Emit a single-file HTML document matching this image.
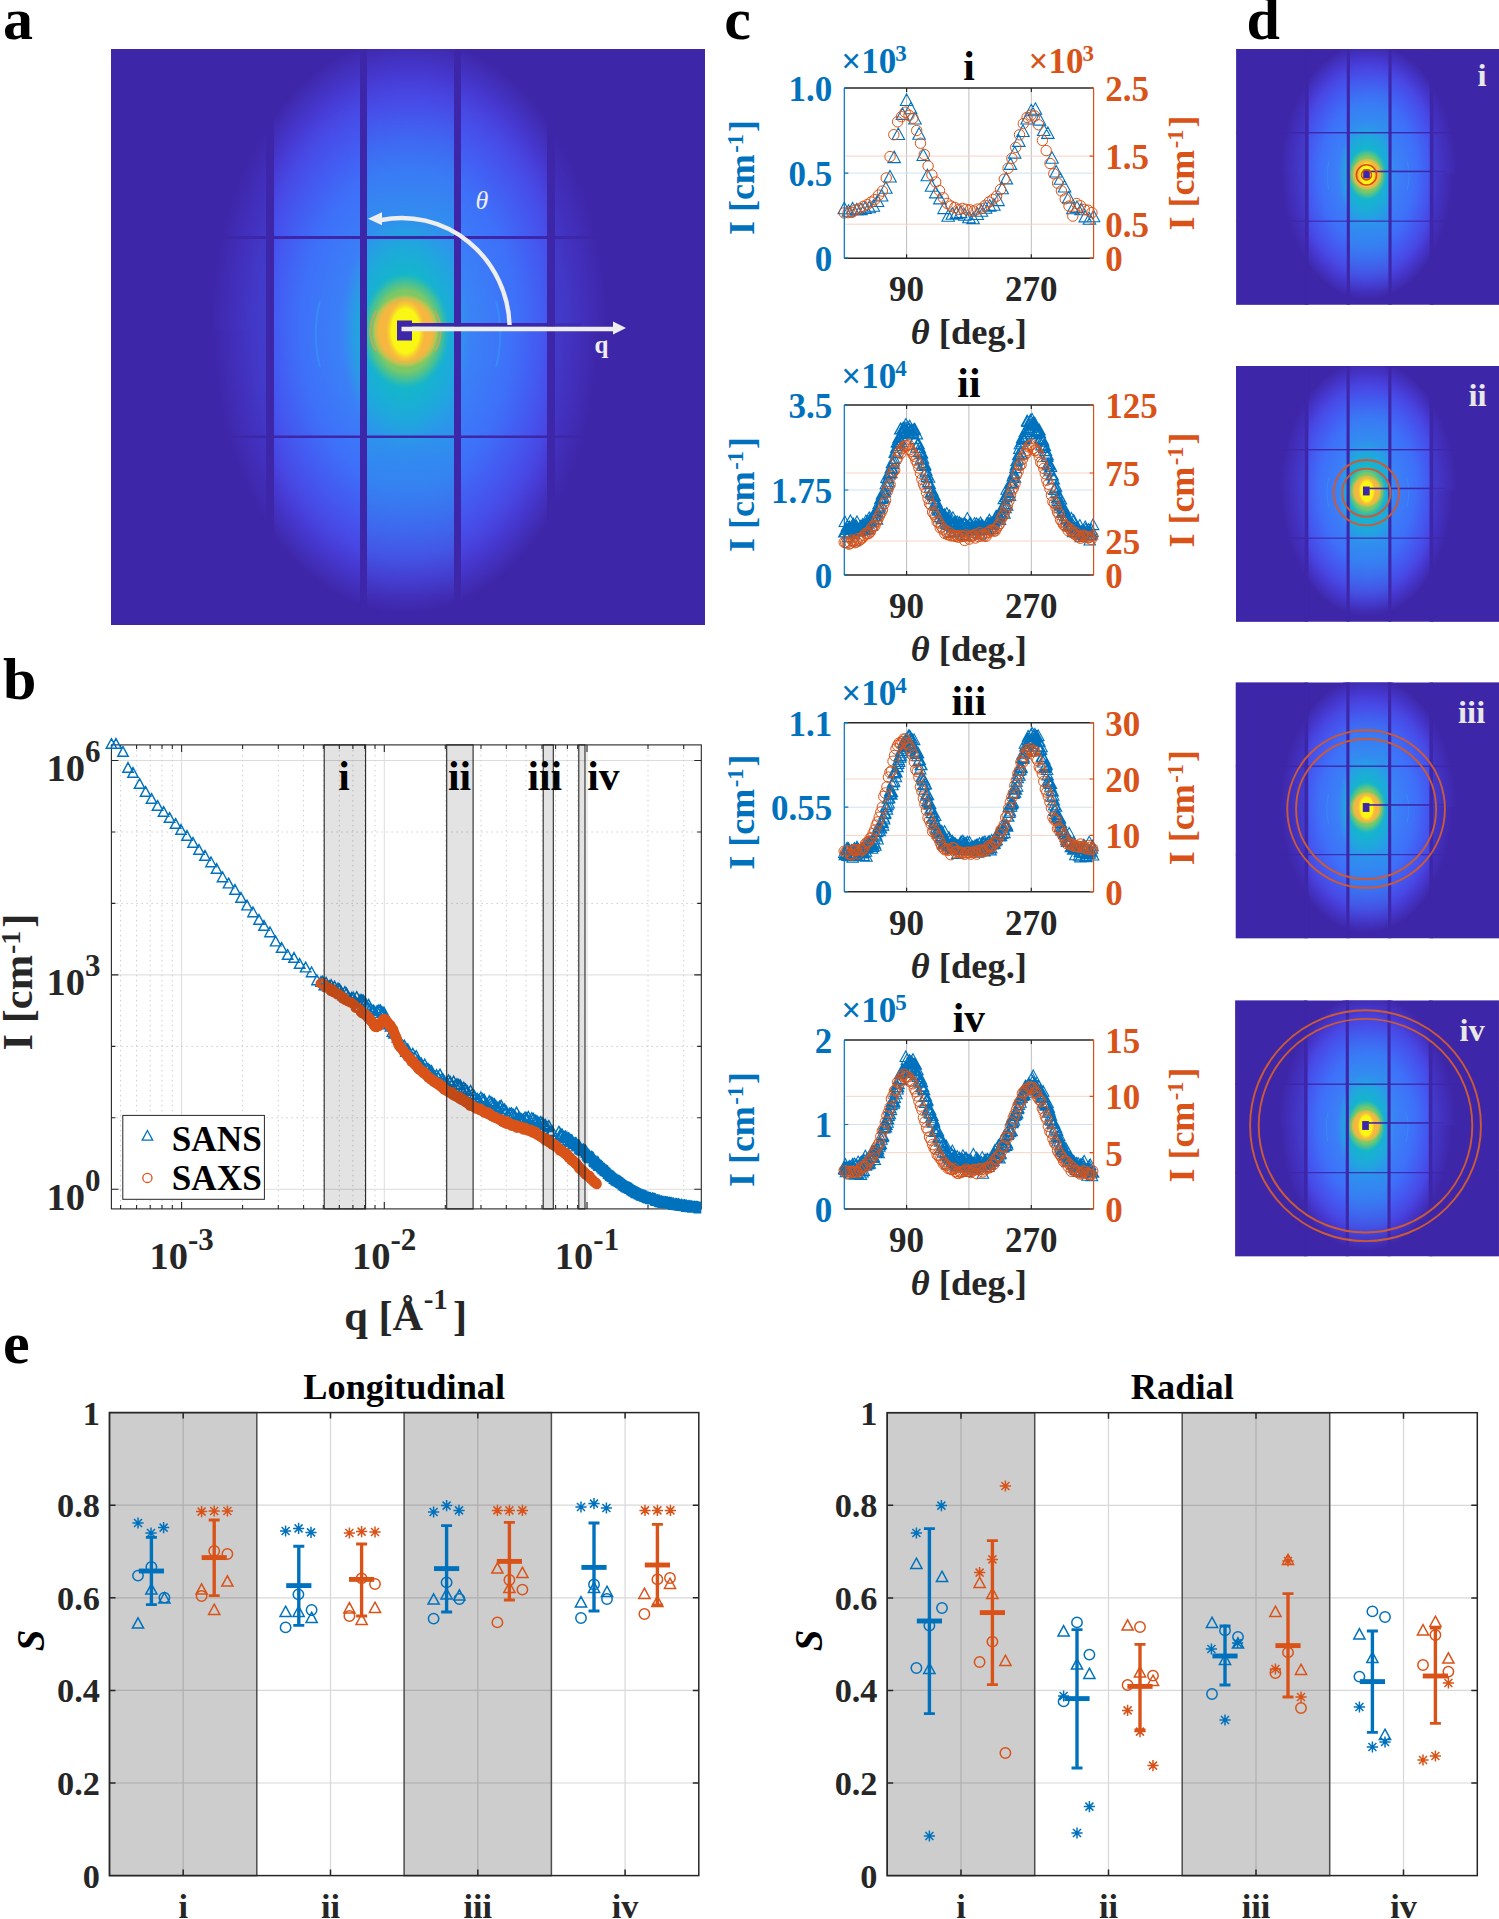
<!DOCTYPE html><html><head><meta charset="utf-8"><style>html,body{margin:0;padding:0;background:#fff;}svg{display:block;}</style></head><body>
<svg width="1499" height="1919" viewBox="0 0 1499 1919" font-family="'Liberation Serif', serif" font-weight="bold">
<rect width="1499" height="1919" fill="#fff"/>
<defs><clipPath id="clipA"><rect x="0" y="0" width="594" height="576"/></clipPath></defs>
<g transform="translate(111 49)"><defs>
<radialGradient id="gBigT" gradientUnits="userSpaceOnUse" cx="0" cy="0" r="1" gradientTransform="translate(298 281) scale(199 293)"><stop offset="0" stop-color="#3390F0"/><stop offset="0.3" stop-color="#3A84F6"/><stop offset="0.55" stop-color="#3E70F9"/><stop offset="0.7" stop-color="#4458F0"/><stop offset="0.8" stop-color="#4848E4"/><stop offset="0.88" stop-color="#4638D0"/><stop offset="0.94" stop-color="#4230BC"/><stop offset="1" stop-color="#3E26A8"/></radialGradient>
<radialGradient id="gBigB" gradientUnits="userSpaceOnUse" cx="0" cy="0" r="1" gradientTransform="translate(295 281) scale(193 283)"><stop offset="0" stop-color="#3390F0"/><stop offset="0.3" stop-color="#3A84F6"/><stop offset="0.55" stop-color="#3E70F9"/><stop offset="0.7" stop-color="#4458F0"/><stop offset="0.8" stop-color="#4848E4"/><stop offset="0.88" stop-color="#4638D0"/><stop offset="0.94" stop-color="#4230BC"/><stop offset="1" stop-color="#3E26A8"/></radialGradient>
<clipPath id="cTop"><rect x="0" y="0" width="594" height="282"/></clipPath><clipPath id="cBot"><rect x="0" y="280.5" width="594" height="296"/></clipPath>
<radialGradient id="gTeal" gradientUnits="userSpaceOnUse" cx="0" cy="0" r="1" gradientTransform="translate(294 283) scale(64 118)"><stop offset="0" stop-color="#13B7C9"/><stop offset="0.5" stop-color="#15B5CC"/><stop offset="0.75" stop-color="#1AAED6" stop-opacity="0.7"/><stop offset="1" stop-color="#22A6E0" stop-opacity="0"/></radialGradient>
<radialGradient id="gGreen" gradientUnits="userSpaceOnUse" cx="0" cy="0" r="1" gradientTransform="translate(294.5 282) scale(44 58)"><stop offset="0" stop-color="#8CCA5A"/><stop offset="0.7" stop-color="#7CC866"/><stop offset="0.86" stop-color="#50C48A" stop-opacity="0.7"/><stop offset="1" stop-color="#30BEA8" stop-opacity="0"/></radialGradient>
<radialGradient id="gOr" gradientUnits="userSpaceOnUse" cx="0" cy="0" r="1" gradientTransform="translate(294.5 282) scale(34 37)"><stop offset="0" stop-color="#F8BC3C"/><stop offset="0.78" stop-color="#F6B640"/><stop offset="0.9" stop-color="#E4BE46" stop-opacity="0.7"/><stop offset="1" stop-color="#C0C850" stop-opacity="0"/></radialGradient>
<radialGradient id="gYel" gradientUnits="userSpaceOnUse" cx="0" cy="0" r="1" gradientTransform="translate(294.5 282) scale(19.5 31)"><stop offset="0" stop-color="#FAFA10"/><stop offset="0.72" stop-color="#F9F614"/><stop offset="1" stop-color="#F8D22E" stop-opacity="0"/></radialGradient>
<linearGradient id="gCol" x1="0" y1="0" x2="0" y2="576" gradientUnits="userSpaceOnUse"><stop offset="0" stop-color="#2C98EA" stop-opacity="0"/><stop offset="0.1" stop-color="#2C98EA" stop-opacity="0"/><stop offset="0.23" stop-color="#2C98EA" stop-opacity="0.3"/><stop offset="0.33" stop-color="#26A0E6" stop-opacity="0.6"/><stop offset="0.45" stop-color="#1AAEDC" stop-opacity="0.85"/><stop offset="0.6" stop-color="#1EA8E0" stop-opacity="0.8"/><stop offset="0.72" stop-color="#2A98EA" stop-opacity="0.55"/><stop offset="0.84" stop-color="#2C98EA" stop-opacity="0.25"/><stop offset="0.95" stop-color="#2C98EA" stop-opacity="0"/></linearGradient>
</defs>
<g id="det">
<rect x="0" y="0" width="594" height="576" fill="#3E26A8"/>
<ellipse cx="298" cy="281" rx="199" ry="293" fill="url(#gBigT)" clip-path="url(#cTop)"/>
<ellipse cx="295" cy="281" rx="193" ry="283" fill="url(#gBigB)" clip-path="url(#cBot)"/>
<rect x="0" y="0" width="159" height="576" fill="#3E26A8" fill-opacity="0.5"/>
<rect x="440" y="0" width="154" height="576" fill="#3E26A8" fill-opacity="0.5"/>
<rect x="252" y="0" width="94" height="576" fill="url(#gCol)"/>
<ellipse cx="294" cy="283" rx="64" ry="118" fill="url(#gTeal)"/>
<ellipse cx="294.5" cy="282" rx="44" ry="58" fill="url(#gGreen)"/>
<ellipse cx="294.5" cy="282" rx="34" ry="37" fill="url(#gOr)"/>
<path d="M265 262 A34 36 0 0 0 265 302 M324 262 A34 36 0 0 1 324 302" fill="none" stroke="#F0A040" stroke-opacity="0.6" stroke-width="2"/>
<ellipse cx="294.5" cy="282" rx="19.5" ry="31" fill="url(#gYel)"/>
<path d="M209 252 A90 110 0 0 0 209 318 M385 252 A90 110 0 0 1 385 318" fill="none" stroke="#30B0F0" stroke-opacity="0.35" stroke-width="2"/>
<rect x="155" y="0" width="8" height="576" fill="#3E26A8"/>
<rect x="249" y="0" width="7" height="576" fill="#3E26A8"/>
<rect x="343" y="0" width="7" height="576" fill="#3E26A8"/>
<rect x="436" y="0" width="8" height="576" fill="#3E26A8"/>
<rect x="0" y="187" width="594" height="3" fill="#3E26A8"/>
<rect x="0" y="386.5" width="594" height="2.5" fill="#3E26A8"/>
<rect x="286" y="271.5" width="15" height="20" fill="#3E26A8"/>
<rect x="300" y="274" width="140" height="3.6" fill="#3E26A8"/>
<rect x="440" y="274.3" width="30" height="3" fill="#3E26A8" fill-opacity="0.6"/>
</g></g>
<g fill="none" stroke="#EEEEEE" stroke-width="4.4">
<line x1="401.5" y1="329" x2="615" y2="329"/>
<path d="M509.6 325 A108 111 0 0 0 381.4 220"/>
</g>
<path d="M626 328 L613 321.5 L613 334.5 Z" fill="#EEEEEE"/>
<path d="M368 218.8 L382 212.3 L382 225.3 Z" fill="#EEEEEE"/>
<text x="475.4" y="208.7" font-size="26" font-style="italic" font-weight="normal" fill="#EEEEEE">θ</text>
<text x="594.5" y="352.6" font-size="25" fill="#EEEEEE">q</text>
<use href="#det" transform="translate(1236.2 49) scale(0.444)"/>
<circle cx="1366.5" cy="174.9" r="5.0" fill="none" stroke="#D2500E" stroke-width="1.6"/>
<circle cx="1366.5" cy="174.9" r="10.1" fill="none" stroke="#D2500E" stroke-width="1.6"/>
<text x="1486.5" y="85.6" font-size="32.5" fill="#E8E8E8" text-anchor="end">i</text>
<use href="#det" transform="translate(1236 366) scale(0.444)"/>
<circle cx="1366.3" cy="492.7" r="24.1" fill="none" stroke="#CC5A36" stroke-width="1.9"/>
<circle cx="1366.3" cy="492.7" r="32.7" fill="none" stroke="#CC5A36" stroke-width="1.9"/>
<text x="1486.6" y="406.1" font-size="32.5" fill="#E8E8E8" text-anchor="end">ii</text>
<use href="#det" transform="translate(1235.8 682.5) scale(0.444)"/>
<circle cx="1366.1" cy="809" r="70" fill="none" stroke="#CC5A36" stroke-width="1.9"/>
<circle cx="1366.1" cy="809" r="78.8" fill="none" stroke="#CC5A36" stroke-width="1.9"/>
<text x="1485.2" y="723.3" font-size="32.5" fill="#E8E8E8" text-anchor="end">iii</text>
<use href="#det" transform="translate(1235.2 1000.5) scale(0.444)"/>
<circle cx="1365.5" cy="1125.7" r="106.8" fill="none" stroke="#CC5A36" stroke-width="1.9"/>
<circle cx="1365.5" cy="1125.7" r="115.4" fill="none" stroke="#CC5A36" stroke-width="1.9"/>
<text x="1484.8" y="1040.5" font-size="32.5" fill="#E8E8E8" text-anchor="end">iv</text>
<g font-size="60" fill="#000">
<text x="2.9" y="39">a</text>
<text x="2.9" y="699">b</text>
<text x="724.2" y="39.2">c</text>
<text x="1246.6" y="39.4">d</text>
<text x="2.9" y="1363">e</text>
</g>
<defs><clipPath id="clipB"><rect x="100" y="700" width="601.3" height="530"/></clipPath></defs>
<path d="M181.6 744.9V1208.9M384.3 744.9V1208.9M587 744.9V1208.9M111.4 1189.3H701.3M111.4 974.9H701.3M111.4 760.5H701.3" stroke="#DCDCDC" stroke-width="1" fill="none"/>
<path d="M120.6 744.9V1208.9M136.6 744.9V1208.9M150.2 744.9V1208.9M162 744.9V1208.9M172.3 744.9V1208.9M242.6 744.9V1208.9M278.3 744.9V1208.9M303.6 744.9V1208.9M323.3 744.9V1208.9M339.3 744.9V1208.9M352.9 744.9V1208.9M364.7 744.9V1208.9M375 744.9V1208.9M445.3 744.9V1208.9M481 744.9V1208.9M506.3 744.9V1208.9M526 744.9V1208.9M542 744.9V1208.9M555.6 744.9V1208.9M567.4 744.9V1208.9M577.7 744.9V1208.9M648 744.9V1208.9M683.7 744.9V1208.9M111.4 1117.8H701.3M111.4 1046.4H701.3M111.4 903.4H701.3M111.4 832H701.3" stroke="#CDCDCD" stroke-width="1" stroke-dasharray="1.5 3.5" fill="none"/>
<rect x="111.4" y="744.9" width="589.9" height="464" fill="none" stroke="#262626" stroke-width="1.1"/>
<path d="M120.6 1208.9V1204.9M120.6 744.9V748.9M136.6 1208.9V1204.9M136.6 744.9V748.9M150.2 1208.9V1204.9M150.2 744.9V748.9M162 1208.9V1204.9M162 744.9V748.9M172.3 1208.9V1204.9M172.3 744.9V748.9M181.6 1208.9V1201.9M181.6 744.9V751.9M242.6 1208.9V1204.9M242.6 744.9V748.9M278.3 1208.9V1204.9M278.3 744.9V748.9M303.6 1208.9V1204.9M303.6 744.9V748.9M323.3 1208.9V1204.9M323.3 744.9V748.9M339.3 1208.9V1204.9M339.3 744.9V748.9M352.9 1208.9V1204.9M352.9 744.9V748.9M364.7 1208.9V1204.9M364.7 744.9V748.9M375 1208.9V1204.9M375 744.9V748.9M384.3 1208.9V1201.9M384.3 744.9V751.9M445.3 1208.9V1204.9M445.3 744.9V748.9M481 1208.9V1204.9M481 744.9V748.9M506.3 1208.9V1204.9M506.3 744.9V748.9M526 1208.9V1204.9M526 744.9V748.9M542 1208.9V1204.9M542 744.9V748.9M555.6 1208.9V1204.9M555.6 744.9V748.9M567.4 1208.9V1204.9M567.4 744.9V748.9M577.7 1208.9V1204.9M577.7 744.9V748.9M587 1208.9V1201.9M587 744.9V751.9M648 1208.9V1204.9M648 744.9V748.9M683.7 1208.9V1204.9M683.7 744.9V748.9M111.4 1189.3H118.4M701.3 1189.3H694.3M111.4 1117.8H115.4M701.3 1117.8H697.3M111.4 1046.4H115.4M701.3 1046.4H697.3M111.4 974.9H118.4M701.3 974.9H694.3M111.4 903.4H115.4M701.3 903.4H697.3M111.4 832H115.4M701.3 832H697.3M111.4 760.5H118.4M701.3 760.5H694.3" stroke="#262626" stroke-width="1.1" fill="none"/>
<g clip-path="url(#clipB)">
<path d="M111.4 738.6L116.7 748.3L106.2 748.3ZM116 738.6L121.2 748.3L110.8 748.3ZM123 746.6L128.2 756.3L117.8 756.3ZM128 762.6L133.2 772.3L122.8 772.3ZM133 767.6L138.2 777.3L127.8 777.3ZM139.6 778.6L144.8 788.3L134.3 788.3ZM145.6 786.6L150.8 796.3L140.3 796.3ZM151.6 793.6L156.8 803.3L146.3 803.3ZM157.6 800.6L162.8 810.3L152.3 810.3ZM163.6 806.6L168.8 816.3L158.3 816.3ZM169.6 812.6L174.8 822.3L164.3 822.3ZM175.6 818.6L180.8 828.3L170.3 828.3ZM181 824.6L186.2 834.3L175.8 834.3ZM187 830.6L192.2 840.3L181.8 840.3ZM193 837.6L198.2 847.3L187.8 847.3ZM199 844.6L204.2 854.3L193.8 854.3ZM205 850.6L210.2 860.3L199.8 860.3ZM211 857L216.2 866.7L205.8 866.7ZM216.6 863.6L221.8 873.3L211.3 873.3ZM222.6 872L227.8 881.7L217.3 881.7ZM228.6 878.2L233.8 887.9L223.3 887.9ZM235 884.6L240.2 894.3L229.8 894.3ZM241 892.6L246.2 902.3L235.8 902.3ZM247 900.2L252.2 909.9L241.8 909.9ZM253 907L258.2 916.7L247.8 916.7ZM259 914.6L264.2 924.3L253.8 924.3ZM264 920.6L269.2 930.3L258.8 930.3ZM270 927L275.2 936.7L264.8 936.7ZM275.6 936.2L280.9 945.9L270.4 945.9ZM281.6 942.6L286.9 952.3L276.4 952.3ZM287.6 949.6L292.9 959.3L282.4 959.3ZM294 952.6L299.2 962.3L288.8 962.3ZM299.6 958.6L304.9 968.3L294.4 968.3ZM305.6 962.2L310.9 971.9L300.4 971.9ZM311.6 967L316.9 976.7L306.4 976.7ZM317 975L322.2 984.7L311.8 984.7ZM321 976.5L326.2 986.2L315.8 986.2ZM322.7 976.3L327.9 986L317.4 986ZM324.4 980.1L329.6 989.8L319.1 989.8ZM326.1 977.4L331.3 987.1L320.8 987.1ZM327.8 981L333 990.7L322.5 990.7ZM329.5 980.8L334.7 990.5L324.2 990.5ZM331.2 979.8L336.4 989.4L325.9 989.4ZM332.9 983.3L338.1 992.9L327.6 992.9ZM334.6 981.3L339.8 990.9L329.3 990.9ZM336.3 984.4L341.5 994.1L331 994.1ZM338 983.1L343.2 992.7L332.7 992.7ZM339.7 984L344.9 993.7L334.4 993.7ZM341.4 986.8L346.6 996.5L336.1 996.5ZM343.1 990L348.3 999.7L337.8 999.7ZM344.8 986.6L350 996.2L339.5 996.2ZM346.5 988L351.7 997.6L341.2 997.6ZM348.2 991.2L353.4 1000.9L342.9 1000.9ZM349.9 993.9L355.1 1003.6L344.6 1003.6ZM351.6 992.5L356.8 1002.2L346.3 1002.2ZM353.3 992.2L358.5 1001.9L348 1001.9ZM355 996.5L360.2 1006.1L349.7 1006.1ZM356.7 991.7L361.9 1001.4L351.4 1001.4ZM358.4 997.4L363.6 1007L353.1 1007ZM360.1 994.7L365.3 1004.4L354.8 1004.4ZM361.8 994.7L367 1004.3L356.5 1004.3ZM363.5 995.3L368.7 1005L358.2 1005ZM365.2 997.3L370.4 1006.9L359.9 1006.9ZM366.9 1001.7L372.1 1011.3L361.6 1011.3ZM368.6 999.4L373.8 1009.1L363.3 1009.1ZM370.3 1003.4L375.5 1013L365 1013ZM372 1005.2L377.2 1014.9L366.7 1014.9ZM373.7 1005.2L378.9 1014.8L368.4 1014.8ZM375.4 1007.8L380.6 1017.4L370.1 1017.4ZM377.1 1005.7L382.3 1015.4L371.8 1015.4ZM378.8 1004.9L384 1014.6L373.5 1014.6ZM380.5 1005L385.7 1014.7L375.2 1014.7ZM382.2 1007L387.4 1016.7L376.9 1016.7ZM383.9 1007.2L389.1 1016.9L378.6 1016.9ZM385.6 1010.4L390.8 1020.1L380.3 1020.1ZM387.3 1015.9L392.5 1025.6L382 1025.6ZM389 1019L394.2 1028.7L383.7 1028.7ZM390.7 1021.4L395.9 1031L385.4 1031ZM392.4 1026.7L397.6 1036.4L387.1 1036.4ZM394.1 1028.5L399.3 1038.1L388.8 1038.1ZM395.8 1028.1L401 1037.8L390.5 1037.8ZM397.5 1032.5L402.7 1042.1L392.2 1042.1ZM399.2 1034.5L404.4 1044.2L393.9 1044.2ZM400.9 1039L406.1 1048.6L395.6 1048.6ZM402.6 1040.5L407.8 1050.1L397.3 1050.1ZM404.3 1040.2L409.5 1049.8L399 1049.8ZM406 1046.7L411.2 1056.4L400.7 1056.4ZM407.7 1043.9L412.9 1053.5L402.4 1053.5ZM409.4 1047.2L414.6 1056.9L404.1 1056.9ZM411.1 1050.7L416.3 1060.3L405.8 1060.3ZM412.8 1048.4L418 1058.1L407.5 1058.1ZM414.5 1051.9L419.7 1061.5L409.2 1061.5ZM416.2 1050.6L421.4 1060.2L410.9 1060.2ZM417.9 1055.7L423.1 1065.4L412.6 1065.4ZM419.6 1057.7L424.8 1067.4L414.3 1067.4ZM421.3 1058L426.5 1067.6L416 1067.6ZM423 1061.2L428.2 1070.8L417.7 1070.8ZM424.7 1059.2L429.9 1068.9L419.4 1068.9ZM426.4 1062.9L431.6 1072.5L421.1 1072.5ZM428.1 1063.7L433.3 1073.3L422.8 1073.3ZM429.8 1065L435 1074.6L424.5 1074.6ZM431.5 1065.6L436.7 1075.3L426.2 1075.3ZM433.2 1069.3L438.4 1079L427.9 1079ZM434.9 1071.4L440.1 1081L429.6 1081ZM436.6 1069.8L441.8 1079.4L431.3 1079.4ZM438.3 1071.8L443.5 1081.5L433 1081.5ZM440 1069.1L445.2 1078.8L434.7 1078.8ZM441.7 1073.9L446.9 1083.5L436.4 1083.5ZM443.4 1074.4L448.6 1084.1L438.1 1084.1ZM445.1 1077.4L450.3 1087.1L439.8 1087.1ZM446.8 1077.3L452 1087L441.5 1087ZM448.5 1075L453.7 1084.7L443.2 1084.7ZM450.2 1076.5L455.4 1086.2L444.9 1086.2ZM451.9 1079.1L457.1 1088.8L446.6 1088.8ZM453.6 1076.2L458.8 1085.8L448.3 1085.8ZM455.3 1079.7L460.5 1089.4L450 1089.4ZM457 1078.8L462.2 1088.5L451.7 1088.5ZM458.7 1079.5L463.9 1089.1L453.4 1089.1ZM460.4 1080L465.6 1089.7L455.1 1089.7ZM462.1 1085.2L467.3 1094.8L456.8 1094.8ZM463.8 1082.3L469 1091.9L458.5 1091.9ZM465.5 1083.9L470.7 1093.5L460.2 1093.5ZM467.2 1085.6L472.4 1095.3L461.9 1095.3ZM468.9 1089.4L474.1 1099.1L463.6 1099.1ZM470.6 1085.5L475.8 1095.2L465.3 1095.2ZM472.3 1088.6L477.5 1098.3L467 1098.3ZM474 1090.1L479.2 1099.8L468.7 1099.8ZM475.7 1093L480.9 1102.7L470.4 1102.7ZM477.4 1093.5L482.6 1103.2L472.1 1103.2ZM479.1 1094.7L484.3 1104.4L473.8 1104.4ZM480.8 1092.1L486 1101.7L475.5 1101.7ZM482.5 1093.8L487.7 1103.5L477.2 1103.5ZM484.2 1094.3L489.4 1104L478.9 1104ZM485.9 1098.4L491.1 1108.1L480.6 1108.1ZM487.6 1099.7L492.8 1109.4L482.3 1109.4ZM489.3 1095.8L494.5 1105.4L484 1105.4ZM491 1096.8L496.2 1106.5L485.7 1106.5ZM492.7 1098L497.9 1107.6L487.4 1107.6ZM494.4 1098.7L499.6 1108.4L489.1 1108.4ZM496.1 1101L501.3 1110.7L490.8 1110.7ZM497.8 1102.4L503 1112L492.5 1112ZM499.5 1101.2L504.7 1110.8L494.2 1110.8ZM501.2 1100.3L506.4 1110L495.9 1110ZM502.9 1103.6L508.1 1113.2L497.6 1113.2ZM504.6 1104L509.8 1113.7L499.3 1113.7ZM506.3 1106L511.5 1115.6L501 1115.6ZM508 1109L513.2 1118.7L502.7 1118.7ZM509.7 1108.2L514.9 1117.9L504.4 1117.9ZM511.4 1107.9L516.6 1117.5L506.1 1117.5ZM513.1 1109.2L518.3 1118.9L507.8 1118.9ZM514.8 1110.3L520 1120L509.5 1120ZM516.5 1107.2L521.7 1116.9L511.2 1116.9ZM518.2 1112.9L523.4 1122.5L512.9 1122.5ZM519.9 1112.7L525.1 1122.4L514.6 1122.4ZM521.6 1113.9L526.8 1123.5L516.3 1123.5ZM523.3 1114L528.5 1123.6L518 1123.6ZM525 1112.1L530.2 1121.7L519.7 1121.7ZM526.7 1112.7L531.9 1122.4L521.4 1122.4ZM528.4 1111.5L533.6 1121.1L523.1 1121.1ZM530.1 1115.2L535.3 1124.9L524.8 1124.9ZM531.8 1112.6L537 1122.3L526.5 1122.3ZM533.5 1113.5L538.7 1123.2L528.2 1123.2ZM535.2 1115.2L540.4 1124.8L529.9 1124.8ZM536.9 1115.7L542.1 1125.4L531.6 1125.4ZM538.6 1117.6L543.8 1127.3L533.3 1127.3ZM540.3 1116.7L545.5 1126.4L535 1126.4ZM542 1117.2L547.2 1126.9L536.7 1126.9ZM543.7 1119L548.9 1128.6L538.4 1128.6ZM545.4 1119.5L550.6 1129.2L540.1 1129.2ZM547.1 1121.9L552.3 1131.6L541.8 1131.6ZM548.8 1120.7L554 1130.4L543.5 1130.4ZM550.5 1126.6L555.7 1136.3L545.2 1136.3ZM552.2 1125.9L557.4 1135.5L546.9 1135.5ZM558.9 1126.4L564.1 1136.1L553.6 1136.1ZM560.6 1128.8L565.8 1138.4L555.3 1138.4ZM561.2 1129.4L566.4 1139.1L555.9 1139.1ZM561.8 1129.9L567 1139.5L556.5 1139.5ZM562.4 1129.5L567.6 1139.1L557.1 1139.1ZM563 1132.1L568.2 1141.8L557.8 1141.8ZM563.6 1133L568.9 1142.6L558.4 1142.6ZM564.2 1131.7L569.5 1141.3L559 1141.3ZM564.8 1132.1L570.1 1141.7L559.6 1141.7ZM565.4 1131.2L570.7 1140.8L560.2 1140.8ZM566 1131.6L571.3 1141.3L560.8 1141.3ZM566.6 1132.7L571.9 1142.4L561.4 1142.4ZM567.2 1132.8L572.5 1142.5L562 1142.5ZM567.8 1135L573.1 1144.7L562.6 1144.7ZM568.4 1133.2L573.7 1142.9L563.2 1142.9ZM569 1133.2L574.3 1142.8L563.8 1142.8ZM569.6 1136.5L574.9 1146.2L564.4 1146.2ZM570.2 1135.5L575.5 1145.2L565 1145.2ZM570.8 1134.7L576.1 1144.3L565.6 1144.3ZM571.4 1136.3L576.7 1146L566.2 1146ZM572 1135L577.3 1144.7L566.8 1144.7ZM572.6 1137L577.9 1146.6L567.4 1146.6ZM573.2 1138.8L578.5 1148.5L568 1148.5ZM573.8 1138.8L579.1 1148.4L568.6 1148.4ZM574.4 1138.6L579.7 1148.3L569.2 1148.3ZM575 1137.6L580.3 1147.3L569.8 1147.3ZM575.6 1138.3L580.9 1148L570.4 1148ZM576.2 1138L581.5 1147.7L571 1147.7ZM576.8 1140.3L582.1 1150L571.6 1150ZM577.4 1139.9L582.7 1149.6L572.2 1149.6ZM578 1141.1L583.3 1150.7L572.8 1150.7ZM578.6 1140.2L583.9 1149.8L573.4 1149.8ZM579.2 1140.4L584.5 1150L574 1150ZM579.8 1142.8L585.1 1152.5L574.6 1152.5ZM580.4 1143.9L585.7 1153.6L575.2 1153.6ZM581 1144L586.3 1153.7L575.8 1153.7ZM581.6 1144.4L586.9 1154.1L576.4 1154.1ZM582.2 1145L587.5 1154.6L577 1154.6ZM582.8 1145.3L588.1 1154.9L577.6 1154.9ZM583.4 1144.2L588.7 1153.8L578.2 1153.8ZM584 1145.6L589.3 1155.3L578.8 1155.3ZM584.6 1145.7L589.9 1155.3L579.4 1155.3ZM585.2 1145.2L590.5 1154.8L580 1154.8ZM585.8 1145.7L591.1 1155.4L580.6 1155.4ZM586.4 1147L591.7 1156.7L581.2 1156.7ZM587 1147.5L592.3 1157.2L581.8 1157.2ZM587.6 1149.4L592.9 1159.1L582.4 1159.1ZM588.2 1150.8L593.5 1160.5L583 1160.5ZM588.8 1149.7L594.1 1159.4L583.6 1159.4ZM589.4 1151.8L594.7 1161.5L584.2 1161.5ZM590 1152.6L595.3 1162.2L584.8 1162.2ZM590.6 1153L595.9 1162.6L585.4 1162.6ZM591.2 1151.6L596.5 1161.3L586 1161.3ZM591.8 1151.7L597.1 1161.4L586.6 1161.4ZM592.4 1152.3L597.7 1161.9L587.2 1161.9ZM593 1152.7L598.3 1162.4L587.8 1162.4ZM593.6 1153.3L598.9 1162.9L588.4 1162.9ZM594.2 1155.2L599.5 1164.8L589 1164.8ZM594.8 1156.6L600.1 1166.3L589.6 1166.3ZM595.4 1156.9L600.7 1166.6L590.2 1166.6ZM596 1156.3L601.3 1166L590.8 1166ZM596.6 1157.4L601.9 1167.1L591.4 1167.1ZM597.2 1158.4L602.5 1168.1L592 1168.1ZM597.8 1156.7L603.1 1166.3L592.6 1166.3ZM598.4 1159.1L603.7 1168.7L593.2 1168.7ZM599 1160.4L604.3 1170.1L593.8 1170.1ZM599.6 1160.5L604.9 1170.2L594.4 1170.2ZM600.2 1160.5L605.5 1170.1L595 1170.1ZM600.8 1160.7L606.1 1170.3L595.6 1170.3ZM601.4 1160.9L606.7 1170.5L596.2 1170.5ZM602 1162.1L607.3 1171.8L596.8 1171.8ZM602.6 1162.1L607.9 1171.8L597.4 1171.8ZM603.2 1163.2L608.5 1172.9L598 1172.9ZM603.8 1164L609.1 1173.6L598.6 1173.6ZM604.4 1163.8L609.7 1173.5L599.2 1173.5ZM605 1164.4L610.3 1174L599.8 1174ZM605.6 1165.6L610.9 1175.2L600.4 1175.2ZM606.2 1165.8L611.5 1175.5L601 1175.5ZM606.8 1165.7L612.1 1175.4L601.6 1175.4ZM607.4 1166.2L612.7 1175.9L602.2 1175.9ZM608 1166.8L613.3 1176.4L602.8 1176.4ZM608.6 1168.2L613.9 1177.9L603.4 1177.9ZM609.2 1168.6L614.5 1178.3L604 1178.3ZM609.8 1168.4L615.1 1178L604.6 1178ZM610.4 1169.7L615.7 1179.4L605.2 1179.4ZM611 1170.5L616.3 1180.1L605.8 1180.1ZM611.6 1170.6L616.9 1180.3L606.4 1180.3ZM612.2 1170.8L617.5 1180.5L607 1180.5ZM612.8 1171.6L618.1 1181.2L607.6 1181.2ZM613.4 1171.6L618.7 1181.3L608.2 1181.3ZM614 1172L619.3 1181.7L608.8 1181.7ZM614.6 1173.6L619.9 1183.2L609.4 1183.2ZM615.2 1173.6L620.5 1183.3L610 1183.3ZM615.8 1173.9L621.1 1183.5L610.6 1183.5ZM616.4 1174.8L621.7 1184.5L611.2 1184.5ZM617 1174.6L622.3 1184.3L611.8 1184.3ZM617.6 1175.6L622.9 1185.2L612.4 1185.2ZM618.2 1175.9L623.5 1185.6L613 1185.6ZM618.8 1175.6L624.1 1185.3L613.6 1185.3ZM619.4 1176.1L624.7 1185.7L614.2 1185.7ZM620 1176.5L625.3 1186.2L614.8 1186.2ZM620.6 1176.9L625.9 1186.6L615.4 1186.6ZM621.2 1177.7L626.5 1187.4L616 1187.4ZM621.8 1177.8L627.1 1187.4L616.6 1187.4ZM622.4 1178.4L627.7 1188L617.2 1188ZM623 1178.4L628.3 1188.1L617.8 1188.1ZM623.6 1179.8L628.9 1189.5L618.4 1189.5ZM624.2 1179.6L629.5 1189.2L619 1189.2ZM624.8 1180.1L630.1 1189.8L619.6 1189.8ZM625.4 1180.7L630.7 1190.3L620.2 1190.3ZM626 1181.5L631.3 1191.1L620.8 1191.1ZM626.6 1181.3L631.9 1190.9L621.4 1190.9ZM627.2 1182.2L632.5 1191.9L622 1191.9ZM627.8 1182.1L633.1 1191.7L622.6 1191.7ZM628.4 1182.5L633.7 1192.1L623.2 1192.1ZM629 1182.8L634.3 1192.5L623.8 1192.5ZM629.6 1182.6L634.9 1192.2L624.4 1192.2ZM630.2 1183.4L635.5 1193.1L625 1193.1ZM630.8 1183.5L636.1 1193.2L625.6 1193.2ZM631.4 1183.6L636.7 1193.3L626.2 1193.3ZM632 1184.9L637.3 1194.6L626.8 1194.6ZM632.6 1184.6L637.9 1194.2L627.4 1194.2ZM633.2 1185.3L638.5 1194.9L628 1194.9ZM633.8 1185.9L639.1 1195.6L628.6 1195.6ZM634.4 1186.1L639.7 1195.8L629.2 1195.8ZM635 1186.2L640.3 1195.8L629.8 1195.8ZM635.6 1186.8L640.9 1196.4L630.4 1196.4ZM636.2 1187.2L641.5 1196.8L631 1196.8ZM636.8 1187.8L642.1 1197.5L631.6 1197.5ZM637.4 1187.4L642.7 1197L632.2 1197ZM638 1188.3L643.3 1197.9L632.8 1197.9ZM638.6 1188.1L643.9 1197.8L633.4 1197.8ZM639.2 1188.4L644.5 1198.1L634 1198.1ZM639.8 1189.2L645.1 1198.9L634.6 1198.9ZM640.4 1189.2L645.7 1198.8L635.2 1198.8ZM641 1189.5L646.3 1199.1L635.8 1199.1ZM641.6 1189.9L646.9 1199.6L636.4 1199.6ZM642.2 1190.4L647.5 1200L637 1200ZM642.8 1190L648.1 1199.7L637.6 1199.7ZM643.4 1190.5L648.7 1200.1L638.2 1200.1ZM644 1190.6L649.3 1200.3L638.8 1200.3ZM644.6 1190.8L649.9 1200.5L639.4 1200.5ZM645.2 1191.3L650.5 1201L640 1201ZM645.8 1191.3L651.1 1200.9L640.6 1200.9ZM646.4 1191.6L651.7 1201.3L641.2 1201.3ZM647 1191.8L652.3 1201.4L641.8 1201.4ZM647.6 1192.6L652.9 1202.2L642.4 1202.2ZM648.2 1192.5L653.5 1202.2L643 1202.2ZM648.8 1193L654.1 1202.6L643.6 1202.6ZM649.4 1193.3L654.7 1202.9L644.2 1202.9ZM650 1192.7L655.3 1202.4L644.8 1202.4ZM650.6 1193.2L655.9 1202.9L645.4 1202.9ZM651.2 1193.9L656.5 1203.5L646 1203.5ZM651.8 1193.9L657.1 1203.6L646.6 1203.6ZM652.4 1193.3L657.7 1202.9L647.2 1202.9ZM653 1193.4L658.3 1203.1L647.8 1203.1ZM653.6 1194L658.9 1203.7L648.4 1203.7ZM654.2 1193.7L659.5 1203.4L649 1203.4ZM654.8 1194.1L660.1 1203.8L649.6 1203.8ZM655.4 1194.1L660.7 1203.8L650.2 1203.8ZM656 1195L661.3 1204.7L650.8 1204.7ZM656.6 1195.3L661.9 1205L651.4 1205ZM657.2 1195.6L662.5 1205.3L652 1205.3ZM657.8 1194.9L663.1 1204.6L652.6 1204.6ZM658.4 1195.8L663.7 1205.4L653.2 1205.4ZM659 1195.9L664.3 1205.5L653.8 1205.5ZM659.6 1195.4L664.9 1205.1L654.4 1205.1ZM660.2 1196.5L665.5 1206.2L655 1206.2ZM660.8 1196.8L666.1 1206.5L655.6 1206.5ZM661.4 1196.1L666.7 1205.7L656.2 1205.7ZM662 1197.1L667.3 1206.8L656.8 1206.8ZM662.6 1196.6L667.9 1206.2L657.4 1206.2ZM663.2 1196.8L668.5 1206.5L658 1206.5ZM663.8 1197.5L669.1 1207.2L658.6 1207.2ZM664.4 1197.5L669.7 1207.1L659.2 1207.1ZM665 1196.8L670.3 1206.4L659.8 1206.4ZM665.6 1197.2L670.9 1206.9L660.4 1206.9ZM666.2 1197.4L671.5 1207.1L661 1207.1ZM666.8 1197.4L672.1 1207L661.6 1207ZM667.4 1197.3L672.7 1207L662.2 1207ZM668 1197.6L673.3 1207.2L662.8 1207.2ZM668.6 1198.2L673.9 1207.8L663.4 1207.8ZM669.2 1197.5L674.5 1207.1L664 1207.1ZM669.8 1198.2L675.1 1207.9L664.6 1207.9ZM670.4 1198.2L675.7 1207.9L665.2 1207.9ZM671 1197.8L676.3 1207.5L665.8 1207.5ZM671.6 1198.3L676.9 1208L666.4 1208ZM672.2 1198.8L677.5 1208.4L667 1208.4ZM672.8 1198.8L678.1 1208.4L667.6 1208.4ZM673.4 1198.3L678.7 1208L668.2 1208ZM674 1199.6L679.3 1209.2L668.8 1209.2ZM674.6 1199.4L679.9 1209.1L669.4 1209.1ZM675.2 1199.7L680.5 1209.4L670 1209.4ZM675.8 1198.8L681.1 1208.4L670.6 1208.4ZM676.4 1199.1L681.7 1208.7L671.2 1208.7ZM677 1198.9L682.3 1208.5L671.8 1208.5ZM677.6 1199.9L682.9 1209.5L672.4 1209.5ZM678.2 1199.3L683.5 1209L673 1209ZM678.8 1199.3L684.1 1208.9L673.6 1208.9ZM679.4 1199.7L684.7 1209.4L674.2 1209.4ZM680 1200.4L685.3 1210L674.8 1210ZM680.6 1200.4L685.9 1210L675.4 1210ZM681.2 1199.8L686.5 1209.4L676 1209.4ZM681.8 1199.7L687.1 1209.4L676.6 1209.4ZM682.4 1200.8L687.7 1210.4L677.2 1210.4ZM683 1200.4L688.3 1210.1L677.8 1210.1ZM683.6 1200.7L688.9 1210.3L678.4 1210.3ZM684.2 1200L689.5 1209.7L679 1209.7ZM684.8 1200.1L690.1 1209.7L679.6 1209.7ZM685.4 1200.9L690.7 1210.6L680.2 1210.6ZM686 1200.7L691.3 1210.4L680.8 1210.4ZM686.6 1200.4L691.9 1210L681.4 1210ZM687.2 1201.5L692.5 1211.2L682 1211.2ZM687.8 1201.2L693.1 1210.9L682.6 1210.9ZM688.4 1201.5L693.7 1211.2L683.2 1211.2ZM689 1200.7L694.3 1210.4L683.8 1210.4ZM689.6 1201.8L694.9 1211.4L684.4 1211.4ZM690.2 1200.9L695.5 1210.6L685 1210.6ZM690.8 1201.9L696.1 1211.6L685.6 1211.6ZM691.4 1201.5L696.7 1211.2L686.2 1211.2ZM692 1201.5L697.3 1211.2L686.8 1211.2ZM692.6 1201.8L697.9 1211.5L687.4 1211.5ZM693.2 1202.4L698.5 1212L688 1212ZM693.8 1201.7L699.1 1211.3L688.6 1211.3ZM694.4 1201.6L699.7 1211.3L689.2 1211.3ZM695 1202.2L700.3 1211.8L689.8 1211.8ZM695.6 1201.9L700.9 1211.6L690.4 1211.6ZM696.2 1201.9L701.5 1211.5L691 1211.5ZM696.8 1202L702.1 1211.7L691.6 1211.7ZM697.4 1202L702.7 1211.6L692.2 1211.6ZM698 1202.2L703.3 1211.9L692.8 1211.9ZM698.6 1202.5L703.9 1212.1L693.4 1212.1ZM699.2 1202.5L704.5 1212.2L694 1212.2ZM699.8 1203.2L705.1 1212.8L694.6 1212.8ZM700.4 1202.7L705.7 1212.4L695.2 1212.4ZM701 1203L706.3 1212.7L695.8 1212.7ZM701.6 1202.7L706.9 1212.4L696.4 1212.4Z" fill="none" stroke="#0072BD" stroke-width="1.4"/>
<polyline points="365.6,1015 376.6,1027 384.8,1019 393,1030 398.7,1045 409.4,1058 417.4,1067 428.6,1077 445.4,1089.7 473.5,1106.5 501.5,1120.6 518.3,1127 530,1130 546.2,1140 554,1144.4 568.4,1156.4 580.4,1168.4 596.6,1184" fill="none" stroke="#D95319" stroke-width="10.5" stroke-linejoin="round" stroke-linecap="round"/>
<path d="M316.3 983.5a4.2 4.2 0 1 0 8.4 0a4.2 4.2 0 1 0 -8.4 0M317.6 983.2a4.2 4.2 0 1 0 8.4 0a4.2 4.2 0 1 0 -8.4 0M318.9 984.7a4.2 4.2 0 1 0 8.4 0a4.2 4.2 0 1 0 -8.4 0M320.2 984.6a4.2 4.2 0 1 0 8.4 0a4.2 4.2 0 1 0 -8.4 0M321.5 987.7a4.2 4.2 0 1 0 8.4 0a4.2 4.2 0 1 0 -8.4 0M322.8 987.8a4.2 4.2 0 1 0 8.4 0a4.2 4.2 0 1 0 -8.4 0M324.1 987.4a4.2 4.2 0 1 0 8.4 0a4.2 4.2 0 1 0 -8.4 0M325.4 989.1a4.2 4.2 0 1 0 8.4 0a4.2 4.2 0 1 0 -8.4 0M326.7 991.3a4.2 4.2 0 1 0 8.4 0a4.2 4.2 0 1 0 -8.4 0M328 989.3a4.2 4.2 0 1 0 8.4 0a4.2 4.2 0 1 0 -8.4 0M329.3 992.4a4.2 4.2 0 1 0 8.4 0a4.2 4.2 0 1 0 -8.4 0M330.6 991.8a4.2 4.2 0 1 0 8.4 0a4.2 4.2 0 1 0 -8.4 0M331.9 992.8a4.2 4.2 0 1 0 8.4 0a4.2 4.2 0 1 0 -8.4 0M333.2 994.6a4.2 4.2 0 1 0 8.4 0a4.2 4.2 0 1 0 -8.4 0M334.5 993.9a4.2 4.2 0 1 0 8.4 0a4.2 4.2 0 1 0 -8.4 0M335.8 995a4.2 4.2 0 1 0 8.4 0a4.2 4.2 0 1 0 -8.4 0M337.1 996.6a4.2 4.2 0 1 0 8.4 0a4.2 4.2 0 1 0 -8.4 0M338.4 998.6a4.2 4.2 0 1 0 8.4 0a4.2 4.2 0 1 0 -8.4 0M339.7 997.5a4.2 4.2 0 1 0 8.4 0a4.2 4.2 0 1 0 -8.4 0M341 1000.1a4.2 4.2 0 1 0 8.4 0a4.2 4.2 0 1 0 -8.4 0M342.3 1000.7a4.2 4.2 0 1 0 8.4 0a4.2 4.2 0 1 0 -8.4 0M343.6 1001.5a4.2 4.2 0 1 0 8.4 0a4.2 4.2 0 1 0 -8.4 0M344.9 1001.8a4.2 4.2 0 1 0 8.4 0a4.2 4.2 0 1 0 -8.4 0M346.2 1002.6a4.2 4.2 0 1 0 8.4 0a4.2 4.2 0 1 0 -8.4 0M347.5 1002.7a4.2 4.2 0 1 0 8.4 0a4.2 4.2 0 1 0 -8.4 0M348.8 1004a4.2 4.2 0 1 0 8.4 0a4.2 4.2 0 1 0 -8.4 0M350.1 1004.8a4.2 4.2 0 1 0 8.4 0a4.2 4.2 0 1 0 -8.4 0M351.4 1008a4.2 4.2 0 1 0 8.4 0a4.2 4.2 0 1 0 -8.4 0M352.7 1007.4a4.2 4.2 0 1 0 8.4 0a4.2 4.2 0 1 0 -8.4 0M354 1008.1a4.2 4.2 0 1 0 8.4 0a4.2 4.2 0 1 0 -8.4 0M355.3 1008.9a4.2 4.2 0 1 0 8.4 0a4.2 4.2 0 1 0 -8.4 0M356.6 1012.3a4.2 4.2 0 1 0 8.4 0a4.2 4.2 0 1 0 -8.4 0M357.9 1013.5a4.2 4.2 0 1 0 8.4 0a4.2 4.2 0 1 0 -8.4 0M359.2 1013.8a4.2 4.2 0 1 0 8.4 0a4.2 4.2 0 1 0 -8.4 0M360.5 1013.6a4.2 4.2 0 1 0 8.4 0a4.2 4.2 0 1 0 -8.4 0M361.8 1014.6a4.2 4.2 0 1 0 8.4 0a4.2 4.2 0 1 0 -8.4 0M363.1 1016.2a4.2 4.2 0 1 0 8.4 0a4.2 4.2 0 1 0 -8.4 0M364.4 1018.1a4.2 4.2 0 1 0 8.4 0a4.2 4.2 0 1 0 -8.4 0M365.7 1018.6a4.2 4.2 0 1 0 8.4 0a4.2 4.2 0 1 0 -8.4 0M367 1020.9a4.2 4.2 0 1 0 8.4 0a4.2 4.2 0 1 0 -8.4 0M368.3 1021.8a4.2 4.2 0 1 0 8.4 0a4.2 4.2 0 1 0 -8.4 0M369.6 1025.4a4.2 4.2 0 1 0 8.4 0a4.2 4.2 0 1 0 -8.4 0M370.9 1026.9a4.2 4.2 0 1 0 8.4 0a4.2 4.2 0 1 0 -8.4 0M372.2 1026.9a4.2 4.2 0 1 0 8.4 0a4.2 4.2 0 1 0 -8.4 0M373.5 1025.1a4.2 4.2 0 1 0 8.4 0a4.2 4.2 0 1 0 -8.4 0M374.8 1026.1a4.2 4.2 0 1 0 8.4 0a4.2 4.2 0 1 0 -8.4 0M376.1 1022.8a4.2 4.2 0 1 0 8.4 0a4.2 4.2 0 1 0 -8.4 0M377.4 1021.7a4.2 4.2 0 1 0 8.4 0a4.2 4.2 0 1 0 -8.4 0M378.7 1019.3a4.2 4.2 0 1 0 8.4 0a4.2 4.2 0 1 0 -8.4 0M380 1019.2a4.2 4.2 0 1 0 8.4 0a4.2 4.2 0 1 0 -8.4 0M381.3 1019.9a4.2 4.2 0 1 0 8.4 0a4.2 4.2 0 1 0 -8.4 0M382.6 1021.7a4.2 4.2 0 1 0 8.4 0a4.2 4.2 0 1 0 -8.4 0M383.9 1022.5a4.2 4.2 0 1 0 8.4 0a4.2 4.2 0 1 0 -8.4 0M385.2 1025.2a4.2 4.2 0 1 0 8.4 0a4.2 4.2 0 1 0 -8.4 0M386.5 1025.3a4.2 4.2 0 1 0 8.4 0a4.2 4.2 0 1 0 -8.4 0M387.8 1027.9a4.2 4.2 0 1 0 8.4 0a4.2 4.2 0 1 0 -8.4 0M389.1 1029.5a4.2 4.2 0 1 0 8.4 0a4.2 4.2 0 1 0 -8.4 0M390.4 1033.9a4.2 4.2 0 1 0 8.4 0a4.2 4.2 0 1 0 -8.4 0M391.7 1036.2a4.2 4.2 0 1 0 8.4 0a4.2 4.2 0 1 0 -8.4 0M393 1039.5a4.2 4.2 0 1 0 8.4 0a4.2 4.2 0 1 0 -8.4 0M394.3 1043.8a4.2 4.2 0 1 0 8.4 0a4.2 4.2 0 1 0 -8.4 0M395.6 1045.5a4.2 4.2 0 1 0 8.4 0a4.2 4.2 0 1 0 -8.4 0M396.9 1048.2a4.2 4.2 0 1 0 8.4 0a4.2 4.2 0 1 0 -8.4 0M398.2 1049.6a4.2 4.2 0 1 0 8.4 0a4.2 4.2 0 1 0 -8.4 0M399.5 1051.9a4.2 4.2 0 1 0 8.4 0a4.2 4.2 0 1 0 -8.4 0M400.8 1053.2a4.2 4.2 0 1 0 8.4 0a4.2 4.2 0 1 0 -8.4 0M402.1 1054.9a4.2 4.2 0 1 0 8.4 0a4.2 4.2 0 1 0 -8.4 0M403.4 1057a4.2 4.2 0 1 0 8.4 0a4.2 4.2 0 1 0 -8.4 0M404.7 1057a4.2 4.2 0 1 0 8.4 0a4.2 4.2 0 1 0 -8.4 0M406 1058.3a4.2 4.2 0 1 0 8.4 0a4.2 4.2 0 1 0 -8.4 0M407.3 1061.9a4.2 4.2 0 1 0 8.4 0a4.2 4.2 0 1 0 -8.4 0M408.6 1060.7a4.2 4.2 0 1 0 8.4 0a4.2 4.2 0 1 0 -8.4 0M409.9 1064a4.2 4.2 0 1 0 8.4 0a4.2 4.2 0 1 0 -8.4 0M411.2 1065.2a4.2 4.2 0 1 0 8.4 0a4.2 4.2 0 1 0 -8.4 0M412.5 1064.8a4.2 4.2 0 1 0 8.4 0a4.2 4.2 0 1 0 -8.4 0M413.8 1068.6a4.2 4.2 0 1 0 8.4 0a4.2 4.2 0 1 0 -8.4 0M415.1 1070a4.2 4.2 0 1 0 8.4 0a4.2 4.2 0 1 0 -8.4 0M416.4 1070.3a4.2 4.2 0 1 0 8.4 0a4.2 4.2 0 1 0 -8.4 0M417.7 1071.8a4.2 4.2 0 1 0 8.4 0a4.2 4.2 0 1 0 -8.4 0M419 1073.2a4.2 4.2 0 1 0 8.4 0a4.2 4.2 0 1 0 -8.4 0M420.3 1072.2a4.2 4.2 0 1 0 8.4 0a4.2 4.2 0 1 0 -8.4 0M421.6 1074.6a4.2 4.2 0 1 0 8.4 0a4.2 4.2 0 1 0 -8.4 0M422.9 1075.7a4.2 4.2 0 1 0 8.4 0a4.2 4.2 0 1 0 -8.4 0M424.2 1077.9a4.2 4.2 0 1 0 8.4 0a4.2 4.2 0 1 0 -8.4 0M425.5 1078.8a4.2 4.2 0 1 0 8.4 0a4.2 4.2 0 1 0 -8.4 0M426.8 1079.9a4.2 4.2 0 1 0 8.4 0a4.2 4.2 0 1 0 -8.4 0M428.1 1080.1a4.2 4.2 0 1 0 8.4 0a4.2 4.2 0 1 0 -8.4 0M429.4 1082a4.2 4.2 0 1 0 8.4 0a4.2 4.2 0 1 0 -8.4 0M430.7 1082.3a4.2 4.2 0 1 0 8.4 0a4.2 4.2 0 1 0 -8.4 0M432 1083.4a4.2 4.2 0 1 0 8.4 0a4.2 4.2 0 1 0 -8.4 0M433.3 1082.9a4.2 4.2 0 1 0 8.4 0a4.2 4.2 0 1 0 -8.4 0M434.6 1083.2a4.2 4.2 0 1 0 8.4 0a4.2 4.2 0 1 0 -8.4 0M435.9 1084.5a4.2 4.2 0 1 0 8.4 0a4.2 4.2 0 1 0 -8.4 0M437.2 1086.2a4.2 4.2 0 1 0 8.4 0a4.2 4.2 0 1 0 -8.4 0M438.5 1086.4a4.2 4.2 0 1 0 8.4 0a4.2 4.2 0 1 0 -8.4 0M439.8 1089.7a4.2 4.2 0 1 0 8.4 0a4.2 4.2 0 1 0 -8.4 0M441.1 1089.8a4.2 4.2 0 1 0 8.4 0a4.2 4.2 0 1 0 -8.4 0M442.4 1090.8a4.2 4.2 0 1 0 8.4 0a4.2 4.2 0 1 0 -8.4 0M443.7 1091.6a4.2 4.2 0 1 0 8.4 0a4.2 4.2 0 1 0 -8.4 0M445 1092.6a4.2 4.2 0 1 0 8.4 0a4.2 4.2 0 1 0 -8.4 0M446.3 1092.7a4.2 4.2 0 1 0 8.4 0a4.2 4.2 0 1 0 -8.4 0M447.6 1091.9a4.2 4.2 0 1 0 8.4 0a4.2 4.2 0 1 0 -8.4 0M448.9 1095.3a4.2 4.2 0 1 0 8.4 0a4.2 4.2 0 1 0 -8.4 0M450.2 1095.9a4.2 4.2 0 1 0 8.4 0a4.2 4.2 0 1 0 -8.4 0M451.5 1095.9a4.2 4.2 0 1 0 8.4 0a4.2 4.2 0 1 0 -8.4 0M452.8 1096.7a4.2 4.2 0 1 0 8.4 0a4.2 4.2 0 1 0 -8.4 0M454.1 1097.9a4.2 4.2 0 1 0 8.4 0a4.2 4.2 0 1 0 -8.4 0M455.4 1096.8a4.2 4.2 0 1 0 8.4 0a4.2 4.2 0 1 0 -8.4 0M456.7 1099.7a4.2 4.2 0 1 0 8.4 0a4.2 4.2 0 1 0 -8.4 0M458 1099a4.2 4.2 0 1 0 8.4 0a4.2 4.2 0 1 0 -8.4 0M459.3 1099.2a4.2 4.2 0 1 0 8.4 0a4.2 4.2 0 1 0 -8.4 0M460.6 1100.5a4.2 4.2 0 1 0 8.4 0a4.2 4.2 0 1 0 -8.4 0M461.9 1102.8a4.2 4.2 0 1 0 8.4 0a4.2 4.2 0 1 0 -8.4 0M463.2 1101.9a4.2 4.2 0 1 0 8.4 0a4.2 4.2 0 1 0 -8.4 0M464.5 1104.4a4.2 4.2 0 1 0 8.4 0a4.2 4.2 0 1 0 -8.4 0M465.8 1105.9a4.2 4.2 0 1 0 8.4 0a4.2 4.2 0 1 0 -8.4 0M467.1 1105.2a4.2 4.2 0 1 0 8.4 0a4.2 4.2 0 1 0 -8.4 0M468.4 1105.6a4.2 4.2 0 1 0 8.4 0a4.2 4.2 0 1 0 -8.4 0M469.7 1106.6a4.2 4.2 0 1 0 8.4 0a4.2 4.2 0 1 0 -8.4 0M471 1107.9a4.2 4.2 0 1 0 8.4 0a4.2 4.2 0 1 0 -8.4 0M472.3 1108.9a4.2 4.2 0 1 0 8.4 0a4.2 4.2 0 1 0 -8.4 0M473.6 1109a4.2 4.2 0 1 0 8.4 0a4.2 4.2 0 1 0 -8.4 0M474.9 1109.8a4.2 4.2 0 1 0 8.4 0a4.2 4.2 0 1 0 -8.4 0M476.2 1108.6a4.2 4.2 0 1 0 8.4 0a4.2 4.2 0 1 0 -8.4 0M477.5 1109.5a4.2 4.2 0 1 0 8.4 0a4.2 4.2 0 1 0 -8.4 0M478.8 1110.5a4.2 4.2 0 1 0 8.4 0a4.2 4.2 0 1 0 -8.4 0M480.1 1112.7a4.2 4.2 0 1 0 8.4 0a4.2 4.2 0 1 0 -8.4 0M481.4 1112a4.2 4.2 0 1 0 8.4 0a4.2 4.2 0 1 0 -8.4 0M482.7 1113.5a4.2 4.2 0 1 0 8.4 0a4.2 4.2 0 1 0 -8.4 0M484 1112.3a4.2 4.2 0 1 0 8.4 0a4.2 4.2 0 1 0 -8.4 0M485.3 1113.2a4.2 4.2 0 1 0 8.4 0a4.2 4.2 0 1 0 -8.4 0M486.6 1114.5a4.2 4.2 0 1 0 8.4 0a4.2 4.2 0 1 0 -8.4 0M487.9 1116.4a4.2 4.2 0 1 0 8.4 0a4.2 4.2 0 1 0 -8.4 0M489.2 1117.1a4.2 4.2 0 1 0 8.4 0a4.2 4.2 0 1 0 -8.4 0M490.5 1117.7a4.2 4.2 0 1 0 8.4 0a4.2 4.2 0 1 0 -8.4 0M491.8 1117.2a4.2 4.2 0 1 0 8.4 0a4.2 4.2 0 1 0 -8.4 0M493.1 1118.5a4.2 4.2 0 1 0 8.4 0a4.2 4.2 0 1 0 -8.4 0M494.4 1119a4.2 4.2 0 1 0 8.4 0a4.2 4.2 0 1 0 -8.4 0M495.7 1119.7a4.2 4.2 0 1 0 8.4 0a4.2 4.2 0 1 0 -8.4 0M497 1119.2a4.2 4.2 0 1 0 8.4 0a4.2 4.2 0 1 0 -8.4 0M498.3 1122.2a4.2 4.2 0 1 0 8.4 0a4.2 4.2 0 1 0 -8.4 0M499.6 1120.5a4.2 4.2 0 1 0 8.4 0a4.2 4.2 0 1 0 -8.4 0M500.9 1123.5a4.2 4.2 0 1 0 8.4 0a4.2 4.2 0 1 0 -8.4 0M502.2 1123.9a4.2 4.2 0 1 0 8.4 0a4.2 4.2 0 1 0 -8.4 0M503.5 1121.4a4.2 4.2 0 1 0 8.4 0a4.2 4.2 0 1 0 -8.4 0M504.8 1123.3a4.2 4.2 0 1 0 8.4 0a4.2 4.2 0 1 0 -8.4 0M506.1 1125a4.2 4.2 0 1 0 8.4 0a4.2 4.2 0 1 0 -8.4 0M507.4 1125.9a4.2 4.2 0 1 0 8.4 0a4.2 4.2 0 1 0 -8.4 0M508.7 1124.8a4.2 4.2 0 1 0 8.4 0a4.2 4.2 0 1 0 -8.4 0M510 1124.7a4.2 4.2 0 1 0 8.4 0a4.2 4.2 0 1 0 -8.4 0M511.3 1125a4.2 4.2 0 1 0 8.4 0a4.2 4.2 0 1 0 -8.4 0M512.6 1127.9a4.2 4.2 0 1 0 8.4 0a4.2 4.2 0 1 0 -8.4 0M513.9 1126a4.2 4.2 0 1 0 8.4 0a4.2 4.2 0 1 0 -8.4 0M515.2 1127.5a4.2 4.2 0 1 0 8.4 0a4.2 4.2 0 1 0 -8.4 0M516.5 1126.5a4.2 4.2 0 1 0 8.4 0a4.2 4.2 0 1 0 -8.4 0M517.8 1128a4.2 4.2 0 1 0 8.4 0a4.2 4.2 0 1 0 -8.4 0M519.1 1129.7a4.2 4.2 0 1 0 8.4 0a4.2 4.2 0 1 0 -8.4 0M520.4 1127.4a4.2 4.2 0 1 0 8.4 0a4.2 4.2 0 1 0 -8.4 0M521.7 1130a4.2 4.2 0 1 0 8.4 0a4.2 4.2 0 1 0 -8.4 0M523 1129.3a4.2 4.2 0 1 0 8.4 0a4.2 4.2 0 1 0 -8.4 0M524.3 1130.9a4.2 4.2 0 1 0 8.4 0a4.2 4.2 0 1 0 -8.4 0M525.6 1130.6a4.2 4.2 0 1 0 8.4 0a4.2 4.2 0 1 0 -8.4 0M526.9 1129.8a4.2 4.2 0 1 0 8.4 0a4.2 4.2 0 1 0 -8.4 0M528.2 1132.8a4.2 4.2 0 1 0 8.4 0a4.2 4.2 0 1 0 -8.4 0M529.5 1132.2a4.2 4.2 0 1 0 8.4 0a4.2 4.2 0 1 0 -8.4 0M530.8 1131.6a4.2 4.2 0 1 0 8.4 0a4.2 4.2 0 1 0 -8.4 0M532.1 1132.3a4.2 4.2 0 1 0 8.4 0a4.2 4.2 0 1 0 -8.4 0M533.4 1134.7a4.2 4.2 0 1 0 8.4 0a4.2 4.2 0 1 0 -8.4 0M534.7 1135.3a4.2 4.2 0 1 0 8.4 0a4.2 4.2 0 1 0 -8.4 0M536 1135.7a4.2 4.2 0 1 0 8.4 0a4.2 4.2 0 1 0 -8.4 0M537.3 1135.9a4.2 4.2 0 1 0 8.4 0a4.2 4.2 0 1 0 -8.4 0M538.6 1137.4a4.2 4.2 0 1 0 8.4 0a4.2 4.2 0 1 0 -8.4 0M539.9 1138.1a4.2 4.2 0 1 0 8.4 0a4.2 4.2 0 1 0 -8.4 0M541.2 1140.6a4.2 4.2 0 1 0 8.4 0a4.2 4.2 0 1 0 -8.4 0M542.5 1138.7a4.2 4.2 0 1 0 8.4 0a4.2 4.2 0 1 0 -8.4 0M543.8 1141.8a4.2 4.2 0 1 0 8.4 0a4.2 4.2 0 1 0 -8.4 0M545.1 1142.8a4.2 4.2 0 1 0 8.4 0a4.2 4.2 0 1 0 -8.4 0M546.4 1141.3a4.2 4.2 0 1 0 8.4 0a4.2 4.2 0 1 0 -8.4 0M547.7 1144.6a4.2 4.2 0 1 0 8.4 0a4.2 4.2 0 1 0 -8.4 0M549 1144.6a4.2 4.2 0 1 0 8.4 0a4.2 4.2 0 1 0 -8.4 0M550.3 1146.1a4.2 4.2 0 1 0 8.4 0a4.2 4.2 0 1 0 -8.4 0M551.6 1145.2a4.2 4.2 0 1 0 8.4 0a4.2 4.2 0 1 0 -8.4 0M552.9 1146.6a4.2 4.2 0 1 0 8.4 0a4.2 4.2 0 1 0 -8.4 0M554.2 1147.7a4.2 4.2 0 1 0 8.4 0a4.2 4.2 0 1 0 -8.4 0M555.5 1150.7a4.2 4.2 0 1 0 8.4 0a4.2 4.2 0 1 0 -8.4 0M556.8 1150.5a4.2 4.2 0 1 0 8.4 0a4.2 4.2 0 1 0 -8.4 0M558.1 1150.9a4.2 4.2 0 1 0 8.4 0a4.2 4.2 0 1 0 -8.4 0M559.4 1152.2a4.2 4.2 0 1 0 8.4 0a4.2 4.2 0 1 0 -8.4 0M560.7 1152.8a4.2 4.2 0 1 0 8.4 0a4.2 4.2 0 1 0 -8.4 0M562 1153.1a4.2 4.2 0 1 0 8.4 0a4.2 4.2 0 1 0 -8.4 0M563.3 1154.4a4.2 4.2 0 1 0 8.4 0a4.2 4.2 0 1 0 -8.4 0M564.6 1157.9a4.2 4.2 0 1 0 8.4 0a4.2 4.2 0 1 0 -8.4 0M565.9 1157.4a4.2 4.2 0 1 0 8.4 0a4.2 4.2 0 1 0 -8.4 0M567.2 1160.8a4.2 4.2 0 1 0 8.4 0a4.2 4.2 0 1 0 -8.4 0M568.5 1159.9a4.2 4.2 0 1 0 8.4 0a4.2 4.2 0 1 0 -8.4 0M569.8 1161.3a4.2 4.2 0 1 0 8.4 0a4.2 4.2 0 1 0 -8.4 0M571.1 1163.3a4.2 4.2 0 1 0 8.4 0a4.2 4.2 0 1 0 -8.4 0M572.4 1163.6a4.2 4.2 0 1 0 8.4 0a4.2 4.2 0 1 0 -8.4 0M573.7 1165.5a4.2 4.2 0 1 0 8.4 0a4.2 4.2 0 1 0 -8.4 0M575 1168.7a4.2 4.2 0 1 0 8.4 0a4.2 4.2 0 1 0 -8.4 0M576.3 1169.7a4.2 4.2 0 1 0 8.4 0a4.2 4.2 0 1 0 -8.4 0M577.6 1170.7a4.2 4.2 0 1 0 8.4 0a4.2 4.2 0 1 0 -8.4 0M578.9 1171.4a4.2 4.2 0 1 0 8.4 0a4.2 4.2 0 1 0 -8.4 0M580.2 1173.6a4.2 4.2 0 1 0 8.4 0a4.2 4.2 0 1 0 -8.4 0M581.5 1174.9a4.2 4.2 0 1 0 8.4 0a4.2 4.2 0 1 0 -8.4 0M582.8 1174.9a4.2 4.2 0 1 0 8.4 0a4.2 4.2 0 1 0 -8.4 0M584.1 1176.7a4.2 4.2 0 1 0 8.4 0a4.2 4.2 0 1 0 -8.4 0M585.4 1175.8a4.2 4.2 0 1 0 8.4 0a4.2 4.2 0 1 0 -8.4 0M586.7 1179.3a4.2 4.2 0 1 0 8.4 0a4.2 4.2 0 1 0 -8.4 0M588 1179.6a4.2 4.2 0 1 0 8.4 0a4.2 4.2 0 1 0 -8.4 0M589.3 1181.8a4.2 4.2 0 1 0 8.4 0a4.2 4.2 0 1 0 -8.4 0M590.6 1182.7a4.2 4.2 0 1 0 8.4 0a4.2 4.2 0 1 0 -8.4 0M591.9 1182.8a4.2 4.2 0 1 0 8.4 0a4.2 4.2 0 1 0 -8.4 0" fill="none" stroke="#D95319" stroke-width="1.6"/>
</g>
<rect x="324.2" y="744.9" width="41.4" height="464" fill="#000" fill-opacity="0.11" stroke="#262626" stroke-width="1.1"/>
<rect x="446.7" y="744.9" width="26.4" height="464" fill="#000" fill-opacity="0.11" stroke="#262626" stroke-width="1.1"/>
<rect x="543.2" y="744.9" width="10.1" height="464" fill="#000" fill-opacity="0.11" stroke="#262626" stroke-width="1.1"/>
<rect x="578.8" y="744.9" width="6.2" height="464" fill="#000" fill-opacity="0.11" stroke="#262626" stroke-width="1.1"/>
<text x="344" y="790" font-size="41.5" fill="#000" text-anchor="middle">i</text>
<text x="459.6" y="790" font-size="41.5" fill="#000" text-anchor="middle">ii</text>
<text x="544.8" y="790" font-size="41.5" fill="#000" text-anchor="middle">iii</text>
<text x="603.3" y="790" font-size="41.5" fill="#000" text-anchor="middle">iv</text>
<rect x="122.8" y="1115.4" width="141.6" height="83.9" fill="#fff" stroke="#262626" stroke-width="1"/>
<path d="M147.4 1130.5L152.7 1140.2L142.2 1140.2Z" fill="none" stroke="#0072BD" stroke-width="1.3"/>
<path d="M142.8 1177.9a4.6 4.6 0 1 0 9.2 0a4.6 4.6 0 1 0 -9.2 0" fill="none" stroke="#D95319" stroke-width="1.3"/>
<text x="171.8" y="1150.6" font-size="35.2" fill="#000">SANS</text>
<text x="171.8" y="1189.7" font-size="35.2" fill="#000">SAXS</text>
<text x="100.5" y="781" font-size="38.5" fill="#262626" text-anchor="end">10<tspan dx="0" dy="-19" font-size="31">6</tspan></text>
<text x="100.5" y="995.4" font-size="38.5" fill="#262626" text-anchor="end">10<tspan dx="0" dy="-19" font-size="31">3</tspan></text>
<text x="100.5" y="1209.8" font-size="38.5" fill="#262626" text-anchor="end">10<tspan dx="0" dy="-19" font-size="31">0</tspan></text>
<text x="181.6" y="1268.7" font-size="38.5" fill="#262626" text-anchor="middle">10<tspan dx="0" dy="-19" font-size="31">-3</tspan></text>
<text x="384.2" y="1268.7" font-size="38.5" fill="#262626" text-anchor="middle">10<tspan dx="0" dy="-19" font-size="31">-2</tspan></text>
<text x="587" y="1268.7" font-size="38.5" fill="#262626" text-anchor="middle">10<tspan dx="0" dy="-19" font-size="31">-1</tspan></text>
<text x="344.3" y="1330" font-size="42.4" fill="#262626">q [Å<tspan dx="0.5" dy="-21.4" font-size="29">-1</tspan><tspan dx="5" dy="21.4">]</tspan></text>
<text transform="translate(32.1 982) rotate(-90)" font-size="42.4" fill="#262626" text-anchor="middle">I [cm<tspan dx="1" dy="-12.5" font-size="28">-1</tspan><tspan dx="3" dy="12.5">]</tspan></text>
<path d="M906.6 88V258.2M968.9 88V258.2M1031.3 88V258.2" stroke="#BDBDBD" stroke-width="1" fill="none"/>
<path d="M844.3 173.1H1093.6" stroke="#CFE2F1" stroke-width="1" fill="none"/>
<path d="M844.3 224.2H1093.6M844.3 156.1H1093.6" stroke="#F6D3C4" stroke-width="1" fill="none"/>
<path d="M844.3 202.2L850.5 213.7L838 213.7ZM848.5 204.8L854.7 216.3L842.2 216.3ZM852.6 202.4L858.9 213.9L846.4 213.9ZM856.8 203.5L863 215L850.5 215ZM860.9 203.1L867.2 214.6L854.7 214.6ZM865.1 201.9L871.3 213.4L858.8 213.4ZM869.2 201.2L875.5 212.7L863 212.7ZM873.4 199.8L879.6 211.3L867.1 211.3ZM877.5 195L883.8 206.5L871.3 206.5ZM881.7 189.5L887.9 201L875.4 201ZM885.8 181.8L892.1 193.3L879.6 193.3ZM890 170.5L896.3 182L883.8 182ZM894.2 151.1L900.4 162.6L887.9 162.6ZM898.3 128L904.6 139.5L892.1 139.5ZM902.5 107.9L908.7 119.4L896.2 119.4ZM906.6 94L912.9 105.5L900.4 105.5ZM910.8 102.3L917 113.8L904.5 113.8ZM914.9 112.5L921.2 124L908.7 124ZM919.1 127.7L925.3 139.2L912.8 139.2ZM923.2 149L929.5 160.5L917 160.5ZM927.4 169.2L933.6 180.7L921.1 180.7ZM931.6 179.7L937.8 191.2L925.3 191.2ZM935.7 186.4L942 197.9L929.5 197.9ZM939.9 192.4L946.1 203.9L933.6 203.9ZM944 202.1L950.3 213.6L937.8 213.6ZM948.2 209.7L954.4 221.2L941.9 221.2ZM952.3 207.7L958.6 219.2L946.1 219.2ZM956.5 206.9L962.7 218.4L950.2 218.4ZM960.6 206.1L966.9 217.6L954.4 217.6ZM964.8 208.6L971 220.1L958.5 220.1ZM968.9 211.2L975.2 222.7L962.7 222.7ZM973.1 212.2L979.4 223.7L966.9 223.7ZM977.3 208L983.5 219.5L971 219.5ZM981.4 204.7L987.7 216.2L975.2 216.2ZM985.6 201.8L991.8 213.3L979.3 213.3ZM989.7 199.6L996 211.1L983.5 211.1ZM993.9 198.7L1000.1 210.2L987.6 210.2ZM998 194.1L1004.3 205.6L991.8 205.6ZM1002.2 182.3L1008.4 193.8L995.9 193.8ZM1006.3 172.4L1012.6 183.9L1000.1 183.9ZM1010.5 157.9L1016.7 169.4L1004.2 169.4ZM1014.7 146.6L1020.9 158.1L1008.4 158.1ZM1018.8 134.9L1025.1 146.4L1012.6 146.4ZM1023 125L1029.2 136.5L1016.7 136.5ZM1027.1 112.5L1033.4 124L1020.9 124ZM1031.3 104.3L1037.5 115.8L1025 115.8ZM1035.4 102.8L1041.7 114.3L1029.2 114.3ZM1039.6 113.6L1045.8 125.1L1033.3 125.1ZM1043.7 124L1050 135.5L1037.5 135.5ZM1047.9 126.9L1054.1 138.4L1041.6 138.4ZM1052 151.7L1058.3 163.2L1045.8 163.2ZM1056.2 165.5L1062.5 177L1050 177ZM1060.4 172.8L1066.6 184.3L1054.1 184.3ZM1064.5 180.5L1070.8 192L1058.3 192ZM1068.7 191.4L1074.9 202.9L1062.4 202.9ZM1072.8 202.3L1079.1 213.8L1066.6 213.8ZM1077 200.9L1083.2 212.4L1070.7 212.4ZM1081.1 203.3L1087.4 214.8L1074.9 214.8ZM1085.3 210.4L1091.5 221.9L1079 221.9ZM1089.4 212.8L1095.7 224.3L1083.2 224.3ZM1093.6 210.2L1099.8 221.7L1087.3 221.7Z" fill="none" stroke="#0072BD" stroke-width="1.1"/>
<path d="M839.1 212.9a5.2 5.2 0 1 0 10.4 0a5.2 5.2 0 1 0 -10.4 0M842.9 212.6a5.2 5.2 0 1 0 10.4 0a5.2 5.2 0 1 0 -10.4 0M846.7 212.4a5.2 5.2 0 1 0 10.4 0a5.2 5.2 0 1 0 -10.4 0M850.5 209.8a5.2 5.2 0 1 0 10.4 0a5.2 5.2 0 1 0 -10.4 0M854.3 208.9a5.2 5.2 0 1 0 10.4 0a5.2 5.2 0 1 0 -10.4 0M858.1 206.4a5.2 5.2 0 1 0 10.4 0a5.2 5.2 0 1 0 -10.4 0M862 204.6a5.2 5.2 0 1 0 10.4 0a5.2 5.2 0 1 0 -10.4 0M865.8 202.1a5.2 5.2 0 1 0 10.4 0a5.2 5.2 0 1 0 -10.4 0M869.6 199.6a5.2 5.2 0 1 0 10.4 0a5.2 5.2 0 1 0 -10.4 0M873.4 195.1a5.2 5.2 0 1 0 10.4 0a5.2 5.2 0 1 0 -10.4 0M877.2 191.1a5.2 5.2 0 1 0 10.4 0a5.2 5.2 0 1 0 -10.4 0M881 178a5.2 5.2 0 1 0 10.4 0a5.2 5.2 0 1 0 -10.4 0M884.8 156.6a5.2 5.2 0 1 0 10.4 0a5.2 5.2 0 1 0 -10.4 0M888.6 134.7a5.2 5.2 0 1 0 10.4 0a5.2 5.2 0 1 0 -10.4 0M892.4 121.8a5.2 5.2 0 1 0 10.4 0a5.2 5.2 0 1 0 -10.4 0M896.2 116.7a5.2 5.2 0 1 0 10.4 0a5.2 5.2 0 1 0 -10.4 0M900 112.2a5.2 5.2 0 1 0 10.4 0a5.2 5.2 0 1 0 -10.4 0M903.8 115.3a5.2 5.2 0 1 0 10.4 0a5.2 5.2 0 1 0 -10.4 0M907.7 118.3a5.2 5.2 0 1 0 10.4 0a5.2 5.2 0 1 0 -10.4 0M911.5 130.5a5.2 5.2 0 1 0 10.4 0a5.2 5.2 0 1 0 -10.4 0M915.3 143.2a5.2 5.2 0 1 0 10.4 0a5.2 5.2 0 1 0 -10.4 0M919.1 154.5a5.2 5.2 0 1 0 10.4 0a5.2 5.2 0 1 0 -10.4 0M922.9 166a5.2 5.2 0 1 0 10.4 0a5.2 5.2 0 1 0 -10.4 0M926.7 175a5.2 5.2 0 1 0 10.4 0a5.2 5.2 0 1 0 -10.4 0M930.5 182a5.2 5.2 0 1 0 10.4 0a5.2 5.2 0 1 0 -10.4 0M934.3 190.6a5.2 5.2 0 1 0 10.4 0a5.2 5.2 0 1 0 -10.4 0M938.1 197.8a5.2 5.2 0 1 0 10.4 0a5.2 5.2 0 1 0 -10.4 0M941.9 203.4a5.2 5.2 0 1 0 10.4 0a5.2 5.2 0 1 0 -10.4 0M945.7 206a5.2 5.2 0 1 0 10.4 0a5.2 5.2 0 1 0 -10.4 0M949.6 207.5a5.2 5.2 0 1 0 10.4 0a5.2 5.2 0 1 0 -10.4 0M953.4 209.4a5.2 5.2 0 1 0 10.4 0a5.2 5.2 0 1 0 -10.4 0M957.2 208.4a5.2 5.2 0 1 0 10.4 0a5.2 5.2 0 1 0 -10.4 0M961 209.4a5.2 5.2 0 1 0 10.4 0a5.2 5.2 0 1 0 -10.4 0M964.8 209.9a5.2 5.2 0 1 0 10.4 0a5.2 5.2 0 1 0 -10.4 0M968.6 211.1a5.2 5.2 0 1 0 10.4 0a5.2 5.2 0 1 0 -10.4 0M972.4 209.1a5.2 5.2 0 1 0 10.4 0a5.2 5.2 0 1 0 -10.4 0M976.2 208.6a5.2 5.2 0 1 0 10.4 0a5.2 5.2 0 1 0 -10.4 0M980 205.4a5.2 5.2 0 1 0 10.4 0a5.2 5.2 0 1 0 -10.4 0M983.8 202a5.2 5.2 0 1 0 10.4 0a5.2 5.2 0 1 0 -10.4 0M987.6 199.4a5.2 5.2 0 1 0 10.4 0a5.2 5.2 0 1 0 -10.4 0M991.4 196.2a5.2 5.2 0 1 0 10.4 0a5.2 5.2 0 1 0 -10.4 0M995.3 189.5a5.2 5.2 0 1 0 10.4 0a5.2 5.2 0 1 0 -10.4 0M999.1 179.1a5.2 5.2 0 1 0 10.4 0a5.2 5.2 0 1 0 -10.4 0M1002.9 168.3a5.2 5.2 0 1 0 10.4 0a5.2 5.2 0 1 0 -10.4 0M1006.7 158.3a5.2 5.2 0 1 0 10.4 0a5.2 5.2 0 1 0 -10.4 0M1010.5 147.4a5.2 5.2 0 1 0 10.4 0a5.2 5.2 0 1 0 -10.4 0M1014.3 134.8a5.2 5.2 0 1 0 10.4 0a5.2 5.2 0 1 0 -10.4 0M1018.1 123.6a5.2 5.2 0 1 0 10.4 0a5.2 5.2 0 1 0 -10.4 0M1021.9 117.4a5.2 5.2 0 1 0 10.4 0a5.2 5.2 0 1 0 -10.4 0M1025.7 115.1a5.2 5.2 0 1 0 10.4 0a5.2 5.2 0 1 0 -10.4 0M1029.5 116a5.2 5.2 0 1 0 10.4 0a5.2 5.2 0 1 0 -10.4 0M1033.3 124.8a5.2 5.2 0 1 0 10.4 0a5.2 5.2 0 1 0 -10.4 0M1037.2 140.4a5.2 5.2 0 1 0 10.4 0a5.2 5.2 0 1 0 -10.4 0M1041 150.6a5.2 5.2 0 1 0 10.4 0a5.2 5.2 0 1 0 -10.4 0M1044.8 163.5a5.2 5.2 0 1 0 10.4 0a5.2 5.2 0 1 0 -10.4 0M1048.6 173.7a5.2 5.2 0 1 0 10.4 0a5.2 5.2 0 1 0 -10.4 0M1052.4 183.1a5.2 5.2 0 1 0 10.4 0a5.2 5.2 0 1 0 -10.4 0M1056.2 190.9a5.2 5.2 0 1 0 10.4 0a5.2 5.2 0 1 0 -10.4 0M1060 198.9a5.2 5.2 0 1 0 10.4 0a5.2 5.2 0 1 0 -10.4 0M1063.8 206.1a5.2 5.2 0 1 0 10.4 0a5.2 5.2 0 1 0 -10.4 0M1067.6 216.1a5.2 5.2 0 1 0 10.4 0a5.2 5.2 0 1 0 -10.4 0M1071.4 203.5a5.2 5.2 0 1 0 10.4 0a5.2 5.2 0 1 0 -10.4 0M1075.2 205.8a5.2 5.2 0 1 0 10.4 0a5.2 5.2 0 1 0 -10.4 0M1079.1 209.4a5.2 5.2 0 1 0 10.4 0a5.2 5.2 0 1 0 -10.4 0M1082.9 210.2a5.2 5.2 0 1 0 10.4 0a5.2 5.2 0 1 0 -10.4 0M1086.7 212.6a5.2 5.2 0 1 0 10.4 0a5.2 5.2 0 1 0 -10.4 0" fill="none" stroke="#D95319" stroke-width="1.0"/>
<path d="M844.3 88H1093.6 M844.3 258.2H1093.6" stroke="#262626" stroke-width="1.5" fill="none"/>
<path d="M844.3 88V258.2" stroke="#0072BD" stroke-width="1.2"/>
<path d="M1093.6 88V258.2" stroke="#D95319" stroke-width="1.2"/>
<path d="M906.6 258.2V254.2M906.6 88V92M1031.3 258.2V254.2M1031.3 88V92" stroke="#262626" stroke-width="1.2"/>
<path d="M844.3 258.2H848.3M844.3 173.1H848.3M844.3 88H848.3" stroke="#0072BD" stroke-width="1.2"/>
<path d="M1093.6 258.2H1089.6M1093.6 224.2H1089.6M1093.6 156.1H1089.6M1093.6 88H1089.6" stroke="#D95319" stroke-width="1.2"/>
<text x="832.3" y="271" font-size="35" fill="#0072BD" text-anchor="end">0</text>
<text x="832.3" y="185.9" font-size="35" fill="#0072BD" text-anchor="end">0.5</text>
<text x="832.3" y="100.8" font-size="35" fill="#0072BD" text-anchor="end">1.0</text>
<text x="1105.3" y="271" font-size="35" fill="#D95319">0</text>
<text x="1105.3" y="237" font-size="35" fill="#D95319">0.5</text>
<text x="1105.3" y="168.9" font-size="35" fill="#D95319">1.5</text>
<text x="1105.3" y="100.8" font-size="35" fill="#D95319">2.5</text>
<text x="906.6" y="301.2" font-size="35" fill="#262626" text-anchor="middle">90</text>
<text x="1031.3" y="301.2" font-size="35" fill="#262626" text-anchor="middle">270</text>
<text x="841.2" y="72.6" font-size="35" fill="#0072BD">×10<tspan dx="-1" dy="-11.6" font-size="23">3</tspan></text>
<text x="1028.6" y="72.8" font-size="35" fill="#D95319">×10<tspan dx="-1" dy="-11.6" font-size="23">3</tspan></text>
<text x="968.9" y="80.3" font-size="41.5" fill="#000" text-anchor="middle">i</text>
<text x="968.9" y="344.2" font-size="36.5" fill="#262626" text-anchor="middle"><tspan font-style="italic">θ</tspan> [deg.]</text>
<text transform="translate(754.2 177.5) rotate(-90)" font-size="36" fill="#0072BD" text-anchor="middle">I [cm<tspan dx="1.5" dy="-10.9" font-size="22.5">-1</tspan><tspan dx="2" dy="10.9">]</tspan></text>
<text transform="translate(1193.9 173) rotate(-90)" font-size="36" fill="#D95319" text-anchor="middle">I [cm<tspan dx="1.5" dy="-10.9" font-size="22.5">-1</tspan><tspan dx="2" dy="10.9">]</tspan></text>
<path d="M906.6 405V575M968.9 405V575M1031.3 405V575" stroke="#BDBDBD" stroke-width="1" fill="none"/>
<path d="M844.3 490H1093.6" stroke="#CFE2F1" stroke-width="1" fill="none"/>
<path d="M844.3 541H1093.6M844.3 473H1093.6" stroke="#F6D3C4" stroke-width="1" fill="none"/>
<path d="M844.3 526.3L850 536.9L838.5 536.9ZM844.9 515.9L850.6 526.5L839.1 526.5ZM845.4 526.1L851.2 536.7L839.7 536.7ZM846 523.9L851.7 534.5L840.2 534.5ZM846.5 523.3L852.3 533.9L840.8 533.9ZM847.1 520.4L852.8 531L841.3 531ZM847.6 528.1L853.4 538.7L841.9 538.7ZM848.2 531L853.9 541.6L842.4 541.6ZM848.7 521.8L854.5 532.4L843 532.4ZM849.3 521.2L855 531.7L843.5 531.7ZM849.8 521.7L855.6 532.3L844.1 532.3ZM850.4 514.9L856.1 525.5L844.6 525.5ZM850.9 523.1L856.7 533.7L845.2 533.7ZM851.5 522.9L857.3 533.5L845.8 533.5ZM852.1 520.6L857.8 531.2L846.3 531.2ZM852.6 522.5L858.4 533L846.9 533ZM853.2 518L858.9 528.6L847.4 528.6ZM853.7 527.8L859.5 538.4L848 538.4ZM854.3 524.8L860 535.4L848.5 535.4ZM854.8 535.2L860.6 545.8L849.1 545.8ZM855.4 520.7L861.1 531.3L849.6 531.3ZM855.9 524.6L861.7 535.2L850.2 535.2ZM856.5 520.2L862.2 530.7L850.7 530.7ZM857 515.9L862.8 526.5L851.3 526.5ZM857.6 523.1L863.3 533.7L851.8 533.7ZM858.1 523.9L863.9 534.5L852.4 534.5ZM858.7 524.6L864.5 535.2L853 535.2ZM859.3 525.6L865 536.2L853.5 536.2ZM859.8 524.8L865.6 535.4L854.1 535.4ZM860.4 520.3L866.1 530.9L854.6 530.9ZM860.9 522.2L866.7 532.8L855.2 532.8ZM861.5 521.9L867.2 532.5L855.7 532.5ZM862 522.5L867.8 533.1L856.3 533.1ZM862.6 518.6L868.3 529.2L856.8 529.2ZM863.1 519.8L868.9 530.4L857.4 530.4ZM863.7 521.7L869.4 532.3L857.9 532.3ZM864.2 518.7L870 529.3L858.5 529.3ZM864.8 521.2L870.5 531.8L859 531.8ZM865.4 524.3L871.1 534.9L859.6 534.9ZM865.9 515.1L871.7 525.7L860.2 525.7ZM866.5 518.1L872.2 528.7L860.7 528.7ZM867 522.6L872.8 533.2L861.3 533.2ZM867.6 515.2L873.3 525.8L861.8 525.8ZM868.1 517.3L873.9 527.9L862.4 527.9ZM868.7 523.3L874.4 533.9L862.9 533.9ZM869.2 512L875 522.6L863.5 522.6ZM869.8 515.8L875.5 526.4L864 526.4ZM870.3 513.3L876.1 523.9L864.6 523.9ZM870.9 515.1L876.6 525.7L865.1 525.7ZM871.4 515.6L877.2 526.2L865.7 526.2ZM872 519.7L877.7 530.3L866.2 530.3ZM872.6 510.4L878.3 521L866.8 521ZM873.1 512.8L878.9 523.4L867.4 523.4ZM873.7 513.1L879.4 523.7L867.9 523.7ZM874.2 510.1L880 520.6L868.5 520.6ZM874.8 510.1L880.5 520.7L869 520.7ZM875.3 507.1L881.1 517.7L869.6 517.7ZM875.9 509.7L881.6 520.2L870.1 520.2ZM876.4 507.5L882.2 518L870.7 518ZM877 513.5L882.7 524.1L871.2 524.1ZM877.5 506.5L883.3 517.1L871.8 517.1ZM878.1 501.6L883.8 512.2L872.3 512.2ZM878.6 498.1L884.4 508.7L872.9 508.7ZM879.2 502.6L885 513.2L873.5 513.2ZM879.8 500.4L885.5 511L874 511ZM880.3 493.2L886.1 503.8L874.6 503.8ZM880.9 498.3L886.6 508.8L875.1 508.8ZM881.4 493.2L887.2 503.7L875.7 503.7ZM882 488.4L887.7 499L876.2 499ZM882.5 492.4L888.3 502.9L876.8 502.9ZM883.1 486.7L888.8 497.3L877.3 497.3ZM883.6 491.6L889.4 502.1L877.9 502.1ZM884.2 486.7L889.9 497.3L878.4 497.3ZM884.7 485.9L890.5 496.5L879 496.5ZM885.3 483.4L891 494L879.5 494ZM885.8 478.1L891.6 488.7L880.1 488.7ZM886.4 471.9L892.2 482.5L880.7 482.5ZM887 480.4L892.7 490.9L881.2 490.9ZM887.5 478.1L893.3 488.7L881.8 488.7ZM888.1 472.4L893.8 483L882.3 483ZM888.6 475.7L894.4 486.3L882.9 486.3ZM889.2 468.4L894.9 479L883.4 479ZM889.7 466.1L895.5 476.6L884 476.6ZM890.3 466.9L896 477.5L884.5 477.5ZM890.8 462L896.6 472.6L885.1 472.6ZM891.4 467L897.1 477.6L885.6 477.6ZM891.9 457.1L897.7 467.7L886.2 467.7ZM892.5 462.9L898.2 473.4L886.7 473.4ZM893.1 457.9L898.8 468.5L887.3 468.5ZM893.6 455.4L899.4 465.9L887.9 465.9ZM894.2 452.8L899.9 463.4L888.4 463.4ZM894.7 446.5L900.5 457.1L889 457.1ZM895.3 447.2L901 457.7L889.5 457.7ZM895.8 446.8L901.6 457.4L890.1 457.4ZM896.4 441.7L902.1 452.3L890.6 452.3ZM896.9 436.3L902.7 446.9L891.2 446.9ZM897.5 439.9L903.2 450.5L891.7 450.5ZM898 436.9L903.8 447.5L892.3 447.5ZM898.6 432.3L904.3 442.8L892.8 442.8ZM899.1 433.9L904.9 444.5L893.4 444.5ZM899.7 437.7L905.4 448.2L893.9 448.2ZM900.3 423.3L906 433.9L894.5 433.9ZM900.8 422.9L906.6 433.5L895.1 433.5ZM901.4 435.8L907.1 446.4L895.6 446.4ZM901.9 428L907.7 438.6L896.2 438.6ZM902.5 425.3L908.2 435.9L896.7 435.9ZM903 422.4L908.8 433L897.3 433ZM903.6 422.5L909.3 433.1L897.8 433.1ZM904.1 424.9L909.9 435.4L898.4 435.4ZM904.7 426.8L910.4 437.4L898.9 437.4ZM905.2 422.2L911 432.8L899.5 432.8ZM905.8 418.6L911.5 429.2L900 429.2ZM906.3 425.4L912.1 436L900.6 436ZM906.9 424.9L912.7 435.5L901.2 435.5ZM907.5 421.3L913.2 431.9L901.7 431.9ZM908 427.8L913.8 438.3L902.3 438.3ZM908.6 422.1L914.3 432.7L902.8 432.7ZM909.1 422.9L914.9 433.5L903.4 433.5ZM909.7 420.2L915.4 430.7L903.9 430.7ZM910.2 424.5L916 435.1L904.5 435.1ZM910.8 425.6L916.5 436.2L905 436.2ZM911.3 424.6L917.1 435.1L905.6 435.1ZM911.9 424.1L917.6 434.7L906.1 434.7ZM912.4 427L918.2 437.6L906.7 437.6ZM913 425.7L918.7 436.2L907.2 436.2ZM913.5 424.2L919.3 434.8L907.8 434.8ZM914.1 423.8L919.9 434.4L908.4 434.4ZM914.7 423.3L920.4 433.9L908.9 433.9ZM915.2 433L921 443.6L909.5 443.6ZM915.8 433.2L921.5 443.8L910 443.8ZM916.3 441.7L922.1 452.3L910.6 452.3ZM916.9 428.3L922.6 438.9L911.1 438.9ZM917.4 438.9L923.2 449.4L911.7 449.4ZM918 438.2L923.7 448.8L912.2 448.8ZM918.5 438L924.3 448.6L912.8 448.6ZM919.1 446.2L924.8 456.8L913.3 456.8ZM919.6 441.9L925.4 452.5L913.9 452.5ZM920.2 445.4L925.9 456L914.4 456ZM920.8 453.5L926.5 464.1L915 464.1ZM921.3 448.2L927.1 458.8L915.6 458.8ZM921.9 447.2L927.6 457.7L916.1 457.7ZM922.4 459.6L928.2 470.2L916.7 470.2ZM923 452.5L928.7 463.1L917.2 463.1ZM923.5 456.6L929.3 467.2L917.8 467.2ZM924.1 457.7L929.8 468.3L918.3 468.3ZM924.6 459.9L930.4 470.5L918.9 470.5ZM925.2 459L930.9 469.6L919.4 469.6ZM925.7 466.3L931.5 476.9L920 476.9ZM926.3 464.6L932 475.2L920.5 475.2ZM926.8 471L932.6 481.6L921.1 481.6ZM927.4 469.1L933.1 479.7L921.6 479.7ZM928 476.3L933.7 486.9L922.2 486.9ZM928.5 475.9L934.3 486.5L922.8 486.5ZM929.1 471.6L934.8 482.2L923.3 482.2ZM929.6 477.8L935.4 488.4L923.9 488.4ZM930.2 481.8L935.9 492.3L924.4 492.3ZM930.7 486.9L936.5 497.5L925 497.5ZM931.3 487.5L937 498.1L925.5 498.1ZM931.8 485.9L937.6 496.5L926.1 496.5ZM932.4 485.1L938.1 495.7L926.6 495.7ZM932.9 488.5L938.7 499.1L927.2 499.1ZM933.5 489.7L939.2 500.3L927.7 500.3ZM934 493.2L939.8 503.8L928.3 503.8ZM934.6 490L940.4 500.6L928.9 500.6ZM935.2 497.4L940.9 508L929.4 508ZM935.7 499.3L941.5 509.9L930 509.9ZM936.3 495.8L942 506.4L930.5 506.4ZM936.8 499.9L942.6 510.5L931.1 510.5ZM937.4 502.3L943.1 512.9L931.6 512.9ZM937.9 504.5L943.7 515.1L932.2 515.1ZM938.5 504.6L944.2 515.2L932.7 515.2ZM939 502.7L944.8 513.3L933.3 513.3ZM939.6 504.7L945.3 515.3L933.8 515.3ZM940.1 511L945.9 521.6L934.4 521.6ZM940.7 506.4L946.4 517L934.9 517ZM941.2 508.1L947 518.7L935.5 518.7ZM941.8 513L947.6 523.6L936.1 523.6ZM942.4 507.8L948.1 518.4L936.6 518.4ZM942.9 512.1L948.7 522.7L937.2 522.7ZM943.5 513.1L949.2 523.6L937.7 523.6ZM944 509.9L949.8 520.5L938.3 520.5ZM944.6 508.8L950.3 519.3L938.8 519.3ZM945.1 516.2L950.9 526.8L939.4 526.8ZM945.7 512.9L951.4 523.5L939.9 523.5ZM946.2 517.9L952 528.5L940.5 528.5ZM946.8 507.6L952.5 518.2L941 518.2ZM947.3 517.6L953.1 528.2L941.6 528.2ZM947.9 512.3L953.6 522.9L942.1 522.9ZM948.5 519L954.2 529.6L942.7 529.6ZM949 514.4L954.8 525L943.3 525ZM949.6 510L955.3 520.6L943.8 520.6ZM950.1 526.5L955.9 537.1L944.4 537.1ZM950.7 519.6L956.4 530.2L944.9 530.2ZM951.2 516.7L957 527.3L945.5 527.3ZM951.8 519L957.5 529.6L946 529.6ZM952.3 521.2L958.1 531.8L946.6 531.8ZM952.9 511.8L958.6 522.4L947.1 522.4ZM953.4 519.1L959.2 529.7L947.7 529.7ZM954 525.1L959.7 535.7L948.2 535.7ZM954.5 516.8L960.3 527.4L948.8 527.4ZM955.1 525.7L960.9 536.3L949.4 536.3ZM955.7 516.1L961.4 526.7L949.9 526.7ZM956.2 522.1L962 532.7L950.5 532.7ZM956.8 519.8L962.5 530.4L951 530.4ZM957.3 516.1L963.1 526.7L951.6 526.7ZM957.9 520.1L963.6 530.7L952.1 530.7ZM958.4 525.3L964.2 535.9L952.7 535.9ZM959 526.4L964.7 537L953.2 537ZM959.5 516.7L965.3 527.3L953.8 527.3ZM960.1 518.3L965.8 528.9L954.3 528.9ZM960.6 523.6L966.4 534.2L954.9 534.2ZM961.2 518L966.9 528.6L955.4 528.6ZM961.7 519.3L967.5 529.8L956 529.8ZM962.3 518.8L968.1 529.4L956.6 529.4ZM962.9 528.7L968.6 539.3L957.1 539.3ZM963.4 522.1L969.2 532.7L957.7 532.7ZM964 518L969.7 528.6L958.2 528.6ZM964.5 518.6L970.3 529.2L958.8 529.2ZM965.1 518.2L970.8 528.7L959.3 528.7ZM965.6 529.5L971.4 540.1L959.9 540.1ZM966.2 520.6L971.9 531.2L960.4 531.2ZM966.7 519.6L972.5 530.1L961 530.1ZM967.3 512.6L973 523.1L961.5 523.1ZM967.8 524.5L973.6 535.1L962.1 535.1ZM968.4 522.4L974.1 533L962.6 533ZM969 521.2L974.7 531.7L963.2 531.7ZM969.5 518.3L975.3 528.9L963.8 528.9ZM970.1 522.8L975.8 533.4L964.3 533.4ZM970.6 517.4L976.4 528L964.9 528ZM971.2 524L976.9 534.6L965.4 534.6ZM971.7 520.4L977.5 531L966 531ZM972.3 523.1L978 533.7L966.5 533.7ZM972.8 520.8L978.6 531.4L967.1 531.4ZM973.4 523.7L979.1 534.3L967.6 534.3ZM973.9 526.8L979.7 537.3L968.2 537.3ZM974.5 517.6L980.2 528.2L968.7 528.2ZM975 520.3L980.8 530.9L969.3 530.9ZM975.6 523.2L981.3 533.8L969.8 533.8ZM976.2 520.6L981.9 531.2L970.4 531.2ZM976.7 517.9L982.5 528.5L971 528.5ZM977.3 524.6L983 535.2L971.5 535.2ZM977.8 521.6L983.6 532.2L972.1 532.2ZM978.4 519.4L984.1 530L972.6 530ZM978.9 519.4L984.7 530L973.2 530ZM979.5 522.3L985.2 532.9L973.7 532.9ZM980 528.3L985.8 538.9L974.3 538.9ZM980.6 516.9L986.3 527.4L974.8 527.4ZM981.1 519.9L986.9 530.5L975.4 530.5ZM981.7 520.9L987.4 531.5L975.9 531.5ZM982.2 521.8L988 532.4L976.5 532.4ZM982.8 519.9L988.6 530.5L977.1 530.5ZM983.4 522.2L989.1 532.8L977.6 532.8ZM983.9 524.1L989.7 534.7L978.2 534.7ZM984.5 523L990.2 533.6L978.7 533.6ZM985 522.4L990.8 533L979.3 533ZM985.6 522.3L991.3 532.9L979.8 532.9ZM986.1 524.1L991.9 534.6L980.4 534.6ZM986.7 517.8L992.4 528.4L980.9 528.4ZM987.2 524.2L993 534.8L981.5 534.8ZM987.8 517.3L993.5 527.9L982 527.9ZM988.3 522.8L994.1 533.4L982.6 533.4ZM988.9 517.9L994.6 528.5L983.1 528.5ZM989.4 514.2L995.2 524.8L983.7 524.8ZM990 517.9L995.8 528.5L984.3 528.5ZM990.6 520.8L996.3 531.3L984.8 531.3ZM991.1 517.8L996.9 528.4L985.4 528.4ZM991.7 517.1L997.4 527.7L985.9 527.7ZM992.2 523.1L998 533.7L986.5 533.7ZM992.8 518.9L998.5 529.4L987 529.4ZM993.3 515.8L999.1 526.4L987.6 526.4ZM993.9 517.5L999.6 528.1L988.1 528.1ZM994.4 515.1L1000.2 525.7L988.7 525.7ZM995 512.3L1000.7 522.9L989.2 522.9ZM995.5 511.6L1001.3 522.2L989.8 522.2ZM996.1 510.5L1001.8 521.1L990.3 521.1ZM996.7 510.9L1002.4 521.5L990.9 521.5ZM997.2 513.2L1003 523.8L991.5 523.8ZM997.8 511.6L1003.5 522.1L992 522.1ZM998.3 511.6L1004.1 522.2L992.6 522.2ZM998.9 510.9L1004.6 521.5L993.1 521.5ZM999.4 509.6L1005.2 520.2L993.7 520.2ZM1000 513.9L1005.7 524.5L994.2 524.5ZM1000.5 508.2L1006.3 518.8L994.8 518.8ZM1001.1 506.1L1006.8 516.7L995.3 516.7ZM1001.6 508.2L1007.4 518.8L995.9 518.8ZM1002.2 503.9L1007.9 514.4L996.4 514.4ZM1002.7 500.8L1008.5 511.4L997 511.4ZM1003.3 501.9L1009 512.5L997.5 512.5ZM1003.9 493L1009.6 503.6L998.1 503.6ZM1004.4 507.6L1010.2 518.1L998.7 518.1ZM1005 498L1010.7 508.6L999.2 508.6ZM1005.5 502L1011.3 512.6L999.8 512.6ZM1006.1 491L1011.8 501.6L1000.3 501.6ZM1006.6 483.7L1012.4 494.3L1000.9 494.3ZM1007.2 499.6L1012.9 510.2L1001.4 510.2ZM1007.7 489L1013.5 499.6L1002 499.6ZM1008.3 486L1014 496.6L1002.5 496.6ZM1008.8 487L1014.6 497.6L1003.1 497.6ZM1009.4 482.3L1015.1 492.9L1003.6 492.9ZM1009.9 489.9L1015.7 500.5L1004.2 500.5ZM1010.5 477.5L1016.3 488.1L1004.8 488.1ZM1011.1 477.2L1016.8 487.8L1005.3 487.8ZM1011.6 476.4L1017.4 487L1005.9 487ZM1012.2 476.5L1017.9 487.1L1006.4 487.1ZM1012.7 470.3L1018.5 480.9L1007 480.9ZM1013.3 472L1019 482.6L1007.5 482.6ZM1013.8 467.5L1019.6 478.1L1008.1 478.1ZM1014.4 467.9L1020.1 478.5L1008.6 478.5ZM1014.9 471.7L1020.7 482.3L1009.2 482.3ZM1015.5 462L1021.2 472.6L1009.7 472.6ZM1016 459.1L1021.8 469.7L1010.3 469.7ZM1016.6 455.1L1022.3 465.7L1010.8 465.7ZM1017.1 458.5L1022.9 469.1L1011.4 469.1ZM1017.7 453.5L1023.5 464.1L1012 464.1ZM1018.3 449.2L1024 459.7L1012.5 459.7ZM1018.8 448.7L1024.6 459.2L1013.1 459.2ZM1019.4 442.9L1025.1 453.4L1013.6 453.4ZM1019.9 438.3L1025.7 448.8L1014.2 448.8ZM1020.5 446.1L1026.2 456.7L1014.7 456.7ZM1021 447.6L1026.8 458.2L1015.3 458.2ZM1021.6 436.2L1027.3 446.8L1015.8 446.8ZM1022.1 432.1L1027.9 442.6L1016.4 442.6ZM1022.7 432.3L1028.4 442.9L1016.9 442.9ZM1023.2 430.9L1029 441.5L1017.5 441.5ZM1023.8 434.1L1029.5 444.7L1018 444.7ZM1024.4 432.8L1030.1 443.4L1018.6 443.4ZM1024.9 425.8L1030.7 436.4L1019.2 436.4ZM1025.5 430.5L1031.2 441.1L1019.7 441.1ZM1026 432.2L1031.8 442.8L1020.3 442.8ZM1026.6 428.2L1032.3 438.7L1020.8 438.7ZM1027.1 415.1L1032.9 425.7L1021.4 425.7ZM1027.7 416L1033.4 426.5L1021.9 426.5ZM1028.2 423.9L1034 434.4L1022.5 434.4ZM1028.8 423.1L1034.5 433.7L1023 433.7ZM1029.3 419.1L1035.1 429.7L1023.6 429.7ZM1029.9 421.8L1035.6 432.4L1024.1 432.4ZM1030.4 414.3L1036.2 424.9L1024.7 424.9ZM1031 418.6L1036.7 429.2L1025.2 429.2ZM1031.6 421.7L1037.3 432.3L1025.8 432.3ZM1032.1 413.4L1037.9 424L1026.4 424ZM1032.7 419.8L1038.4 430.3L1026.9 430.3ZM1033.2 417.1L1039 427.7L1027.5 427.7ZM1033.8 418.1L1039.5 428.6L1028 428.6ZM1034.3 419.4L1040.1 430L1028.6 430ZM1034.9 417.6L1040.6 428.2L1029.1 428.2ZM1035.4 421.6L1041.2 432.2L1029.7 432.2ZM1036 426.2L1041.7 436.8L1030.2 436.8ZM1036.5 428.2L1042.3 438.8L1030.8 438.8ZM1037.1 425.8L1042.8 436.4L1031.3 436.4ZM1037.6 425.1L1043.4 435.7L1031.9 435.7ZM1038.2 423.7L1044 434.3L1032.5 434.3ZM1038.8 424.6L1044.5 435.2L1033 435.2ZM1039.3 424.2L1045.1 434.8L1033.6 434.8ZM1039.9 427L1045.6 437.6L1034.1 437.6ZM1040.4 431.6L1046.2 442.2L1034.7 442.2ZM1041 432.9L1046.7 443.5L1035.2 443.5ZM1041.5 439.3L1047.3 449.9L1035.8 449.9ZM1042.1 434.4L1047.8 445L1036.3 445ZM1042.6 433.9L1048.4 444.5L1036.9 444.5ZM1043.2 435.6L1048.9 446.2L1037.4 446.2ZM1043.7 439.7L1049.5 450.3L1038 450.3ZM1044.3 441.9L1050 452.4L1038.5 452.4ZM1044.8 440.1L1050.6 450.7L1039.1 450.7ZM1045.4 445.3L1051.2 455.8L1039.7 455.8ZM1046 444.9L1051.7 455.5L1040.2 455.5ZM1046.5 447.5L1052.3 458.1L1040.8 458.1ZM1047.1 450.9L1052.8 461.5L1041.3 461.5ZM1047.6 449.4L1053.4 459.9L1041.9 459.9ZM1048.2 457.9L1053.9 468.5L1042.4 468.5ZM1048.7 459.4L1054.5 470L1043 470ZM1049.3 463.1L1055 473.7L1043.5 473.7ZM1049.8 465.3L1055.6 475.8L1044.1 475.8ZM1050.4 459.4L1056.1 470L1044.6 470ZM1050.9 460.9L1056.7 471.5L1045.2 471.5ZM1051.5 469L1057.2 479.6L1045.7 479.6ZM1052.1 469.3L1057.8 479.9L1046.3 479.9ZM1052.6 469.4L1058.4 479.9L1046.9 479.9ZM1053.2 472.7L1058.9 483.3L1047.4 483.3ZM1053.7 473.4L1059.5 484L1048 484ZM1054.3 483.9L1060 494.4L1048.5 494.4ZM1054.8 483.7L1060.6 494.3L1049.1 494.3ZM1055.4 482L1061.1 492.6L1049.6 492.6ZM1055.9 480.6L1061.7 491.2L1050.2 491.2ZM1056.5 487L1062.2 497.6L1050.7 497.6ZM1057 492.1L1062.8 502.7L1051.3 502.7ZM1057.6 492.2L1063.3 502.7L1051.8 502.7ZM1058.1 494.9L1063.9 505.5L1052.4 505.5ZM1058.7 497.3L1064.4 507.9L1052.9 507.9ZM1059.3 490.9L1065 501.5L1053.5 501.5ZM1059.8 499.7L1065.6 510.3L1054.1 510.3ZM1060.4 499.1L1066.1 509.7L1054.6 509.7ZM1060.9 493.3L1066.7 503.9L1055.2 503.9ZM1061.5 498L1067.2 508.6L1055.7 508.6ZM1062 502.3L1067.8 512.9L1056.3 512.9ZM1062.6 506.8L1068.3 517.4L1056.8 517.4ZM1063.1 504.6L1068.9 515.2L1057.4 515.2ZM1063.7 501.7L1069.4 512.3L1057.9 512.3ZM1064.2 506.3L1070 516.9L1058.5 516.9ZM1064.8 505.2L1070.5 515.8L1059 515.8ZM1065.3 510.2L1071.1 520.8L1059.6 520.8ZM1065.9 509.8L1071.7 520.4L1060.2 520.4ZM1066.5 513.2L1072.2 523.8L1060.7 523.8ZM1067 512L1072.8 522.6L1061.3 522.6ZM1067.6 509.9L1073.3 520.5L1061.8 520.5ZM1068.1 520L1073.9 530.6L1062.4 530.6ZM1068.7 516.1L1074.4 526.7L1062.9 526.7ZM1069.2 515.8L1075 526.4L1063.5 526.4ZM1069.8 519.3L1075.5 529.9L1064 529.9ZM1070.3 519L1076.1 529.6L1064.6 529.6ZM1070.9 515.9L1076.6 526.5L1065.1 526.5ZM1071.4 512.4L1077.2 523L1065.7 523ZM1072 517.6L1077.7 528.2L1066.2 528.2ZM1072.5 519.1L1078.3 529.7L1066.8 529.7ZM1073.1 526L1078.9 536.6L1067.4 536.6ZM1073.7 514.6L1079.4 525.2L1067.9 525.2ZM1074.2 521.3L1080 531.9L1068.5 531.9ZM1074.8 522.1L1080.5 532.7L1069 532.7ZM1075.3 526.1L1081.1 536.7L1069.6 536.7ZM1075.9 522.9L1081.6 533.5L1070.1 533.5ZM1076.4 526.7L1082.2 537.3L1070.7 537.3ZM1077 523.1L1082.7 533.6L1071.2 533.6ZM1077.5 522L1083.3 532.6L1071.8 532.6ZM1078.1 523.7L1083.8 534.3L1072.3 534.3ZM1078.6 523.1L1084.4 533.7L1072.9 533.7ZM1079.2 527.2L1084.9 537.7L1073.4 537.7ZM1079.8 519.6L1085.5 530.2L1074 530.2ZM1080.3 526.9L1086.1 537.4L1074.6 537.4ZM1080.9 531L1086.6 541.6L1075.1 541.6ZM1081.4 525.6L1087.2 536.2L1075.7 536.2ZM1082 527.7L1087.7 538.3L1076.2 538.3ZM1082.5 528.7L1088.3 539.3L1076.8 539.3ZM1083.1 526.6L1088.8 537.2L1077.3 537.2ZM1083.6 524.5L1089.4 535.1L1077.9 535.1ZM1084.2 529.6L1089.9 540.2L1078.4 540.2ZM1084.7 526.1L1090.5 536.7L1079 536.7ZM1085.3 520.9L1091 531.5L1079.5 531.5ZM1085.8 523.5L1091.6 534.1L1080.1 534.1ZM1086.4 526.4L1092.1 537L1080.6 537ZM1087 525.5L1092.7 536.1L1081.2 536.1ZM1087.5 526.4L1093.3 537L1081.8 537ZM1088.1 526.3L1093.8 536.8L1082.3 536.8ZM1088.6 523.7L1094.4 534.2L1082.9 534.2ZM1089.2 526.5L1094.9 537.1L1083.4 537.1ZM1089.7 534.4L1095.5 545L1084 545ZM1090.3 526.3L1096 536.9L1084.5 536.9ZM1090.8 529.3L1096.6 539.9L1085.1 539.9ZM1091.4 524.1L1097.1 534.7L1085.6 534.7ZM1091.9 528.4L1097.7 539L1086.2 539ZM1092.5 525.9L1098.2 536.5L1086.7 536.5ZM1093 519L1098.8 529.6L1087.3 529.6Z" fill="none" stroke="#0072BD" stroke-width="1.1"/>
<path d="M839 542.3a5.3 5.3 0 1 0 10.6 0a5.3 5.3 0 1 0 -10.6 0M840.5 542.4a5.3 5.3 0 1 0 10.6 0a5.3 5.3 0 1 0 -10.6 0M842 542.7a5.3 5.3 0 1 0 10.6 0a5.3 5.3 0 1 0 -10.6 0M843.6 544a5.3 5.3 0 1 0 10.6 0a5.3 5.3 0 1 0 -10.6 0M845.1 543.2a5.3 5.3 0 1 0 10.6 0a5.3 5.3 0 1 0 -10.6 0M846.6 540a5.3 5.3 0 1 0 10.6 0a5.3 5.3 0 1 0 -10.6 0M848.1 541.2a5.3 5.3 0 1 0 10.6 0a5.3 5.3 0 1 0 -10.6 0M849.7 542.6a5.3 5.3 0 1 0 10.6 0a5.3 5.3 0 1 0 -10.6 0M851.2 541.8a5.3 5.3 0 1 0 10.6 0a5.3 5.3 0 1 0 -10.6 0M852.7 538.7a5.3 5.3 0 1 0 10.6 0a5.3 5.3 0 1 0 -10.6 0M854.2 540.1a5.3 5.3 0 1 0 10.6 0a5.3 5.3 0 1 0 -10.6 0M855.8 539a5.3 5.3 0 1 0 10.6 0a5.3 5.3 0 1 0 -10.6 0M857.3 537.5a5.3 5.3 0 1 0 10.6 0a5.3 5.3 0 1 0 -10.6 0M858.8 535.3a5.3 5.3 0 1 0 10.6 0a5.3 5.3 0 1 0 -10.6 0M860.3 533.5a5.3 5.3 0 1 0 10.6 0a5.3 5.3 0 1 0 -10.6 0M861.9 533.6a5.3 5.3 0 1 0 10.6 0a5.3 5.3 0 1 0 -10.6 0M863.4 533.5a5.3 5.3 0 1 0 10.6 0a5.3 5.3 0 1 0 -10.6 0M864.9 531.8a5.3 5.3 0 1 0 10.6 0a5.3 5.3 0 1 0 -10.6 0M866.4 527.7a5.3 5.3 0 1 0 10.6 0a5.3 5.3 0 1 0 -10.6 0M867.9 526a5.3 5.3 0 1 0 10.6 0a5.3 5.3 0 1 0 -10.6 0M869.5 525.9a5.3 5.3 0 1 0 10.6 0a5.3 5.3 0 1 0 -10.6 0M871 522a5.3 5.3 0 1 0 10.6 0a5.3 5.3 0 1 0 -10.6 0M872.5 519a5.3 5.3 0 1 0 10.6 0a5.3 5.3 0 1 0 -10.6 0M874 515.8a5.3 5.3 0 1 0 10.6 0a5.3 5.3 0 1 0 -10.6 0M875.6 512.7a5.3 5.3 0 1 0 10.6 0a5.3 5.3 0 1 0 -10.6 0M877.1 509.6a5.3 5.3 0 1 0 10.6 0a5.3 5.3 0 1 0 -10.6 0M878.6 503.9a5.3 5.3 0 1 0 10.6 0a5.3 5.3 0 1 0 -10.6 0M880.1 500.5a5.3 5.3 0 1 0 10.6 0a5.3 5.3 0 1 0 -10.6 0M881.7 491.7a5.3 5.3 0 1 0 10.6 0a5.3 5.3 0 1 0 -10.6 0M883.2 487.5a5.3 5.3 0 1 0 10.6 0a5.3 5.3 0 1 0 -10.6 0M884.7 484.6a5.3 5.3 0 1 0 10.6 0a5.3 5.3 0 1 0 -10.6 0M886.2 475.8a5.3 5.3 0 1 0 10.6 0a5.3 5.3 0 1 0 -10.6 0M887.8 471.4a5.3 5.3 0 1 0 10.6 0a5.3 5.3 0 1 0 -10.6 0M889.3 470.2a5.3 5.3 0 1 0 10.6 0a5.3 5.3 0 1 0 -10.6 0M890.8 460.4a5.3 5.3 0 1 0 10.6 0a5.3 5.3 0 1 0 -10.6 0M892.3 457.6a5.3 5.3 0 1 0 10.6 0a5.3 5.3 0 1 0 -10.6 0M893.8 452.1a5.3 5.3 0 1 0 10.6 0a5.3 5.3 0 1 0 -10.6 0M895.4 453.3a5.3 5.3 0 1 0 10.6 0a5.3 5.3 0 1 0 -10.6 0M896.9 448.4a5.3 5.3 0 1 0 10.6 0a5.3 5.3 0 1 0 -10.6 0M898.4 446.7a5.3 5.3 0 1 0 10.6 0a5.3 5.3 0 1 0 -10.6 0M899.9 445.9a5.3 5.3 0 1 0 10.6 0a5.3 5.3 0 1 0 -10.6 0M901.5 445.6a5.3 5.3 0 1 0 10.6 0a5.3 5.3 0 1 0 -10.6 0M903 444.8a5.3 5.3 0 1 0 10.6 0a5.3 5.3 0 1 0 -10.6 0M904.5 449.5a5.3 5.3 0 1 0 10.6 0a5.3 5.3 0 1 0 -10.6 0M906 451.2a5.3 5.3 0 1 0 10.6 0a5.3 5.3 0 1 0 -10.6 0M907.6 454.1a5.3 5.3 0 1 0 10.6 0a5.3 5.3 0 1 0 -10.6 0M909.1 456.2a5.3 5.3 0 1 0 10.6 0a5.3 5.3 0 1 0 -10.6 0M910.6 460.1a5.3 5.3 0 1 0 10.6 0a5.3 5.3 0 1 0 -10.6 0M912.1 463.1a5.3 5.3 0 1 0 10.6 0a5.3 5.3 0 1 0 -10.6 0M913.7 467.9a5.3 5.3 0 1 0 10.6 0a5.3 5.3 0 1 0 -10.6 0M915.2 473.2a5.3 5.3 0 1 0 10.6 0a5.3 5.3 0 1 0 -10.6 0M916.7 479.2a5.3 5.3 0 1 0 10.6 0a5.3 5.3 0 1 0 -10.6 0M918.2 484a5.3 5.3 0 1 0 10.6 0a5.3 5.3 0 1 0 -10.6 0M919.7 487.3a5.3 5.3 0 1 0 10.6 0a5.3 5.3 0 1 0 -10.6 0M921.3 492.5a5.3 5.3 0 1 0 10.6 0a5.3 5.3 0 1 0 -10.6 0M922.8 498.3a5.3 5.3 0 1 0 10.6 0a5.3 5.3 0 1 0 -10.6 0M924.3 503.4a5.3 5.3 0 1 0 10.6 0a5.3 5.3 0 1 0 -10.6 0M925.8 505.2a5.3 5.3 0 1 0 10.6 0a5.3 5.3 0 1 0 -10.6 0M927.4 512.1a5.3 5.3 0 1 0 10.6 0a5.3 5.3 0 1 0 -10.6 0M928.9 514.1a5.3 5.3 0 1 0 10.6 0a5.3 5.3 0 1 0 -10.6 0M930.4 516.7a5.3 5.3 0 1 0 10.6 0a5.3 5.3 0 1 0 -10.6 0M931.9 521.6a5.3 5.3 0 1 0 10.6 0a5.3 5.3 0 1 0 -10.6 0M933.5 522.8a5.3 5.3 0 1 0 10.6 0a5.3 5.3 0 1 0 -10.6 0M935 527.7a5.3 5.3 0 1 0 10.6 0a5.3 5.3 0 1 0 -10.6 0M936.5 526.7a5.3 5.3 0 1 0 10.6 0a5.3 5.3 0 1 0 -10.6 0M938 529.5a5.3 5.3 0 1 0 10.6 0a5.3 5.3 0 1 0 -10.6 0M939.6 533.4a5.3 5.3 0 1 0 10.6 0a5.3 5.3 0 1 0 -10.6 0M941.1 531.5a5.3 5.3 0 1 0 10.6 0a5.3 5.3 0 1 0 -10.6 0M942.6 534.6a5.3 5.3 0 1 0 10.6 0a5.3 5.3 0 1 0 -10.6 0M944.1 532.4a5.3 5.3 0 1 0 10.6 0a5.3 5.3 0 1 0 -10.6 0M945.6 535.7a5.3 5.3 0 1 0 10.6 0a5.3 5.3 0 1 0 -10.6 0M947.2 535.5a5.3 5.3 0 1 0 10.6 0a5.3 5.3 0 1 0 -10.6 0M948.7 535.3a5.3 5.3 0 1 0 10.6 0a5.3 5.3 0 1 0 -10.6 0M950.2 536.4a5.3 5.3 0 1 0 10.6 0a5.3 5.3 0 1 0 -10.6 0M951.7 535.8a5.3 5.3 0 1 0 10.6 0a5.3 5.3 0 1 0 -10.6 0M953.3 537.1a5.3 5.3 0 1 0 10.6 0a5.3 5.3 0 1 0 -10.6 0M954.8 535.5a5.3 5.3 0 1 0 10.6 0a5.3 5.3 0 1 0 -10.6 0M956.3 536.5a5.3 5.3 0 1 0 10.6 0a5.3 5.3 0 1 0 -10.6 0M957.8 536.3a5.3 5.3 0 1 0 10.6 0a5.3 5.3 0 1 0 -10.6 0M959.4 540.3a5.3 5.3 0 1 0 10.6 0a5.3 5.3 0 1 0 -10.6 0M960.9 535a5.3 5.3 0 1 0 10.6 0a5.3 5.3 0 1 0 -10.6 0M962.4 536.6a5.3 5.3 0 1 0 10.6 0a5.3 5.3 0 1 0 -10.6 0M963.9 539a5.3 5.3 0 1 0 10.6 0a5.3 5.3 0 1 0 -10.6 0M965.5 536.4a5.3 5.3 0 1 0 10.6 0a5.3 5.3 0 1 0 -10.6 0M967 535.9a5.3 5.3 0 1 0 10.6 0a5.3 5.3 0 1 0 -10.6 0M968.5 535a5.3 5.3 0 1 0 10.6 0a5.3 5.3 0 1 0 -10.6 0M970 537.9a5.3 5.3 0 1 0 10.6 0a5.3 5.3 0 1 0 -10.6 0M971.5 534.2a5.3 5.3 0 1 0 10.6 0a5.3 5.3 0 1 0 -10.6 0M973.1 536.4a5.3 5.3 0 1 0 10.6 0a5.3 5.3 0 1 0 -10.6 0M974.6 532.7a5.3 5.3 0 1 0 10.6 0a5.3 5.3 0 1 0 -10.6 0M976.1 536a5.3 5.3 0 1 0 10.6 0a5.3 5.3 0 1 0 -10.6 0M977.6 534.6a5.3 5.3 0 1 0 10.6 0a5.3 5.3 0 1 0 -10.6 0M979.2 535.6a5.3 5.3 0 1 0 10.6 0a5.3 5.3 0 1 0 -10.6 0M980.7 536.2a5.3 5.3 0 1 0 10.6 0a5.3 5.3 0 1 0 -10.6 0M982.2 532.6a5.3 5.3 0 1 0 10.6 0a5.3 5.3 0 1 0 -10.6 0M983.7 532.1a5.3 5.3 0 1 0 10.6 0a5.3 5.3 0 1 0 -10.6 0M985.3 530.4a5.3 5.3 0 1 0 10.6 0a5.3 5.3 0 1 0 -10.6 0M986.8 530.3a5.3 5.3 0 1 0 10.6 0a5.3 5.3 0 1 0 -10.6 0M988.3 530.9a5.3 5.3 0 1 0 10.6 0a5.3 5.3 0 1 0 -10.6 0M989.8 530.9a5.3 5.3 0 1 0 10.6 0a5.3 5.3 0 1 0 -10.6 0M991.3 527.8a5.3 5.3 0 1 0 10.6 0a5.3 5.3 0 1 0 -10.6 0M992.9 525.7a5.3 5.3 0 1 0 10.6 0a5.3 5.3 0 1 0 -10.6 0M994.4 523.5a5.3 5.3 0 1 0 10.6 0a5.3 5.3 0 1 0 -10.6 0M995.9 518.9a5.3 5.3 0 1 0 10.6 0a5.3 5.3 0 1 0 -10.6 0M997.4 516.2a5.3 5.3 0 1 0 10.6 0a5.3 5.3 0 1 0 -10.6 0M999 513.6a5.3 5.3 0 1 0 10.6 0a5.3 5.3 0 1 0 -10.6 0M1000.5 509.2a5.3 5.3 0 1 0 10.6 0a5.3 5.3 0 1 0 -10.6 0M1002 505.6a5.3 5.3 0 1 0 10.6 0a5.3 5.3 0 1 0 -10.6 0M1003.5 500.8a5.3 5.3 0 1 0 10.6 0a5.3 5.3 0 1 0 -10.6 0M1005.1 495.4a5.3 5.3 0 1 0 10.6 0a5.3 5.3 0 1 0 -10.6 0M1006.6 490.3a5.3 5.3 0 1 0 10.6 0a5.3 5.3 0 1 0 -10.6 0M1008.1 487.6a5.3 5.3 0 1 0 10.6 0a5.3 5.3 0 1 0 -10.6 0M1009.6 483.6a5.3 5.3 0 1 0 10.6 0a5.3 5.3 0 1 0 -10.6 0M1011.2 474.6a5.3 5.3 0 1 0 10.6 0a5.3 5.3 0 1 0 -10.6 0M1012.7 471.5a5.3 5.3 0 1 0 10.6 0a5.3 5.3 0 1 0 -10.6 0M1014.2 465.4a5.3 5.3 0 1 0 10.6 0a5.3 5.3 0 1 0 -10.6 0M1015.7 464.7a5.3 5.3 0 1 0 10.6 0a5.3 5.3 0 1 0 -10.6 0M1017.2 458.9a5.3 5.3 0 1 0 10.6 0a5.3 5.3 0 1 0 -10.6 0M1018.8 454.8a5.3 5.3 0 1 0 10.6 0a5.3 5.3 0 1 0 -10.6 0M1020.3 453.8a5.3 5.3 0 1 0 10.6 0a5.3 5.3 0 1 0 -10.6 0M1021.8 450.2a5.3 5.3 0 1 0 10.6 0a5.3 5.3 0 1 0 -10.6 0M1023.3 446.8a5.3 5.3 0 1 0 10.6 0a5.3 5.3 0 1 0 -10.6 0M1024.9 445.4a5.3 5.3 0 1 0 10.6 0a5.3 5.3 0 1 0 -10.6 0M1026.4 444.5a5.3 5.3 0 1 0 10.6 0a5.3 5.3 0 1 0 -10.6 0M1027.9 448.4a5.3 5.3 0 1 0 10.6 0a5.3 5.3 0 1 0 -10.6 0M1029.4 450.5a5.3 5.3 0 1 0 10.6 0a5.3 5.3 0 1 0 -10.6 0M1031 450a5.3 5.3 0 1 0 10.6 0a5.3 5.3 0 1 0 -10.6 0M1032.5 452.1a5.3 5.3 0 1 0 10.6 0a5.3 5.3 0 1 0 -10.6 0M1034 456.5a5.3 5.3 0 1 0 10.6 0a5.3 5.3 0 1 0 -10.6 0M1035.5 462.4a5.3 5.3 0 1 0 10.6 0a5.3 5.3 0 1 0 -10.6 0M1037.1 463.8a5.3 5.3 0 1 0 10.6 0a5.3 5.3 0 1 0 -10.6 0M1038.6 468.4a5.3 5.3 0 1 0 10.6 0a5.3 5.3 0 1 0 -10.6 0M1040.1 473.6a5.3 5.3 0 1 0 10.6 0a5.3 5.3 0 1 0 -10.6 0M1041.6 480.1a5.3 5.3 0 1 0 10.6 0a5.3 5.3 0 1 0 -10.6 0M1043.1 484.1a5.3 5.3 0 1 0 10.6 0a5.3 5.3 0 1 0 -10.6 0M1044.7 488.5a5.3 5.3 0 1 0 10.6 0a5.3 5.3 0 1 0 -10.6 0M1046.2 495.2a5.3 5.3 0 1 0 10.6 0a5.3 5.3 0 1 0 -10.6 0M1047.7 501.7a5.3 5.3 0 1 0 10.6 0a5.3 5.3 0 1 0 -10.6 0M1049.2 503.3a5.3 5.3 0 1 0 10.6 0a5.3 5.3 0 1 0 -10.6 0M1050.8 507.4a5.3 5.3 0 1 0 10.6 0a5.3 5.3 0 1 0 -10.6 0M1052.3 511.9a5.3 5.3 0 1 0 10.6 0a5.3 5.3 0 1 0 -10.6 0M1053.8 514.4a5.3 5.3 0 1 0 10.6 0a5.3 5.3 0 1 0 -10.6 0M1055.3 519.6a5.3 5.3 0 1 0 10.6 0a5.3 5.3 0 1 0 -10.6 0M1056.9 521.9a5.3 5.3 0 1 0 10.6 0a5.3 5.3 0 1 0 -10.6 0M1058.4 524.8a5.3 5.3 0 1 0 10.6 0a5.3 5.3 0 1 0 -10.6 0M1059.9 525.8a5.3 5.3 0 1 0 10.6 0a5.3 5.3 0 1 0 -10.6 0M1061.4 526.4a5.3 5.3 0 1 0 10.6 0a5.3 5.3 0 1 0 -10.6 0M1063 530.6a5.3 5.3 0 1 0 10.6 0a5.3 5.3 0 1 0 -10.6 0M1064.5 528.9a5.3 5.3 0 1 0 10.6 0a5.3 5.3 0 1 0 -10.6 0M1066 530.8a5.3 5.3 0 1 0 10.6 0a5.3 5.3 0 1 0 -10.6 0M1067.5 532.8a5.3 5.3 0 1 0 10.6 0a5.3 5.3 0 1 0 -10.6 0M1069 533.9a5.3 5.3 0 1 0 10.6 0a5.3 5.3 0 1 0 -10.6 0M1070.6 532.9a5.3 5.3 0 1 0 10.6 0a5.3 5.3 0 1 0 -10.6 0M1072.1 536.1a5.3 5.3 0 1 0 10.6 0a5.3 5.3 0 1 0 -10.6 0M1073.6 536.5a5.3 5.3 0 1 0 10.6 0a5.3 5.3 0 1 0 -10.6 0M1075.1 538.1a5.3 5.3 0 1 0 10.6 0a5.3 5.3 0 1 0 -10.6 0M1076.7 536.2a5.3 5.3 0 1 0 10.6 0a5.3 5.3 0 1 0 -10.6 0M1078.2 535.3a5.3 5.3 0 1 0 10.6 0a5.3 5.3 0 1 0 -10.6 0M1079.7 536.5a5.3 5.3 0 1 0 10.6 0a5.3 5.3 0 1 0 -10.6 0M1081.2 536.8a5.3 5.3 0 1 0 10.6 0a5.3 5.3 0 1 0 -10.6 0M1082.8 537.7a5.3 5.3 0 1 0 10.6 0a5.3 5.3 0 1 0 -10.6 0M1084.3 537.2a5.3 5.3 0 1 0 10.6 0a5.3 5.3 0 1 0 -10.6 0M1085.8 539.4a5.3 5.3 0 1 0 10.6 0a5.3 5.3 0 1 0 -10.6 0M1087.3 536.1a5.3 5.3 0 1 0 10.6 0a5.3 5.3 0 1 0 -10.6 0" fill="none" stroke="#D95319" stroke-width="1.0"/>
<path d="M844.3 405H1093.6 M844.3 575H1093.6" stroke="#262626" stroke-width="1.5" fill="none"/>
<path d="M844.3 405V575" stroke="#0072BD" stroke-width="1.2"/>
<path d="M1093.6 405V575" stroke="#D95319" stroke-width="1.2"/>
<path d="M906.6 575V571M906.6 405V409M1031.3 575V571M1031.3 405V409" stroke="#262626" stroke-width="1.2"/>
<path d="M844.3 575H848.3M844.3 490H848.3M844.3 405H848.3" stroke="#0072BD" stroke-width="1.2"/>
<path d="M1093.6 575H1089.6M1093.6 541H1089.6M1093.6 473H1089.6M1093.6 405H1089.6" stroke="#D95319" stroke-width="1.2"/>
<text x="832.3" y="587.8" font-size="35" fill="#0072BD" text-anchor="end">0</text>
<text x="832.3" y="502.8" font-size="35" fill="#0072BD" text-anchor="end">1.75</text>
<text x="832.3" y="417.8" font-size="35" fill="#0072BD" text-anchor="end">3.5</text>
<text x="1105.3" y="587.8" font-size="35" fill="#D95319">0</text>
<text x="1105.3" y="553.8" font-size="35" fill="#D95319">25</text>
<text x="1105.3" y="485.8" font-size="35" fill="#D95319">75</text>
<text x="1105.3" y="417.8" font-size="35" fill="#D95319">125</text>
<text x="906.6" y="618" font-size="35" fill="#262626" text-anchor="middle">90</text>
<text x="1031.3" y="618" font-size="35" fill="#262626" text-anchor="middle">270</text>
<text x="841.2" y="387.7" font-size="35" fill="#0072BD">×10<tspan dx="-1" dy="-11.6" font-size="23">4</tspan></text>
<text x="968.9" y="397.3" font-size="41.5" fill="#000" text-anchor="middle">ii</text>
<text x="968.9" y="661" font-size="36.5" fill="#262626" text-anchor="middle"><tspan font-style="italic">θ</tspan> [deg.]</text>
<text transform="translate(754.2 494.5) rotate(-90)" font-size="36" fill="#0072BD" text-anchor="middle">I [cm<tspan dx="1.5" dy="-10.9" font-size="22.5">-1</tspan><tspan dx="2" dy="10.9">]</tspan></text>
<text transform="translate(1193.9 490) rotate(-90)" font-size="36" fill="#D95319" text-anchor="middle">I [cm<tspan dx="1.5" dy="-10.9" font-size="22.5">-1</tspan><tspan dx="2" dy="10.9">]</tspan></text>
<path d="M906.6 722.7V891.7M968.9 722.7V891.7M1031.3 722.7V891.7" stroke="#BDBDBD" stroke-width="1" fill="none"/>
<path d="M844.3 807.2H1093.6" stroke="#CFE2F1" stroke-width="1" fill="none"/>
<path d="M844.3 835.4H1093.6M844.3 779H1093.6" stroke="#F6D3C4" stroke-width="1" fill="none"/>
<path d="M844.3 846.9L850 857.5L838.5 857.5ZM844.9 849L850.6 859.6L839.1 859.6ZM845.4 848L851.2 858.5L839.7 858.5ZM846 848.2L851.7 858.8L840.2 858.8ZM846.5 843.1L852.3 853.6L840.8 853.6ZM847.1 842.4L852.8 853L841.3 853ZM847.6 849.8L853.4 860.4L841.9 860.4ZM848.2 842.8L853.9 853.4L842.4 853.4ZM848.7 842.9L854.5 853.5L843 853.5ZM849.3 847.4L855 858L843.5 858ZM849.8 850.1L855.6 860.7L844.1 860.7ZM850.4 847.9L856.1 858.4L844.6 858.4ZM850.9 847.5L856.7 858.1L845.2 858.1ZM851.5 844.5L857.3 855.1L845.8 855.1ZM852.1 846.6L857.8 857.2L846.3 857.2ZM852.6 851.7L858.4 862.2L846.9 862.2ZM853.2 844.8L858.9 855.3L847.4 855.3ZM853.7 850.1L859.5 860.7L848 860.7ZM854.3 842.6L860 853.2L848.5 853.2ZM854.8 849L860.6 859.6L849.1 859.6ZM855.4 847.4L861.1 858L849.6 858ZM855.9 847.9L861.7 858.4L850.2 858.4ZM856.5 846.9L862.2 857.4L850.7 857.4ZM857 841.2L862.8 851.8L851.3 851.8ZM857.6 842.5L863.3 853.1L851.8 853.1ZM858.1 843.2L863.9 853.7L852.4 853.7ZM858.7 843.9L864.5 854.5L853 854.5ZM859.3 849.5L865 860.1L853.5 860.1ZM859.8 846.3L865.6 856.9L854.1 856.9ZM860.4 846.3L866.1 856.9L854.6 856.9ZM860.9 847.5L866.7 858L855.2 858ZM861.5 842.8L867.2 853.4L855.7 853.4ZM862 846.5L867.8 857L856.3 857ZM862.6 846.2L868.3 856.8L856.8 856.8ZM863.1 847L868.9 857.6L857.4 857.6ZM863.7 849.9L869.4 860.5L857.9 860.5ZM864.2 841.6L870 852.2L858.5 852.2ZM864.8 839.2L870.5 849.8L859 849.8ZM865.4 842.5L871.1 853L859.6 853ZM865.9 845.7L871.7 856.3L860.2 856.3ZM866.5 850.7L872.2 861.2L860.7 861.2ZM867 841.6L872.8 852.2L861.3 852.2ZM867.6 838.1L873.3 848.6L861.8 848.6ZM868.1 840.5L873.9 851.1L862.4 851.1ZM868.7 838.2L874.4 848.8L862.9 848.8ZM869.2 836.1L875 846.7L863.5 846.7ZM869.8 836.7L875.5 847.3L864 847.3ZM870.3 841L876.1 851.5L864.6 851.5ZM870.9 835.9L876.6 846.5L865.1 846.5ZM871.4 836.2L877.2 846.7L865.7 846.7ZM872 842.6L877.7 853.2L866.2 853.2ZM872.6 838.5L878.3 849.1L866.8 849.1ZM873.1 840.9L878.9 851.5L867.4 851.5ZM873.7 836.2L879.4 846.8L867.9 846.8ZM874.2 833.3L880 843.9L868.5 843.9ZM874.8 837.5L880.5 848.1L869 848.1ZM875.3 839.6L881.1 850.2L869.6 850.2ZM875.9 828.5L881.6 839.1L870.1 839.1ZM876.4 830.3L882.2 840.9L870.7 840.9ZM877 826L882.7 836.6L871.2 836.6ZM877.5 833.4L883.3 844L871.8 844ZM878.1 825L883.8 835.6L872.3 835.6ZM878.6 820.7L884.4 831.3L872.9 831.3ZM879.2 819.7L885 830.3L873.5 830.3ZM879.8 825.1L885.5 835.7L874 835.7ZM880.3 822.3L886.1 832.9L874.6 832.9ZM880.9 822.2L886.6 832.7L875.1 832.7ZM881.4 817.2L887.2 827.7L875.7 827.7ZM882 815.5L887.7 826.1L876.2 826.1ZM882.5 816.8L888.3 827.4L876.8 827.4ZM883.1 819.5L888.8 830.1L877.3 830.1ZM883.6 811.4L889.4 822L877.9 822ZM884.2 813.3L889.9 823.9L878.4 823.9ZM884.7 808.1L890.5 818.7L879 818.7ZM885.3 807.3L891 817.9L879.5 817.9ZM885.8 801.3L891.6 811.8L880.1 811.8ZM886.4 800.7L892.2 811.3L880.7 811.3ZM887 803.5L892.7 814.1L881.2 814.1ZM887.5 799L893.3 809.6L881.8 809.6ZM888.1 792.6L893.8 803.2L882.3 803.2ZM888.6 797.4L894.4 808L882.9 808ZM889.2 792.2L894.9 802.8L883.4 802.8ZM889.7 787.7L895.5 798.3L884 798.3ZM890.3 785.2L896 795.8L884.5 795.8ZM890.8 785.2L896.6 795.8L885.1 795.8ZM891.4 788.5L897.1 799.1L885.6 799.1ZM891.9 786L897.7 796.6L886.2 796.6ZM892.5 779.1L898.2 789.7L886.7 789.7ZM893.1 776.3L898.8 786.9L887.3 786.9ZM893.6 767.4L899.4 778L887.9 778ZM894.2 775.5L899.9 786.1L888.4 786.1ZM894.7 767.1L900.5 777.7L889 777.7ZM895.3 766L901 776.5L889.5 776.5ZM895.8 771.1L901.6 781.7L890.1 781.7ZM896.4 766.3L902.1 776.9L890.6 776.9ZM896.9 761.1L902.7 771.7L891.2 771.7ZM897.5 761L903.2 771.6L891.7 771.6ZM898 757.9L903.8 768.5L892.3 768.5ZM898.6 754L904.3 764.6L892.8 764.6ZM899.1 755.9L904.9 766.5L893.4 766.5ZM899.7 750.2L905.4 760.7L893.9 760.7ZM900.3 751.7L906 762.3L894.5 762.3ZM900.8 749.7L906.6 760.3L895.1 760.3ZM901.4 744.8L907.1 755.4L895.6 755.4ZM901.9 746.6L907.7 757.2L896.2 757.2ZM902.5 742.6L908.2 753.2L896.7 753.2ZM903 737.3L908.8 747.8L897.3 747.8ZM903.6 740.8L909.3 751.4L897.8 751.4ZM904.1 740.2L909.9 750.8L898.4 750.8ZM904.7 736.6L910.4 747.1L898.9 747.1ZM905.2 739L911 749.6L899.5 749.6ZM905.8 733.9L911.5 744.5L900 744.5ZM906.3 740.5L912.1 751L900.6 751ZM906.9 734.2L912.7 744.8L901.2 744.8ZM907.5 737.3L913.2 747.8L901.7 747.8ZM908 737.9L913.8 748.5L902.3 748.5ZM908.6 730L914.3 740.6L902.8 740.6ZM909.1 738L914.9 748.6L903.4 748.6ZM909.7 730.2L915.4 740.8L903.9 740.8ZM910.2 733.9L916 744.4L904.5 744.4ZM910.8 731.9L916.5 742.5L905 742.5ZM911.3 739.8L917.1 750.4L905.6 750.4ZM911.9 733.9L917.6 744.5L906.1 744.5ZM912.4 733.9L918.2 744.5L906.7 744.5ZM913 739.6L918.7 750.2L907.2 750.2ZM913.5 740.7L919.3 751.3L907.8 751.3ZM914.1 734L919.9 744.6L908.4 744.6ZM914.7 742.2L920.4 752.8L908.9 752.8ZM915.2 745.4L921 756L909.5 756ZM915.8 747.5L921.5 758.1L910 758.1ZM916.3 745.8L922.1 756.4L910.6 756.4ZM916.9 747.8L922.6 758.4L911.1 758.4ZM917.4 750L923.2 760.6L911.7 760.6ZM918 747.1L923.7 757.7L912.2 757.7ZM918.5 755.3L924.3 765.8L912.8 765.8ZM919.1 754.8L924.8 765.4L913.3 765.4ZM919.6 753.8L925.4 764.4L913.9 764.4ZM920.2 763.3L925.9 773.9L914.4 773.9ZM920.8 759.2L926.5 769.8L915 769.8ZM921.3 759L927.1 769.6L915.6 769.6ZM921.9 770.9L927.6 781.5L916.1 781.5ZM922.4 772.3L928.2 782.9L916.7 782.9ZM923 774.4L928.7 784.9L917.2 784.9ZM923.5 779.1L929.3 789.7L917.8 789.7ZM924.1 774.3L929.8 784.9L918.3 784.9ZM924.6 783.6L930.4 794.2L918.9 794.2ZM925.2 778.7L930.9 789.3L919.4 789.3ZM925.7 778.1L931.5 788.7L920 788.7ZM926.3 789.7L932 800.2L920.5 800.2ZM926.8 787.9L932.6 798.5L921.1 798.5ZM927.4 795L933.1 805.6L921.6 805.6ZM928 789L933.7 799.6L922.2 799.6ZM928.5 795.7L934.3 806.3L922.8 806.3ZM929.1 796.4L934.8 807L923.3 807ZM929.6 797.5L935.4 808.1L923.9 808.1ZM930.2 798L935.9 808.6L924.4 808.6ZM930.7 802.7L936.5 813.3L925 813.3ZM931.3 803.6L937 814.1L925.5 814.1ZM931.8 807.1L937.6 817.7L926.1 817.7ZM932.4 807L938.1 817.5L926.6 817.5ZM932.9 812.7L938.7 823.2L927.2 823.2ZM933.5 810.6L939.2 821.2L927.7 821.2ZM934 818.3L939.8 828.9L928.3 828.9ZM934.6 815.6L940.4 826.1L928.9 826.1ZM935.2 809.8L940.9 820.4L929.4 820.4ZM935.7 816.9L941.5 827.4L930 827.4ZM936.3 822.4L942 832.9L930.5 832.9ZM936.8 819.1L942.6 829.7L931.1 829.7ZM937.4 824.2L943.1 834.7L931.6 834.7ZM937.9 827.5L943.7 838.1L932.2 838.1ZM938.5 825.9L944.2 836.5L932.7 836.5ZM939 822.5L944.8 833.1L933.3 833.1ZM939.6 824.7L945.3 835.3L933.8 835.3ZM940.1 827.2L945.9 837.7L934.4 837.7ZM940.7 830.7L946.4 841.2L934.9 841.2ZM941.2 832L947 842.6L935.5 842.6ZM941.8 825.5L947.6 836.1L936.1 836.1ZM942.4 829.7L948.1 840.3L936.6 840.3ZM942.9 834.1L948.7 844.7L937.2 844.7ZM943.5 838.3L949.2 848.9L937.7 848.9ZM944 836.7L949.8 847.3L938.3 847.3ZM944.6 825.7L950.3 836.3L938.8 836.3ZM945.1 837.3L950.9 847.9L939.4 847.9ZM945.7 834.6L951.4 845.1L939.9 845.1ZM946.2 834.2L952 844.8L940.5 844.8ZM946.8 835.8L952.5 846.4L941 846.4ZM947.3 836.6L953.1 847.2L941.6 847.2ZM947.9 840.3L953.6 850.9L942.1 850.9ZM948.5 839.7L954.2 850.3L942.7 850.3ZM949 831.7L954.8 842.3L943.3 842.3ZM949.6 839.5L955.3 850.1L943.8 850.1ZM950.1 834.9L955.9 845.5L944.4 845.5ZM950.7 842.9L956.4 853.5L944.9 853.5ZM951.2 838.8L957 849.4L945.5 849.4ZM951.8 837.4L957.5 848L946 848ZM952.3 835.3L958.1 845.8L946.6 845.8ZM952.9 842L958.6 852.6L947.1 852.6ZM953.4 836.9L959.2 847.5L947.7 847.5ZM954 837.7L959.7 848.3L948.2 848.3ZM954.5 841.3L960.3 851.9L948.8 851.9ZM955.1 837.7L960.9 848.3L949.4 848.3ZM955.7 842L961.4 852.6L949.9 852.6ZM956.2 841.8L962 852.4L950.5 852.4ZM956.8 839.5L962.5 850.1L951 850.1ZM957.3 847.8L963.1 858.4L951.6 858.4ZM957.9 839.9L963.6 850.5L952.1 850.5ZM958.4 842.7L964.2 853.3L952.7 853.3ZM959 844.2L964.7 854.7L953.2 854.7ZM959.5 841L965.3 851.6L953.8 851.6ZM960.1 837.5L965.8 848L954.3 848ZM960.6 841.1L966.4 851.6L954.9 851.6ZM961.2 836L966.9 846.6L955.4 846.6ZM961.7 843.4L967.5 854L956 854ZM962.3 843.9L968.1 854.5L956.6 854.5ZM962.9 835.2L968.6 845.8L957.1 845.8ZM963.4 838.7L969.2 849.3L957.7 849.3ZM964 837.1L969.7 847.7L958.2 847.7ZM964.5 842.5L970.3 853.1L958.8 853.1ZM965.1 837.5L970.8 848.1L959.3 848.1ZM965.6 839.2L971.4 849.8L959.9 849.8ZM966.2 838L971.9 848.6L960.4 848.6ZM966.7 839.9L972.5 850.5L961 850.5ZM967.3 836.3L973 846.9L961.5 846.9ZM967.8 842L973.6 852.6L962.1 852.6ZM968.4 843L974.1 853.5L962.6 853.5ZM969 844.5L974.7 855.1L963.2 855.1ZM969.5 836.5L975.3 847.1L963.8 847.1ZM970.1 842.3L975.8 852.9L964.3 852.9ZM970.6 843.2L976.4 853.8L964.9 853.8ZM971.2 842.9L976.9 853.5L965.4 853.5ZM971.7 841.4L977.5 852L966 852ZM972.3 843.9L978 854.5L966.5 854.5ZM972.8 841L978.6 851.5L967.1 851.5ZM973.4 842L979.1 852.6L967.6 852.6ZM973.9 841.8L979.7 852.3L968.2 852.3ZM974.5 843L980.2 853.6L968.7 853.6ZM975 840L980.8 850.6L969.3 850.6ZM975.6 841.5L981.3 852.1L969.8 852.1ZM976.2 839.8L981.9 850.3L970.4 850.3ZM976.7 839.3L982.5 849.9L971 849.9ZM977.3 839.1L983 849.7L971.5 849.7ZM977.8 846.8L983.6 857.3L972.1 857.3ZM978.4 841.7L984.1 852.3L972.6 852.3ZM978.9 842.5L984.7 853.1L973.2 853.1ZM979.5 837.7L985.2 848.3L973.7 848.3ZM980 844.9L985.8 855.5L974.3 855.5ZM980.6 842.2L986.3 852.8L974.8 852.8ZM981.1 840.9L986.9 851.5L975.4 851.5ZM981.7 841L987.4 851.6L975.9 851.6ZM982.2 837L988 847.6L976.5 847.6ZM982.8 841.3L988.6 851.9L977.1 851.9ZM983.4 837L989.1 847.6L977.6 847.6ZM983.9 844.3L989.7 854.9L978.2 854.9ZM984.5 845.3L990.2 855.9L978.7 855.9ZM985 836L990.8 846.6L979.3 846.6ZM985.6 838.3L991.3 848.9L979.8 848.9ZM986.1 838.1L991.9 848.7L980.4 848.7ZM986.7 839.1L992.4 849.7L980.9 849.7ZM987.2 837.9L993 848.5L981.5 848.5ZM987.8 842.9L993.5 853.5L982 853.5ZM988.3 836.2L994.1 846.8L982.6 846.8ZM988.9 840.5L994.6 851.1L983.1 851.1ZM989.4 835.7L995.2 846.3L983.7 846.3ZM990 838.3L995.8 848.9L984.3 848.9ZM990.6 844.3L996.3 854.9L984.8 854.9ZM991.1 842L996.9 852.6L985.4 852.6ZM991.7 834.4L997.4 845L985.9 845ZM992.2 838L998 848.5L986.5 848.5ZM992.8 838.4L998.5 849L987 849ZM993.3 836.1L999.1 846.7L987.6 846.7ZM993.9 837.8L999.6 848.4L988.1 848.4ZM994.4 837.8L1000.2 848.3L988.7 848.3ZM995 835.3L1000.7 845.9L989.2 845.9ZM995.5 834.7L1001.3 845.3L989.8 845.3ZM996.1 830.1L1001.8 840.6L990.3 840.6ZM996.7 834L1002.4 844.6L990.9 844.6ZM997.2 827.8L1003 838.4L991.5 838.4ZM997.8 827.4L1003.5 838L992 838ZM998.3 827L1004.1 837.6L992.6 837.6ZM998.9 828.2L1004.6 838.8L993.1 838.8ZM999.4 830.3L1005.2 840.9L993.7 840.9ZM1000 829.4L1005.7 840L994.2 840ZM1000.5 829.4L1006.3 840L994.8 840ZM1001.1 830.3L1006.8 840.8L995.3 840.8ZM1001.6 827.3L1007.4 837.8L995.9 837.8ZM1002.2 828L1007.9 838.5L996.4 838.5ZM1002.7 819.9L1008.5 830.5L997 830.5ZM1003.3 822.1L1009 832.7L997.5 832.7ZM1003.9 823.9L1009.6 834.5L998.1 834.5ZM1004.4 827.1L1010.2 837.6L998.7 837.6ZM1005 820L1010.7 830.6L999.2 830.6ZM1005.5 819.7L1011.3 830.3L999.8 830.3ZM1006.1 820.3L1011.8 830.9L1000.3 830.9ZM1006.6 818.9L1012.4 829.5L1000.9 829.5ZM1007.2 820.7L1012.9 831.3L1001.4 831.3ZM1007.7 810.5L1013.5 821.1L1002 821.1ZM1008.3 810.7L1014 821.3L1002.5 821.3ZM1008.8 800.9L1014.6 811.4L1003.1 811.4ZM1009.4 807L1015.1 817.5L1003.6 817.5ZM1009.9 805.4L1015.7 816L1004.2 816ZM1010.5 798.6L1016.3 809.2L1004.8 809.2ZM1011.1 800.6L1016.8 811.2L1005.3 811.2ZM1011.6 798.4L1017.4 809L1005.9 809ZM1012.2 798L1017.9 808.5L1006.4 808.5ZM1012.7 796.5L1018.5 807.1L1007 807.1ZM1013.3 787.9L1019 798.5L1007.5 798.5ZM1013.8 787.2L1019.6 797.8L1008.1 797.8ZM1014.4 782.8L1020.1 793.3L1008.6 793.3ZM1014.9 786.7L1020.7 797.3L1009.2 797.3ZM1015.5 783.2L1021.2 793.8L1009.7 793.8ZM1016 783.7L1021.8 794.3L1010.3 794.3ZM1016.6 775.7L1022.3 786.3L1010.8 786.3ZM1017.1 780.5L1022.9 791.1L1011.4 791.1ZM1017.7 772.1L1023.5 782.7L1012 782.7ZM1018.3 768.2L1024 778.7L1012.5 778.7ZM1018.8 764.8L1024.6 775.4L1013.1 775.4ZM1019.4 769.6L1025.1 780.2L1013.6 780.2ZM1019.9 761.1L1025.7 771.7L1014.2 771.7ZM1020.5 764.3L1026.2 774.8L1014.7 774.8ZM1021 762.1L1026.8 772.7L1015.3 772.7ZM1021.6 761.6L1027.3 772.2L1015.8 772.2ZM1022.1 751.9L1027.9 762.4L1016.4 762.4ZM1022.7 748.2L1028.4 758.8L1016.9 758.8ZM1023.2 752.9L1029 763.5L1017.5 763.5ZM1023.8 751.4L1029.5 762L1018 762ZM1024.4 748.2L1030.1 758.8L1018.6 758.8ZM1024.9 737.7L1030.7 748.2L1019.2 748.2ZM1025.5 740.5L1031.2 751L1019.7 751ZM1026 743.5L1031.8 754.1L1020.3 754.1ZM1026.6 745.7L1032.3 756.3L1020.8 756.3ZM1027.1 740.8L1032.9 751.4L1021.4 751.4ZM1027.7 733.7L1033.4 744.3L1021.9 744.3ZM1028.2 730.4L1034 741L1022.5 741ZM1028.8 735.7L1034.5 746.3L1023 746.3ZM1029.3 736L1035.1 746.6L1023.6 746.6ZM1029.9 734.5L1035.6 745.1L1024.1 745.1ZM1030.4 737.9L1036.2 748.5L1024.7 748.5ZM1031 728.8L1036.7 739.4L1025.2 739.4ZM1031.6 734.3L1037.3 744.9L1025.8 744.9ZM1032.1 727.4L1037.9 738L1026.4 738ZM1032.7 735.6L1038.4 746.2L1026.9 746.2ZM1033.2 734.2L1039 744.7L1027.5 744.7ZM1033.8 729.5L1039.5 740L1028 740ZM1034.3 732.8L1040.1 743.4L1028.6 743.4ZM1034.9 728.4L1040.6 739L1029.1 739ZM1035.4 731.2L1041.2 741.8L1029.7 741.8ZM1036 735.4L1041.7 746L1030.2 746ZM1036.5 730.7L1042.3 741.3L1030.8 741.3ZM1037.1 730.9L1042.8 741.4L1031.3 741.4ZM1037.6 740.2L1043.4 750.8L1031.9 750.8ZM1038.2 729.9L1044 740.5L1032.5 740.5ZM1038.8 735.2L1044.5 745.8L1033 745.8ZM1039.3 735.7L1045.1 746.3L1033.6 746.3ZM1039.9 745.2L1045.6 755.7L1034.1 755.7ZM1040.4 743.3L1046.2 753.8L1034.7 753.8ZM1041 743.8L1046.7 754.4L1035.2 754.4ZM1041.5 741.2L1047.3 751.8L1035.8 751.8ZM1042.1 750.8L1047.8 761.3L1036.3 761.3ZM1042.6 750.9L1048.4 761.5L1036.9 761.5ZM1043.2 756.4L1048.9 767L1037.4 767ZM1043.7 753.1L1049.5 763.7L1038 763.7ZM1044.3 753.4L1050 764L1038.5 764ZM1044.8 761.8L1050.6 772.4L1039.1 772.4ZM1045.4 760.8L1051.2 771.3L1039.7 771.3ZM1046 759.7L1051.7 770.3L1040.2 770.3ZM1046.5 758.8L1052.3 769.3L1040.8 769.3ZM1047.1 763.9L1052.8 774.5L1041.3 774.5ZM1047.6 769.3L1053.4 779.9L1041.9 779.9ZM1048.2 774.4L1053.9 784.9L1042.4 784.9ZM1048.7 776L1054.5 786.6L1043 786.6ZM1049.3 777.7L1055 788.2L1043.5 788.2ZM1049.8 777.6L1055.6 788.2L1044.1 788.2ZM1050.4 780.6L1056.1 791.2L1044.6 791.2ZM1050.9 777.8L1056.7 788.4L1045.2 788.4ZM1051.5 784.4L1057.2 795L1045.7 795ZM1052.1 791L1057.8 801.5L1046.3 801.5ZM1052.6 785.3L1058.4 795.9L1046.9 795.9ZM1053.2 789.5L1058.9 800.1L1047.4 800.1ZM1053.7 794.3L1059.5 804.9L1048 804.9ZM1054.3 799.1L1060 809.7L1048.5 809.7ZM1054.8 804.8L1060.6 815.4L1049.1 815.4ZM1055.4 804.4L1061.1 815L1049.6 815ZM1055.9 800.6L1061.7 811.2L1050.2 811.2ZM1056.5 807.9L1062.2 818.5L1050.7 818.5ZM1057 811.5L1062.8 822L1051.3 822ZM1057.6 808.8L1063.3 819.4L1051.8 819.4ZM1058.1 810.5L1063.9 821.1L1052.4 821.1ZM1058.7 811.3L1064.4 821.9L1052.9 821.9ZM1059.3 812.9L1065 823.5L1053.5 823.5ZM1059.8 812.3L1065.6 822.9L1054.1 822.9ZM1060.4 820.8L1066.1 831.4L1054.6 831.4ZM1060.9 816.9L1066.7 827.4L1055.2 827.4ZM1061.5 824.4L1067.2 834.9L1055.7 834.9ZM1062 820.7L1067.8 831.3L1056.3 831.3ZM1062.6 823.7L1068.3 834.3L1056.8 834.3ZM1063.1 824.8L1068.9 835.4L1057.4 835.4ZM1063.7 823.9L1069.4 834.5L1057.9 834.5ZM1064.2 828.1L1070 838.7L1058.5 838.7ZM1064.8 825.8L1070.5 836.4L1059 836.4ZM1065.3 827.7L1071.1 838.2L1059.6 838.2ZM1065.9 831L1071.7 841.5L1060.2 841.5ZM1066.5 834.1L1072.2 844.7L1060.7 844.7ZM1067 835.6L1072.8 846.2L1061.3 846.2ZM1067.6 835.8L1073.3 846.4L1061.8 846.4ZM1068.1 835.6L1073.9 846.2L1062.4 846.2ZM1068.7 835.9L1074.4 846.5L1062.9 846.5ZM1069.2 827.5L1075 838.1L1063.5 838.1ZM1069.8 835.3L1075.5 845.9L1064 845.9ZM1070.3 835.6L1076.1 846.1L1064.6 846.1ZM1070.9 841.1L1076.6 851.7L1065.1 851.7ZM1071.4 841.2L1077.2 851.8L1065.7 851.8ZM1072 840.6L1077.7 851.2L1066.2 851.2ZM1072.5 839.5L1078.3 850.1L1066.8 850.1ZM1073.1 843.7L1078.9 854.3L1067.4 854.3ZM1073.7 836.1L1079.4 846.7L1067.9 846.7ZM1074.2 843.1L1080 853.7L1068.5 853.7ZM1074.8 838.5L1080.5 849.1L1069 849.1ZM1075.3 849.2L1081.1 859.8L1069.6 859.8ZM1075.9 842.5L1081.6 853L1070.1 853ZM1076.4 841.9L1082.2 852.5L1070.7 852.5ZM1077 842.4L1082.7 853L1071.2 853ZM1077.5 841.4L1083.3 852L1071.8 852ZM1078.1 842.6L1083.8 853.2L1072.3 853.2ZM1078.6 843.2L1084.4 853.8L1072.9 853.8ZM1079.2 849.6L1084.9 860.2L1073.4 860.2ZM1079.8 846.2L1085.5 856.8L1074 856.8ZM1080.3 851.3L1086.1 861.9L1074.6 861.9ZM1080.9 842.5L1086.6 853L1075.1 853ZM1081.4 843.6L1087.2 854.1L1075.7 854.1ZM1082 845.2L1087.7 855.8L1076.2 855.8ZM1082.5 847.2L1088.3 857.8L1076.8 857.8ZM1083.1 846.6L1088.8 857.2L1077.3 857.2ZM1083.6 839.3L1089.4 849.9L1077.9 849.9ZM1084.2 839.7L1089.9 850.3L1078.4 850.3ZM1084.7 845.3L1090.5 855.8L1079 855.8ZM1085.3 841.2L1091 851.8L1079.5 851.8ZM1085.8 850L1091.6 860.6L1080.1 860.6ZM1086.4 851.2L1092.1 861.7L1080.6 861.7ZM1087 846.8L1092.7 857.4L1081.2 857.4ZM1087.5 848L1093.3 858.6L1081.8 858.6ZM1088.1 847.1L1093.8 857.7L1082.3 857.7ZM1088.6 844.9L1094.4 855.4L1082.9 855.4ZM1089.2 836.3L1094.9 846.8L1083.4 846.8ZM1089.7 847.5L1095.5 858.1L1084 858.1ZM1090.3 845.4L1096 856L1084.5 856ZM1090.8 844.7L1096.6 855.3L1085.1 855.3ZM1091.4 845.7L1097.1 856.3L1085.6 856.3ZM1091.9 842.8L1097.7 853.3L1086.2 853.3ZM1092.5 840.2L1098.2 850.8L1086.7 850.8ZM1093 849.4L1098.8 860L1087.3 860Z" fill="none" stroke="#0072BD" stroke-width="1.1"/>
<path d="M839 851.3a5.3 5.3 0 1 0 10.6 0a5.3 5.3 0 1 0 -10.6 0M840.5 851.9a5.3 5.3 0 1 0 10.6 0a5.3 5.3 0 1 0 -10.6 0M842 850.8a5.3 5.3 0 1 0 10.6 0a5.3 5.3 0 1 0 -10.6 0M843.6 853.9a5.3 5.3 0 1 0 10.6 0a5.3 5.3 0 1 0 -10.6 0M845.1 854.1a5.3 5.3 0 1 0 10.6 0a5.3 5.3 0 1 0 -10.6 0M846.6 854.9a5.3 5.3 0 1 0 10.6 0a5.3 5.3 0 1 0 -10.6 0M848.1 849.9a5.3 5.3 0 1 0 10.6 0a5.3 5.3 0 1 0 -10.6 0M849.7 850.2a5.3 5.3 0 1 0 10.6 0a5.3 5.3 0 1 0 -10.6 0M851.2 850a5.3 5.3 0 1 0 10.6 0a5.3 5.3 0 1 0 -10.6 0M852.7 853.7a5.3 5.3 0 1 0 10.6 0a5.3 5.3 0 1 0 -10.6 0M854.2 849.7a5.3 5.3 0 1 0 10.6 0a5.3 5.3 0 1 0 -10.6 0M855.8 849.6a5.3 5.3 0 1 0 10.6 0a5.3 5.3 0 1 0 -10.6 0M857.3 849.9a5.3 5.3 0 1 0 10.6 0a5.3 5.3 0 1 0 -10.6 0M858.8 847.9a5.3 5.3 0 1 0 10.6 0a5.3 5.3 0 1 0 -10.6 0M860.3 843.9a5.3 5.3 0 1 0 10.6 0a5.3 5.3 0 1 0 -10.6 0M861.9 842.5a5.3 5.3 0 1 0 10.6 0a5.3 5.3 0 1 0 -10.6 0M863.4 841.6a5.3 5.3 0 1 0 10.6 0a5.3 5.3 0 1 0 -10.6 0M864.9 838.4a5.3 5.3 0 1 0 10.6 0a5.3 5.3 0 1 0 -10.6 0M866.4 837.7a5.3 5.3 0 1 0 10.6 0a5.3 5.3 0 1 0 -10.6 0M867.9 833.5a5.3 5.3 0 1 0 10.6 0a5.3 5.3 0 1 0 -10.6 0M869.5 830.1a5.3 5.3 0 1 0 10.6 0a5.3 5.3 0 1 0 -10.6 0M871 825.3a5.3 5.3 0 1 0 10.6 0a5.3 5.3 0 1 0 -10.6 0M872.5 822a5.3 5.3 0 1 0 10.6 0a5.3 5.3 0 1 0 -10.6 0M874 817.3a5.3 5.3 0 1 0 10.6 0a5.3 5.3 0 1 0 -10.6 0M875.6 812a5.3 5.3 0 1 0 10.6 0a5.3 5.3 0 1 0 -10.6 0M877.1 807.2a5.3 5.3 0 1 0 10.6 0a5.3 5.3 0 1 0 -10.6 0M878.6 796.4a5.3 5.3 0 1 0 10.6 0a5.3 5.3 0 1 0 -10.6 0M880.1 793.1a5.3 5.3 0 1 0 10.6 0a5.3 5.3 0 1 0 -10.6 0M881.7 786.8a5.3 5.3 0 1 0 10.6 0a5.3 5.3 0 1 0 -10.6 0M883.2 777.2a5.3 5.3 0 1 0 10.6 0a5.3 5.3 0 1 0 -10.6 0M884.7 772.3a5.3 5.3 0 1 0 10.6 0a5.3 5.3 0 1 0 -10.6 0M886.2 771.1a5.3 5.3 0 1 0 10.6 0a5.3 5.3 0 1 0 -10.6 0M887.8 761.3a5.3 5.3 0 1 0 10.6 0a5.3 5.3 0 1 0 -10.6 0M889.3 755.6a5.3 5.3 0 1 0 10.6 0a5.3 5.3 0 1 0 -10.6 0M890.8 748.9a5.3 5.3 0 1 0 10.6 0a5.3 5.3 0 1 0 -10.6 0M892.3 745.6a5.3 5.3 0 1 0 10.6 0a5.3 5.3 0 1 0 -10.6 0M893.8 743.1a5.3 5.3 0 1 0 10.6 0a5.3 5.3 0 1 0 -10.6 0M895.4 743.8a5.3 5.3 0 1 0 10.6 0a5.3 5.3 0 1 0 -10.6 0M896.9 741.7a5.3 5.3 0 1 0 10.6 0a5.3 5.3 0 1 0 -10.6 0M898.4 739.1a5.3 5.3 0 1 0 10.6 0a5.3 5.3 0 1 0 -10.6 0M899.9 739.2a5.3 5.3 0 1 0 10.6 0a5.3 5.3 0 1 0 -10.6 0M901.5 743.2a5.3 5.3 0 1 0 10.6 0a5.3 5.3 0 1 0 -10.6 0M903 744.5a5.3 5.3 0 1 0 10.6 0a5.3 5.3 0 1 0 -10.6 0M904.5 747.8a5.3 5.3 0 1 0 10.6 0a5.3 5.3 0 1 0 -10.6 0M906 751.1a5.3 5.3 0 1 0 10.6 0a5.3 5.3 0 1 0 -10.6 0M907.6 755.5a5.3 5.3 0 1 0 10.6 0a5.3 5.3 0 1 0 -10.6 0M909.1 762a5.3 5.3 0 1 0 10.6 0a5.3 5.3 0 1 0 -10.6 0M910.6 769.5a5.3 5.3 0 1 0 10.6 0a5.3 5.3 0 1 0 -10.6 0M912.1 771.5a5.3 5.3 0 1 0 10.6 0a5.3 5.3 0 1 0 -10.6 0M913.7 777.3a5.3 5.3 0 1 0 10.6 0a5.3 5.3 0 1 0 -10.6 0M915.2 786.7a5.3 5.3 0 1 0 10.6 0a5.3 5.3 0 1 0 -10.6 0M916.7 791.3a5.3 5.3 0 1 0 10.6 0a5.3 5.3 0 1 0 -10.6 0M918.2 798.5a5.3 5.3 0 1 0 10.6 0a5.3 5.3 0 1 0 -10.6 0M919.7 804.2a5.3 5.3 0 1 0 10.6 0a5.3 5.3 0 1 0 -10.6 0M921.3 810.3a5.3 5.3 0 1 0 10.6 0a5.3 5.3 0 1 0 -10.6 0M922.8 817.7a5.3 5.3 0 1 0 10.6 0a5.3 5.3 0 1 0 -10.6 0M924.3 820.4a5.3 5.3 0 1 0 10.6 0a5.3 5.3 0 1 0 -10.6 0M925.8 824.2a5.3 5.3 0 1 0 10.6 0a5.3 5.3 0 1 0 -10.6 0M927.4 831.5a5.3 5.3 0 1 0 10.6 0a5.3 5.3 0 1 0 -10.6 0M928.9 830.3a5.3 5.3 0 1 0 10.6 0a5.3 5.3 0 1 0 -10.6 0M930.4 833.2a5.3 5.3 0 1 0 10.6 0a5.3 5.3 0 1 0 -10.6 0M931.9 836.5a5.3 5.3 0 1 0 10.6 0a5.3 5.3 0 1 0 -10.6 0M933.5 838.6a5.3 5.3 0 1 0 10.6 0a5.3 5.3 0 1 0 -10.6 0M935 842.7a5.3 5.3 0 1 0 10.6 0a5.3 5.3 0 1 0 -10.6 0M936.5 846.2a5.3 5.3 0 1 0 10.6 0a5.3 5.3 0 1 0 -10.6 0M938 848.1a5.3 5.3 0 1 0 10.6 0a5.3 5.3 0 1 0 -10.6 0M939.6 849.7a5.3 5.3 0 1 0 10.6 0a5.3 5.3 0 1 0 -10.6 0M941.1 849.1a5.3 5.3 0 1 0 10.6 0a5.3 5.3 0 1 0 -10.6 0M942.6 850.1a5.3 5.3 0 1 0 10.6 0a5.3 5.3 0 1 0 -10.6 0M944.1 849.6a5.3 5.3 0 1 0 10.6 0a5.3 5.3 0 1 0 -10.6 0M945.6 854.6a5.3 5.3 0 1 0 10.6 0a5.3 5.3 0 1 0 -10.6 0M947.2 847.7a5.3 5.3 0 1 0 10.6 0a5.3 5.3 0 1 0 -10.6 0M948.7 848.1a5.3 5.3 0 1 0 10.6 0a5.3 5.3 0 1 0 -10.6 0M950.2 852.2a5.3 5.3 0 1 0 10.6 0a5.3 5.3 0 1 0 -10.6 0M951.7 851.2a5.3 5.3 0 1 0 10.6 0a5.3 5.3 0 1 0 -10.6 0M953.3 851.7a5.3 5.3 0 1 0 10.6 0a5.3 5.3 0 1 0 -10.6 0M954.8 852.2a5.3 5.3 0 1 0 10.6 0a5.3 5.3 0 1 0 -10.6 0M956.3 853a5.3 5.3 0 1 0 10.6 0a5.3 5.3 0 1 0 -10.6 0M957.8 852.9a5.3 5.3 0 1 0 10.6 0a5.3 5.3 0 1 0 -10.6 0M959.4 854.2a5.3 5.3 0 1 0 10.6 0a5.3 5.3 0 1 0 -10.6 0M960.9 852.5a5.3 5.3 0 1 0 10.6 0a5.3 5.3 0 1 0 -10.6 0M962.4 852.8a5.3 5.3 0 1 0 10.6 0a5.3 5.3 0 1 0 -10.6 0M963.9 852.2a5.3 5.3 0 1 0 10.6 0a5.3 5.3 0 1 0 -10.6 0M965.5 854.1a5.3 5.3 0 1 0 10.6 0a5.3 5.3 0 1 0 -10.6 0M967 852.5a5.3 5.3 0 1 0 10.6 0a5.3 5.3 0 1 0 -10.6 0M968.5 852.4a5.3 5.3 0 1 0 10.6 0a5.3 5.3 0 1 0 -10.6 0M970 851.3a5.3 5.3 0 1 0 10.6 0a5.3 5.3 0 1 0 -10.6 0M971.5 854a5.3 5.3 0 1 0 10.6 0a5.3 5.3 0 1 0 -10.6 0M973.1 851.3a5.3 5.3 0 1 0 10.6 0a5.3 5.3 0 1 0 -10.6 0M974.6 850.1a5.3 5.3 0 1 0 10.6 0a5.3 5.3 0 1 0 -10.6 0M976.1 850.4a5.3 5.3 0 1 0 10.6 0a5.3 5.3 0 1 0 -10.6 0M977.6 851.6a5.3 5.3 0 1 0 10.6 0a5.3 5.3 0 1 0 -10.6 0M979.2 851.3a5.3 5.3 0 1 0 10.6 0a5.3 5.3 0 1 0 -10.6 0M980.7 850.2a5.3 5.3 0 1 0 10.6 0a5.3 5.3 0 1 0 -10.6 0M982.2 847.8a5.3 5.3 0 1 0 10.6 0a5.3 5.3 0 1 0 -10.6 0M983.7 845.5a5.3 5.3 0 1 0 10.6 0a5.3 5.3 0 1 0 -10.6 0M985.3 847.3a5.3 5.3 0 1 0 10.6 0a5.3 5.3 0 1 0 -10.6 0M986.8 846.7a5.3 5.3 0 1 0 10.6 0a5.3 5.3 0 1 0 -10.6 0M988.3 843.4a5.3 5.3 0 1 0 10.6 0a5.3 5.3 0 1 0 -10.6 0M989.8 841.7a5.3 5.3 0 1 0 10.6 0a5.3 5.3 0 1 0 -10.6 0M991.3 841.4a5.3 5.3 0 1 0 10.6 0a5.3 5.3 0 1 0 -10.6 0M992.9 838.5a5.3 5.3 0 1 0 10.6 0a5.3 5.3 0 1 0 -10.6 0M994.4 834.5a5.3 5.3 0 1 0 10.6 0a5.3 5.3 0 1 0 -10.6 0M995.9 829.8a5.3 5.3 0 1 0 10.6 0a5.3 5.3 0 1 0 -10.6 0M997.4 829.3a5.3 5.3 0 1 0 10.6 0a5.3 5.3 0 1 0 -10.6 0M999 824.8a5.3 5.3 0 1 0 10.6 0a5.3 5.3 0 1 0 -10.6 0M1000.5 817.7a5.3 5.3 0 1 0 10.6 0a5.3 5.3 0 1 0 -10.6 0M1002 815.7a5.3 5.3 0 1 0 10.6 0a5.3 5.3 0 1 0 -10.6 0M1003.5 808.2a5.3 5.3 0 1 0 10.6 0a5.3 5.3 0 1 0 -10.6 0M1005.1 802.3a5.3 5.3 0 1 0 10.6 0a5.3 5.3 0 1 0 -10.6 0M1006.6 797.4a5.3 5.3 0 1 0 10.6 0a5.3 5.3 0 1 0 -10.6 0M1008.1 793.1a5.3 5.3 0 1 0 10.6 0a5.3 5.3 0 1 0 -10.6 0M1009.6 785.6a5.3 5.3 0 1 0 10.6 0a5.3 5.3 0 1 0 -10.6 0M1011.2 780.3a5.3 5.3 0 1 0 10.6 0a5.3 5.3 0 1 0 -10.6 0M1012.7 773.6a5.3 5.3 0 1 0 10.6 0a5.3 5.3 0 1 0 -10.6 0M1014.2 770.3a5.3 5.3 0 1 0 10.6 0a5.3 5.3 0 1 0 -10.6 0M1015.7 762.2a5.3 5.3 0 1 0 10.6 0a5.3 5.3 0 1 0 -10.6 0M1017.2 762.6a5.3 5.3 0 1 0 10.6 0a5.3 5.3 0 1 0 -10.6 0M1018.8 756.5a5.3 5.3 0 1 0 10.6 0a5.3 5.3 0 1 0 -10.6 0M1020.3 753.3a5.3 5.3 0 1 0 10.6 0a5.3 5.3 0 1 0 -10.6 0M1021.8 749.6a5.3 5.3 0 1 0 10.6 0a5.3 5.3 0 1 0 -10.6 0M1023.3 751.1a5.3 5.3 0 1 0 10.6 0a5.3 5.3 0 1 0 -10.6 0M1024.9 748.8a5.3 5.3 0 1 0 10.6 0a5.3 5.3 0 1 0 -10.6 0M1026.4 751.3a5.3 5.3 0 1 0 10.6 0a5.3 5.3 0 1 0 -10.6 0M1027.9 750.6a5.3 5.3 0 1 0 10.6 0a5.3 5.3 0 1 0 -10.6 0M1029.4 751.3a5.3 5.3 0 1 0 10.6 0a5.3 5.3 0 1 0 -10.6 0M1031 758a5.3 5.3 0 1 0 10.6 0a5.3 5.3 0 1 0 -10.6 0M1032.5 760.5a5.3 5.3 0 1 0 10.6 0a5.3 5.3 0 1 0 -10.6 0M1034 767.2a5.3 5.3 0 1 0 10.6 0a5.3 5.3 0 1 0 -10.6 0M1035.5 768.9a5.3 5.3 0 1 0 10.6 0a5.3 5.3 0 1 0 -10.6 0M1037.1 773.8a5.3 5.3 0 1 0 10.6 0a5.3 5.3 0 1 0 -10.6 0M1038.6 781.4a5.3 5.3 0 1 0 10.6 0a5.3 5.3 0 1 0 -10.6 0M1040.1 789a5.3 5.3 0 1 0 10.6 0a5.3 5.3 0 1 0 -10.6 0M1041.6 792.1a5.3 5.3 0 1 0 10.6 0a5.3 5.3 0 1 0 -10.6 0M1043.1 796.5a5.3 5.3 0 1 0 10.6 0a5.3 5.3 0 1 0 -10.6 0M1044.7 802.1a5.3 5.3 0 1 0 10.6 0a5.3 5.3 0 1 0 -10.6 0M1046.2 807.8a5.3 5.3 0 1 0 10.6 0a5.3 5.3 0 1 0 -10.6 0M1047.7 817.2a5.3 5.3 0 1 0 10.6 0a5.3 5.3 0 1 0 -10.6 0M1049.2 819.8a5.3 5.3 0 1 0 10.6 0a5.3 5.3 0 1 0 -10.6 0M1050.8 820.4a5.3 5.3 0 1 0 10.6 0a5.3 5.3 0 1 0 -10.6 0M1052.3 828.7a5.3 5.3 0 1 0 10.6 0a5.3 5.3 0 1 0 -10.6 0M1053.8 828.1a5.3 5.3 0 1 0 10.6 0a5.3 5.3 0 1 0 -10.6 0M1055.3 829.8a5.3 5.3 0 1 0 10.6 0a5.3 5.3 0 1 0 -10.6 0M1056.9 834.3a5.3 5.3 0 1 0 10.6 0a5.3 5.3 0 1 0 -10.6 0M1058.4 836a5.3 5.3 0 1 0 10.6 0a5.3 5.3 0 1 0 -10.6 0M1059.9 840.4a5.3 5.3 0 1 0 10.6 0a5.3 5.3 0 1 0 -10.6 0M1061.4 843.5a5.3 5.3 0 1 0 10.6 0a5.3 5.3 0 1 0 -10.6 0M1063 842.9a5.3 5.3 0 1 0 10.6 0a5.3 5.3 0 1 0 -10.6 0M1064.5 844.2a5.3 5.3 0 1 0 10.6 0a5.3 5.3 0 1 0 -10.6 0M1066 844.9a5.3 5.3 0 1 0 10.6 0a5.3 5.3 0 1 0 -10.6 0M1067.5 844.3a5.3 5.3 0 1 0 10.6 0a5.3 5.3 0 1 0 -10.6 0M1069 846.3a5.3 5.3 0 1 0 10.6 0a5.3 5.3 0 1 0 -10.6 0M1070.6 846.2a5.3 5.3 0 1 0 10.6 0a5.3 5.3 0 1 0 -10.6 0M1072.1 846.2a5.3 5.3 0 1 0 10.6 0a5.3 5.3 0 1 0 -10.6 0M1073.6 847.1a5.3 5.3 0 1 0 10.6 0a5.3 5.3 0 1 0 -10.6 0M1075.1 844.2a5.3 5.3 0 1 0 10.6 0a5.3 5.3 0 1 0 -10.6 0M1076.7 846.7a5.3 5.3 0 1 0 10.6 0a5.3 5.3 0 1 0 -10.6 0M1078.2 847.4a5.3 5.3 0 1 0 10.6 0a5.3 5.3 0 1 0 -10.6 0M1079.7 848a5.3 5.3 0 1 0 10.6 0a5.3 5.3 0 1 0 -10.6 0M1081.2 848.8a5.3 5.3 0 1 0 10.6 0a5.3 5.3 0 1 0 -10.6 0M1082.8 845.5a5.3 5.3 0 1 0 10.6 0a5.3 5.3 0 1 0 -10.6 0M1084.3 847.5a5.3 5.3 0 1 0 10.6 0a5.3 5.3 0 1 0 -10.6 0M1085.8 849.6a5.3 5.3 0 1 0 10.6 0a5.3 5.3 0 1 0 -10.6 0M1087.3 848.7a5.3 5.3 0 1 0 10.6 0a5.3 5.3 0 1 0 -10.6 0" fill="none" stroke="#D95319" stroke-width="1.0"/>
<path d="M844.3 722.7H1093.6 M844.3 891.7H1093.6" stroke="#262626" stroke-width="1.5" fill="none"/>
<path d="M844.3 722.7V891.7" stroke="#0072BD" stroke-width="1.2"/>
<path d="M1093.6 722.7V891.7" stroke="#D95319" stroke-width="1.2"/>
<path d="M906.6 891.7V887.7M906.6 722.7V726.7M1031.3 891.7V887.7M1031.3 722.7V726.7" stroke="#262626" stroke-width="1.2"/>
<path d="M844.3 891.7H848.3M844.3 807.2H848.3M844.3 722.7H848.3" stroke="#0072BD" stroke-width="1.2"/>
<path d="M1093.6 891.7H1089.6M1093.6 835.4H1089.6M1093.6 779H1089.6M1093.6 722.7H1089.6" stroke="#D95319" stroke-width="1.2"/>
<text x="832.3" y="904.5" font-size="35" fill="#0072BD" text-anchor="end">0</text>
<text x="832.3" y="820" font-size="35" fill="#0072BD" text-anchor="end">0.55</text>
<text x="832.3" y="735.5" font-size="35" fill="#0072BD" text-anchor="end">1.1</text>
<text x="1105.3" y="904.5" font-size="35" fill="#D95319">0</text>
<text x="1105.3" y="848.2" font-size="35" fill="#D95319">10</text>
<text x="1105.3" y="791.8" font-size="35" fill="#D95319">20</text>
<text x="1105.3" y="735.5" font-size="35" fill="#D95319">30</text>
<text x="906.6" y="934.7" font-size="35" fill="#262626" text-anchor="middle">90</text>
<text x="1031.3" y="934.7" font-size="35" fill="#262626" text-anchor="middle">270</text>
<text x="841.2" y="705" font-size="35" fill="#0072BD">×10<tspan dx="-1" dy="-11.6" font-size="23">4</tspan></text>
<text x="968.9" y="715" font-size="41.5" fill="#000" text-anchor="middle">iii</text>
<text x="968.9" y="977.7" font-size="36.5" fill="#262626" text-anchor="middle"><tspan font-style="italic">θ</tspan> [deg.]</text>
<text transform="translate(754.2 812.2) rotate(-90)" font-size="36" fill="#0072BD" text-anchor="middle">I [cm<tspan dx="1.5" dy="-10.9" font-size="22.5">-1</tspan><tspan dx="2" dy="10.9">]</tspan></text>
<text transform="translate(1193.9 807.7) rotate(-90)" font-size="36" fill="#D95319" text-anchor="middle">I [cm<tspan dx="1.5" dy="-10.9" font-size="22.5">-1</tspan><tspan dx="2" dy="10.9">]</tspan></text>
<path d="M906.6 1040V1209M968.9 1040V1209M1031.3 1040V1209" stroke="#BDBDBD" stroke-width="1" fill="none"/>
<path d="M844.3 1124.5H1093.6" stroke="#CFE2F1" stroke-width="1" fill="none"/>
<path d="M844.3 1152.7H1093.6M844.3 1096.3H1093.6" stroke="#F6D3C4" stroke-width="1" fill="none"/>
<path d="M844.3 1162.8L850 1173.4L838.5 1173.4ZM844.9 1163.9L850.6 1174.5L839.1 1174.5ZM845.4 1158.7L851.2 1169.3L839.7 1169.3ZM846 1166.3L851.7 1176.8L840.2 1176.8ZM846.5 1160.7L852.3 1171.2L840.8 1171.2ZM847.1 1161.8L852.8 1172.4L841.3 1172.4ZM847.6 1166.3L853.4 1176.8L841.9 1176.8ZM848.2 1162.1L853.9 1172.7L842.4 1172.7ZM848.7 1162.5L854.5 1173.1L843 1173.1ZM849.3 1160.5L855 1171.1L843.5 1171.1ZM849.8 1163.7L855.6 1174.3L844.1 1174.3ZM850.4 1161.1L856.1 1171.7L844.6 1171.7ZM850.9 1167.7L856.7 1178.3L845.2 1178.3ZM851.5 1165.7L857.3 1176.3L845.8 1176.3ZM852.1 1159.3L857.8 1169.9L846.3 1169.9ZM852.6 1158.4L858.4 1169L846.9 1169ZM853.2 1161.9L858.9 1172.5L847.4 1172.5ZM853.7 1163.8L859.5 1174.4L848 1174.4ZM854.3 1158.1L860 1168.6L848.5 1168.6ZM854.8 1168.7L860.6 1179.3L849.1 1179.3ZM855.4 1164.2L861.1 1174.8L849.6 1174.8ZM855.9 1159.2L861.7 1169.8L850.2 1169.8ZM856.5 1159.1L862.2 1169.7L850.7 1169.7ZM857 1164.7L862.8 1175.3L851.3 1175.3ZM857.6 1167.5L863.3 1178.1L851.8 1178.1ZM858.1 1156.1L863.9 1166.6L852.4 1166.6ZM858.7 1160.3L864.5 1170.9L853 1170.9ZM859.3 1163.7L865 1174.3L853.5 1174.3ZM859.8 1160.3L865.6 1170.9L854.1 1170.9ZM860.4 1157.2L866.1 1167.8L854.6 1167.8ZM860.9 1168.9L866.7 1179.4L855.2 1179.4ZM861.5 1156.1L867.2 1166.7L855.7 1166.7ZM862 1157.1L867.8 1167.7L856.3 1167.7ZM862.6 1166.4L868.3 1177L856.8 1177ZM863.1 1156.5L868.9 1167.1L857.4 1167.1ZM863.7 1164.9L869.4 1175.4L857.9 1175.4ZM864.2 1154.7L870 1165.3L858.5 1165.3ZM864.8 1156.9L870.5 1167.4L859 1167.4ZM865.4 1150.2L871.1 1160.8L859.6 1160.8ZM865.9 1159.5L871.7 1170.1L860.2 1170.1ZM866.5 1157.1L872.2 1167.6L860.7 1167.6ZM867 1153.1L872.8 1163.7L861.3 1163.7ZM867.6 1158.4L873.3 1168.9L861.8 1168.9ZM868.1 1158.1L873.9 1168.7L862.4 1168.7ZM868.7 1156.5L874.4 1167L862.9 1167ZM869.2 1154.9L875 1165.5L863.5 1165.5ZM869.8 1157.7L875.5 1168.3L864 1168.3ZM870.3 1151.8L876.1 1162.4L864.6 1162.4ZM870.9 1151L876.6 1161.6L865.1 1161.6ZM871.4 1151.9L877.2 1162.5L865.7 1162.5ZM872 1145.7L877.7 1156.3L866.2 1156.3ZM872.6 1151.8L878.3 1162.4L866.8 1162.4ZM873.1 1145.5L878.9 1156.1L867.4 1156.1ZM873.7 1151L879.4 1161.5L867.9 1161.5ZM874.2 1145.7L880 1156.3L868.5 1156.3ZM874.8 1153.9L880.5 1164.5L869 1164.5ZM875.3 1145.7L881.1 1156.3L869.6 1156.3ZM875.9 1146L881.6 1156.6L870.1 1156.6ZM876.4 1146L882.2 1156.6L870.7 1156.6ZM877 1145.4L882.7 1155.9L871.2 1155.9ZM877.5 1143.4L883.3 1153.9L871.8 1153.9ZM878.1 1143.5L883.8 1154L872.3 1154ZM878.6 1147.2L884.4 1157.8L872.9 1157.8ZM879.2 1140.6L885 1151.2L873.5 1151.2ZM879.8 1139.1L885.5 1149.7L874 1149.7ZM880.3 1137.7L886.1 1148.3L874.6 1148.3ZM880.9 1138.1L886.6 1148.7L875.1 1148.7ZM881.4 1133.6L887.2 1144.2L875.7 1144.2ZM882 1129L887.7 1139.6L876.2 1139.6ZM882.5 1131L888.3 1141.6L876.8 1141.6ZM883.1 1130.3L888.8 1140.8L877.3 1140.8ZM883.6 1122.4L889.4 1133L877.9 1133ZM884.2 1122.1L889.9 1132.6L878.4 1132.6ZM884.7 1120.6L890.5 1131.2L879 1131.2ZM885.3 1118.1L891 1128.7L879.5 1128.7ZM885.8 1121.3L891.6 1131.9L880.1 1131.9ZM886.4 1118.9L892.2 1129.5L880.7 1129.5ZM887 1112.9L892.7 1123.5L881.2 1123.5ZM887.5 1116.7L893.3 1127.3L881.8 1127.3ZM888.1 1113.4L893.8 1124L882.3 1124ZM888.6 1109.8L894.4 1120.4L882.9 1120.4ZM889.2 1107.9L894.9 1118.5L883.4 1118.5ZM889.7 1108.2L895.5 1118.8L884 1118.8ZM890.3 1102L896 1112.6L884.5 1112.6ZM890.8 1104L896.6 1114.6L885.1 1114.6ZM891.4 1099L897.1 1109.6L885.6 1109.6ZM891.9 1095.9L897.7 1106.4L886.2 1106.4ZM892.5 1095.3L898.2 1105.9L886.7 1105.9ZM893.1 1093.1L898.8 1103.7L887.3 1103.7ZM893.6 1097.5L899.4 1108.1L887.9 1108.1ZM894.2 1096.1L899.9 1106.7L888.4 1106.7ZM894.7 1091.8L900.5 1102.4L889 1102.4ZM895.3 1086.2L901 1096.8L889.5 1096.8ZM895.8 1080.9L901.6 1091.5L890.1 1091.5ZM896.4 1088.2L902.1 1098.8L890.6 1098.8ZM896.9 1081.2L902.7 1091.8L891.2 1091.8ZM897.5 1083.4L903.2 1094L891.7 1094ZM898 1081.2L903.8 1091.8L892.3 1091.8ZM898.6 1078L904.3 1088.6L892.8 1088.6ZM899.1 1073L904.9 1083.6L893.4 1083.6ZM899.7 1073.1L905.4 1083.6L893.9 1083.6ZM900.3 1068.2L906 1078.8L894.5 1078.8ZM900.8 1074.1L906.6 1084.7L895.1 1084.7ZM901.4 1066.3L907.1 1076.9L895.6 1076.9ZM901.9 1064.8L907.7 1075.4L896.2 1075.4ZM902.5 1066.5L908.2 1077L896.7 1077ZM903 1063.9L908.8 1074.4L897.3 1074.4ZM903.6 1066.3L909.3 1076.8L897.8 1076.8ZM904.1 1067L909.9 1077.6L898.4 1077.6ZM904.7 1063.7L910.4 1074.3L898.9 1074.3ZM905.2 1063.6L911 1074.2L899.5 1074.2ZM905.8 1050.9L911.5 1061.5L900 1061.5ZM906.3 1061.6L912.1 1072.2L900.6 1072.2ZM906.9 1053.8L912.7 1064.4L901.2 1064.4ZM907.5 1058.2L913.2 1068.7L901.7 1068.7ZM908 1057.4L913.8 1068L902.3 1068ZM908.6 1055.6L914.3 1066.2L902.8 1066.2ZM909.1 1060.5L914.9 1071.1L903.4 1071.1ZM909.7 1054.7L915.4 1065.2L903.9 1065.2ZM910.2 1056.5L916 1067L904.5 1067ZM910.8 1062.9L916.5 1073.5L905 1073.5ZM911.3 1056L917.1 1066.5L905.6 1066.5ZM911.9 1056.4L917.6 1067L906.1 1067ZM912.4 1057.1L918.2 1067.7L906.7 1067.7ZM913 1053.7L918.7 1064.3L907.2 1064.3ZM913.5 1061L919.3 1071.6L907.8 1071.6ZM914.1 1058.6L919.9 1069.1L908.4 1069.1ZM914.7 1058.5L920.4 1069.1L908.9 1069.1ZM915.2 1064.9L921 1075.5L909.5 1075.5ZM915.8 1058.7L921.5 1069.3L910 1069.3ZM916.3 1068.7L922.1 1079.3L910.6 1079.3ZM916.9 1069.2L922.6 1079.8L911.1 1079.8ZM917.4 1064.2L923.2 1074.8L911.7 1074.8ZM918 1070.9L923.7 1081.5L912.2 1081.5ZM918.5 1068.9L924.3 1079.5L912.8 1079.5ZM919.1 1075.5L924.8 1086.1L913.3 1086.1ZM919.6 1071.1L925.4 1081.7L913.9 1081.7ZM920.2 1076.7L925.9 1087.3L914.4 1087.3ZM920.8 1073.2L926.5 1083.8L915 1083.8ZM921.3 1081.2L927.1 1091.7L915.6 1091.7ZM921.9 1076.1L927.6 1086.7L916.1 1086.7ZM922.4 1080.2L928.2 1090.8L916.7 1090.8ZM923 1080.8L928.7 1091.4L917.2 1091.4ZM923.5 1083.1L929.3 1093.6L917.8 1093.6ZM924.1 1084.2L929.8 1094.8L918.3 1094.8ZM924.6 1090.9L930.4 1101.5L918.9 1101.5ZM925.2 1097L930.9 1107.5L919.4 1107.5ZM925.7 1090L931.5 1100.6L920 1100.6ZM926.3 1095.2L932 1105.8L920.5 1105.8ZM926.8 1095.5L932.6 1106L921.1 1106ZM927.4 1094.4L933.1 1105L921.6 1105ZM928 1104.4L933.7 1115L922.2 1115ZM928.5 1102.2L934.3 1112.8L922.8 1112.8ZM929.1 1103.6L934.8 1114.2L923.3 1114.2ZM929.6 1107L935.4 1117.6L923.9 1117.6ZM930.2 1104.2L935.9 1114.7L924.4 1114.7ZM930.7 1107.6L936.5 1118.2L925 1118.2ZM931.3 1111.7L937 1122.3L925.5 1122.3ZM931.8 1114.1L937.6 1124.7L926.1 1124.7ZM932.4 1109.8L938.1 1120.4L926.6 1120.4ZM932.9 1116.6L938.7 1127.2L927.2 1127.2ZM933.5 1114.1L939.2 1124.7L927.7 1124.7ZM934 1116.3L939.8 1126.9L928.3 1126.9ZM934.6 1125.9L940.4 1136.4L928.9 1136.4ZM935.2 1124.8L940.9 1135.4L929.4 1135.4ZM935.7 1122.7L941.5 1133.3L930 1133.3ZM936.3 1123.1L942 1133.7L930.5 1133.7ZM936.8 1123.2L942.6 1133.8L931.1 1133.8ZM937.4 1124.6L943.1 1135.2L931.6 1135.2ZM937.9 1125.2L943.7 1135.8L932.2 1135.8ZM938.5 1131.4L944.2 1142L932.7 1142ZM939 1132.2L944.8 1142.8L933.3 1142.8ZM939.6 1130.2L945.3 1140.8L933.8 1140.8ZM940.1 1135.5L945.9 1146.1L934.4 1146.1ZM940.7 1131.7L946.4 1142.3L934.9 1142.3ZM941.2 1141.9L947 1152.5L935.5 1152.5ZM941.8 1135.4L947.6 1146L936.1 1146ZM942.4 1139.3L948.1 1149.9L936.6 1149.9ZM942.9 1146.4L948.7 1157L937.2 1157ZM943.5 1137.5L949.2 1148.1L937.7 1148.1ZM944 1140.7L949.8 1151.3L938.3 1151.3ZM944.6 1142.6L950.3 1153.2L938.8 1153.2ZM945.1 1147.2L950.9 1157.8L939.4 1157.8ZM945.7 1146L951.4 1156.6L939.9 1156.6ZM946.2 1140.1L952 1150.7L940.5 1150.7ZM946.8 1148.8L952.5 1159.4L941 1159.4ZM947.3 1158.4L953.1 1169L941.6 1169ZM947.9 1150.3L953.6 1160.9L942.1 1160.9ZM948.5 1152.1L954.2 1162.7L942.7 1162.7ZM949 1149.1L954.8 1159.7L943.3 1159.7ZM949.6 1150.6L955.3 1161.2L943.8 1161.2ZM950.1 1152.9L955.9 1163.5L944.4 1163.5ZM950.7 1153.2L956.4 1163.8L944.9 1163.8ZM951.2 1147.3L957 1157.9L945.5 1157.9ZM951.8 1156.2L957.5 1166.7L946 1166.7ZM952.3 1145.1L958.1 1155.7L946.6 1155.7ZM952.9 1154L958.6 1164.5L947.1 1164.5ZM953.4 1156.2L959.2 1166.8L947.7 1166.8ZM954 1150.2L959.7 1160.8L948.2 1160.8ZM954.5 1151.3L960.3 1161.9L948.8 1161.9ZM955.1 1157L960.9 1167.6L949.4 1167.6ZM955.7 1151.3L961.4 1161.8L949.9 1161.8ZM956.2 1160.3L962 1170.9L950.5 1170.9ZM956.8 1157.4L962.5 1168L951 1168ZM957.3 1150.7L963.1 1161.3L951.6 1161.3ZM957.9 1155.6L963.6 1166.2L952.1 1166.2ZM958.4 1159.4L964.2 1169.9L952.7 1169.9ZM959 1153.4L964.7 1164L953.2 1164ZM959.5 1152.2L965.3 1162.8L953.8 1162.8ZM960.1 1155.6L965.8 1166.1L954.3 1166.1ZM960.6 1161.7L966.4 1172.3L954.9 1172.3ZM961.2 1156.9L966.9 1167.5L955.4 1167.5ZM961.7 1154.5L967.5 1165.1L956 1165.1ZM962.3 1153.4L968.1 1164L956.6 1164ZM962.9 1149.8L968.6 1160.4L957.1 1160.4ZM963.4 1157.1L969.2 1167.6L957.7 1167.6ZM964 1157.9L969.7 1168.5L958.2 1168.5ZM964.5 1156.5L970.3 1167.1L958.8 1167.1ZM965.1 1152.4L970.8 1163L959.3 1163ZM965.6 1159.7L971.4 1170.3L959.9 1170.3ZM966.2 1152.2L971.9 1162.8L960.4 1162.8ZM966.7 1165.9L972.5 1176.5L961 1176.5ZM967.3 1154L973 1164.6L961.5 1164.6ZM967.8 1159L973.6 1169.6L962.1 1169.6ZM968.4 1155.2L974.1 1165.8L962.6 1165.8ZM969 1154.5L974.7 1165.1L963.2 1165.1ZM969.5 1160.8L975.3 1171.4L963.8 1171.4ZM970.1 1157.2L975.8 1167.8L964.3 1167.8ZM970.6 1156.1L976.4 1166.7L964.9 1166.7ZM971.2 1154.9L976.9 1165.5L965.4 1165.5ZM971.7 1160.1L977.5 1170.7L966 1170.7ZM972.3 1160.3L978 1170.9L966.5 1170.9ZM972.8 1163.5L978.6 1174.1L967.1 1174.1ZM973.4 1148.4L979.1 1159L967.6 1159ZM973.9 1157.6L979.7 1168.2L968.2 1168.2ZM974.5 1157.7L980.2 1168.3L968.7 1168.3ZM975 1162L980.8 1172.6L969.3 1172.6ZM975.6 1153.8L981.3 1164.4L969.8 1164.4ZM976.2 1158.8L981.9 1169.3L970.4 1169.3ZM976.7 1152.1L982.5 1162.7L971 1162.7ZM977.3 1154L983 1164.6L971.5 1164.6ZM977.8 1156.8L983.6 1167.4L972.1 1167.4ZM978.4 1154.4L984.1 1165L972.6 1165ZM978.9 1160.6L984.7 1171.2L973.2 1171.2ZM979.5 1157.9L985.2 1168.4L973.7 1168.4ZM980 1158.7L985.8 1169.2L974.3 1169.2ZM980.6 1160.9L986.3 1171.5L974.8 1171.5ZM981.1 1156.5L986.9 1167.1L975.4 1167.1ZM981.7 1157L987.4 1167.6L975.9 1167.6ZM982.2 1151.6L988 1162.2L976.5 1162.2ZM982.8 1167.7L988.6 1178.2L977.1 1178.2ZM983.4 1158.5L989.1 1169.1L977.6 1169.1ZM983.9 1159.2L989.7 1169.8L978.2 1169.8ZM984.5 1157.6L990.2 1168.1L978.7 1168.1ZM985 1154.4L990.8 1165L979.3 1165ZM985.6 1154.3L991.3 1164.9L979.8 1164.9ZM986.1 1155.4L991.9 1166L980.4 1166ZM986.7 1157L992.4 1167.5L980.9 1167.5ZM987.2 1153.5L993 1164.1L981.5 1164.1ZM987.8 1153.7L993.5 1164.3L982 1164.3ZM988.3 1160.9L994.1 1171.5L982.6 1171.5ZM988.9 1155.4L994.6 1165.9L983.1 1165.9ZM989.4 1158.8L995.2 1169.4L983.7 1169.4ZM990 1157.9L995.8 1168.5L984.3 1168.5ZM990.6 1153.1L996.3 1163.7L984.8 1163.7ZM991.1 1153.1L996.9 1163.6L985.4 1163.6ZM991.7 1152.5L997.4 1163.1L985.9 1163.1ZM992.2 1155.5L998 1166.1L986.5 1166.1ZM992.8 1152.8L998.5 1163.4L987 1163.4ZM993.3 1154.8L999.1 1165.4L987.6 1165.4ZM993.9 1150L999.6 1160.5L988.1 1160.5ZM994.4 1148.4L1000.2 1159L988.7 1159ZM995 1144.3L1000.7 1154.9L989.2 1154.9ZM995.5 1145.4L1001.3 1156L989.8 1156ZM996.1 1151.9L1001.8 1162.4L990.3 1162.4ZM996.7 1150.1L1002.4 1160.7L990.9 1160.7ZM997.2 1151.1L1003 1161.6L991.5 1161.6ZM997.8 1146.2L1003.5 1156.8L992 1156.8ZM998.3 1139.8L1004.1 1150.4L992.6 1150.4ZM998.9 1143.4L1004.6 1154L993.1 1154ZM999.4 1152.4L1005.2 1163L993.7 1163ZM1000 1148.4L1005.7 1159L994.2 1159ZM1000.5 1147.7L1006.3 1158.3L994.8 1158.3ZM1001.1 1140.7L1006.8 1151.3L995.3 1151.3ZM1001.6 1141.5L1007.4 1152.1L995.9 1152.1ZM1002.2 1139.6L1007.9 1150.2L996.4 1150.2ZM1002.7 1133.6L1008.5 1144.2L997 1144.2ZM1003.3 1141.4L1009 1152L997.5 1152ZM1003.9 1140.4L1009.6 1151L998.1 1151ZM1004.4 1129.8L1010.2 1140.4L998.7 1140.4ZM1005 1134.1L1010.7 1144.7L999.2 1144.7ZM1005.5 1136.8L1011.3 1147.3L999.8 1147.3ZM1006.1 1139.8L1011.8 1150.4L1000.3 1150.4ZM1006.6 1136.8L1012.4 1147.4L1000.9 1147.4ZM1007.2 1138.7L1012.9 1149.3L1001.4 1149.3ZM1007.7 1128.9L1013.5 1139.5L1002 1139.5ZM1008.3 1127.6L1014 1138.2L1002.5 1138.2ZM1008.8 1123.1L1014.6 1133.7L1003.1 1133.7ZM1009.4 1125.5L1015.1 1136.1L1003.6 1136.1ZM1009.9 1126L1015.7 1136.6L1004.2 1136.6ZM1010.5 1124.7L1016.3 1135.3L1004.8 1135.3ZM1011.1 1114.3L1016.8 1124.9L1005.3 1124.9ZM1011.6 1125.2L1017.4 1135.8L1005.9 1135.8ZM1012.2 1117.2L1017.9 1127.8L1006.4 1127.8ZM1012.7 1116.2L1018.5 1126.8L1007 1126.8ZM1013.3 1112.7L1019 1123.3L1007.5 1123.3ZM1013.8 1114.6L1019.6 1125.2L1008.1 1125.2ZM1014.4 1110L1020.1 1120.6L1008.6 1120.6ZM1014.9 1107.4L1020.7 1118L1009.2 1118ZM1015.5 1109.1L1021.2 1119.7L1009.7 1119.7ZM1016 1108.6L1021.8 1119.2L1010.3 1119.2ZM1016.6 1106.2L1022.3 1116.8L1010.8 1116.8ZM1017.1 1107.3L1022.9 1117.9L1011.4 1117.9ZM1017.7 1103.2L1023.5 1113.8L1012 1113.8ZM1018.3 1102L1024 1112.6L1012.5 1112.6ZM1018.8 1098.8L1024.6 1109.4L1013.1 1109.4ZM1019.4 1093.6L1025.1 1104.1L1013.6 1104.1ZM1019.9 1092.2L1025.7 1102.8L1014.2 1102.8ZM1020.5 1096.8L1026.2 1107.3L1014.7 1107.3ZM1021 1091.8L1026.8 1102.4L1015.3 1102.4ZM1021.6 1091.6L1027.3 1102.1L1015.8 1102.1ZM1022.1 1088.7L1027.9 1099.3L1016.4 1099.3ZM1022.7 1089.9L1028.4 1100.5L1016.9 1100.5ZM1023.2 1087.9L1029 1098.5L1017.5 1098.5ZM1023.8 1089.2L1029.5 1099.8L1018 1099.8ZM1024.4 1089.2L1030.1 1099.8L1018.6 1099.8ZM1024.9 1082.6L1030.7 1093.1L1019.2 1093.1ZM1025.5 1080.1L1031.2 1090.7L1019.7 1090.7ZM1026 1081.4L1031.8 1091.9L1020.3 1091.9ZM1026.6 1081.3L1032.3 1091.8L1020.8 1091.8ZM1027.1 1081L1032.9 1091.6L1021.4 1091.6ZM1027.7 1082.7L1033.4 1093.3L1021.9 1093.3ZM1028.2 1086.6L1034 1097.2L1022.5 1097.2ZM1028.8 1077.7L1034.5 1088.3L1023 1088.3ZM1029.3 1078.8L1035.1 1089.4L1023.6 1089.4ZM1029.9 1080.9L1035.6 1091.5L1024.1 1091.5ZM1030.4 1081.9L1036.2 1092.5L1024.7 1092.5ZM1031 1074.1L1036.7 1084.6L1025.2 1084.6ZM1031.6 1084.3L1037.3 1094.9L1025.8 1094.9ZM1032.1 1072.1L1037.9 1082.7L1026.4 1082.7ZM1032.7 1075.9L1038.4 1086.4L1026.9 1086.4ZM1033.2 1070L1039 1080.6L1027.5 1080.6ZM1033.8 1080.6L1039.5 1091.2L1028 1091.2ZM1034.3 1078.5L1040.1 1089L1028.6 1089ZM1034.9 1080.4L1040.6 1090.9L1029.1 1090.9ZM1035.4 1078.5L1041.2 1089.1L1029.7 1089.1ZM1036 1080.2L1041.7 1090.7L1030.2 1090.7ZM1036.5 1082.5L1042.3 1093.1L1030.8 1093.1ZM1037.1 1076.9L1042.8 1087.5L1031.3 1087.5ZM1037.6 1083.9L1043.4 1094.5L1031.9 1094.5ZM1038.2 1083.7L1044 1094.3L1032.5 1094.3ZM1038.8 1080.9L1044.5 1091.5L1033 1091.5ZM1039.3 1085.5L1045.1 1096L1033.6 1096ZM1039.9 1086L1045.6 1096.6L1034.1 1096.6ZM1040.4 1084.4L1046.2 1095L1034.7 1095ZM1041 1087.9L1046.7 1098.5L1035.2 1098.5ZM1041.5 1092L1047.3 1102.6L1035.8 1102.6ZM1042.1 1089.3L1047.8 1099.9L1036.3 1099.9ZM1042.6 1090.9L1048.4 1101.5L1036.9 1101.5ZM1043.2 1085.7L1048.9 1096.3L1037.4 1096.3ZM1043.7 1096.5L1049.5 1107.1L1038 1107.1ZM1044.3 1090.9L1050 1101.4L1038.5 1101.4ZM1044.8 1098.2L1050.6 1108.8L1039.1 1108.8ZM1045.4 1098.2L1051.2 1108.8L1039.7 1108.8ZM1046 1099.5L1051.7 1110.1L1040.2 1110.1ZM1046.5 1099L1052.3 1109.6L1040.8 1109.6ZM1047.1 1098.5L1052.8 1109.1L1041.3 1109.1ZM1047.6 1097.1L1053.4 1107.7L1041.9 1107.7ZM1048.2 1106.7L1053.9 1117.3L1042.4 1117.3ZM1048.7 1101.7L1054.5 1112.2L1043 1112.2ZM1049.3 1104.4L1055 1115L1043.5 1115ZM1049.8 1106.6L1055.6 1117.2L1044.1 1117.2ZM1050.4 1113.5L1056.1 1124.1L1044.6 1124.1ZM1050.9 1109.5L1056.7 1120.1L1045.2 1120.1ZM1051.5 1114.5L1057.2 1125.1L1045.7 1125.1ZM1052.1 1114.5L1057.8 1125.1L1046.3 1125.1ZM1052.6 1118.2L1058.4 1128.8L1046.9 1128.8ZM1053.2 1116.7L1058.9 1127.3L1047.4 1127.3ZM1053.7 1116.7L1059.5 1127.3L1048 1127.3ZM1054.3 1118.2L1060 1128.8L1048.5 1128.8ZM1054.8 1124.3L1060.6 1134.9L1049.1 1134.9ZM1055.4 1121.7L1061.1 1132.3L1049.6 1132.3ZM1055.9 1121.7L1061.7 1132.3L1050.2 1132.3ZM1056.5 1131.2L1062.2 1141.8L1050.7 1141.8ZM1057 1124.5L1062.8 1135.1L1051.3 1135.1ZM1057.6 1135.5L1063.3 1146L1051.8 1146ZM1058.1 1130.5L1063.9 1141.1L1052.4 1141.1ZM1058.7 1131.7L1064.4 1142.3L1052.9 1142.3ZM1059.3 1130L1065 1140.6L1053.5 1140.6ZM1059.8 1135.4L1065.6 1146L1054.1 1146ZM1060.4 1139.2L1066.1 1149.8L1054.6 1149.8ZM1060.9 1141.5L1066.7 1152.1L1055.2 1152.1ZM1061.5 1144.3L1067.2 1154.8L1055.7 1154.8ZM1062 1138.6L1067.8 1149.2L1056.3 1149.2ZM1062.6 1143.1L1068.3 1153.7L1056.8 1153.7ZM1063.1 1145.8L1068.9 1156.4L1057.4 1156.4ZM1063.7 1142.7L1069.4 1153.3L1057.9 1153.3ZM1064.2 1148.1L1070 1158.7L1058.5 1158.7ZM1064.8 1148L1070.5 1158.5L1059 1158.5ZM1065.3 1149L1071.1 1159.6L1059.6 1159.6ZM1065.9 1142.7L1071.7 1153.3L1060.2 1153.3ZM1066.5 1144.3L1072.2 1154.8L1060.7 1154.8ZM1067 1150.6L1072.8 1161.2L1061.3 1161.2ZM1067.6 1156.2L1073.3 1166.7L1061.8 1166.7ZM1068.1 1150.7L1073.9 1161.3L1062.4 1161.3ZM1068.7 1152.1L1074.4 1162.7L1062.9 1162.7ZM1069.2 1151.9L1075 1162.5L1063.5 1162.5ZM1069.8 1151.8L1075.5 1162.4L1064 1162.4ZM1070.3 1155.5L1076.1 1166L1064.6 1166ZM1070.9 1151.9L1076.6 1162.4L1065.1 1162.4ZM1071.4 1152.7L1077.2 1163.3L1065.7 1163.3ZM1072 1155.4L1077.7 1166L1066.2 1166ZM1072.5 1158L1078.3 1168.6L1066.8 1168.6ZM1073.1 1158.8L1078.9 1169.3L1067.4 1169.3ZM1073.7 1155.3L1079.4 1165.8L1067.9 1165.8ZM1074.2 1161.8L1080 1172.3L1068.5 1172.3ZM1074.8 1159L1080.5 1169.6L1069 1169.6ZM1075.3 1161.4L1081.1 1172L1069.6 1172ZM1075.9 1163.9L1081.6 1174.5L1070.1 1174.5ZM1076.4 1157.5L1082.2 1168.1L1070.7 1168.1ZM1077 1160L1082.7 1170.6L1071.2 1170.6ZM1077.5 1160.1L1083.3 1170.7L1071.8 1170.7ZM1078.1 1157.6L1083.8 1168.1L1072.3 1168.1ZM1078.6 1165.8L1084.4 1176.4L1072.9 1176.4ZM1079.2 1161.3L1084.9 1171.9L1073.4 1171.9ZM1079.8 1160.3L1085.5 1170.9L1074 1170.9ZM1080.3 1158.7L1086.1 1169.3L1074.6 1169.3ZM1080.9 1165.4L1086.6 1176L1075.1 1176ZM1081.4 1159.5L1087.2 1170.1L1075.7 1170.1ZM1082 1161.4L1087.7 1171.9L1076.2 1171.9ZM1082.5 1157.7L1088.3 1168.3L1076.8 1168.3ZM1083.1 1158.6L1088.8 1169.1L1077.3 1169.1ZM1083.6 1160.7L1089.4 1171.3L1077.9 1171.3ZM1084.2 1155.4L1089.9 1166L1078.4 1166ZM1084.7 1162.8L1090.5 1173.4L1079 1173.4ZM1085.3 1164.4L1091 1175L1079.5 1175ZM1085.8 1164.2L1091.6 1174.8L1080.1 1174.8ZM1086.4 1166.3L1092.1 1176.9L1080.6 1176.9ZM1087 1163.3L1092.7 1173.9L1081.2 1173.9ZM1087.5 1169.7L1093.3 1180.3L1081.8 1180.3ZM1088.1 1163.7L1093.8 1174.3L1082.3 1174.3ZM1088.6 1162L1094.4 1172.6L1082.9 1172.6ZM1089.2 1160.2L1094.9 1170.8L1083.4 1170.8ZM1089.7 1164.8L1095.5 1175.4L1084 1175.4ZM1090.3 1159L1096 1169.6L1084.5 1169.6ZM1090.8 1165.9L1096.6 1176.5L1085.1 1176.5ZM1091.4 1164.2L1097.1 1174.8L1085.6 1174.8ZM1091.9 1170.2L1097.7 1180.7L1086.2 1180.7ZM1092.5 1166.4L1098.2 1177L1086.7 1177ZM1093 1166.6L1098.8 1177.1L1087.3 1177.1Z" fill="none" stroke="#0072BD" stroke-width="1.1"/>
<path d="M839 1170.5a5.3 5.3 0 1 0 10.6 0a5.3 5.3 0 1 0 -10.6 0M840.5 1171.7a5.3 5.3 0 1 0 10.6 0a5.3 5.3 0 1 0 -10.6 0M842 1173.8a5.3 5.3 0 1 0 10.6 0a5.3 5.3 0 1 0 -10.6 0M843.6 1171.5a5.3 5.3 0 1 0 10.6 0a5.3 5.3 0 1 0 -10.6 0M845.1 1171.4a5.3 5.3 0 1 0 10.6 0a5.3 5.3 0 1 0 -10.6 0M846.6 1172.2a5.3 5.3 0 1 0 10.6 0a5.3 5.3 0 1 0 -10.6 0M848.1 1171.6a5.3 5.3 0 1 0 10.6 0a5.3 5.3 0 1 0 -10.6 0M849.7 1171.7a5.3 5.3 0 1 0 10.6 0a5.3 5.3 0 1 0 -10.6 0M851.2 1171.6a5.3 5.3 0 1 0 10.6 0a5.3 5.3 0 1 0 -10.6 0M852.7 1172.7a5.3 5.3 0 1 0 10.6 0a5.3 5.3 0 1 0 -10.6 0M854.2 1169.9a5.3 5.3 0 1 0 10.6 0a5.3 5.3 0 1 0 -10.6 0M855.8 1167.3a5.3 5.3 0 1 0 10.6 0a5.3 5.3 0 1 0 -10.6 0M857.3 1166.2a5.3 5.3 0 1 0 10.6 0a5.3 5.3 0 1 0 -10.6 0M858.8 1167.3a5.3 5.3 0 1 0 10.6 0a5.3 5.3 0 1 0 -10.6 0M860.3 1166.6a5.3 5.3 0 1 0 10.6 0a5.3 5.3 0 1 0 -10.6 0M861.9 1164.4a5.3 5.3 0 1 0 10.6 0a5.3 5.3 0 1 0 -10.6 0M863.4 1161.1a5.3 5.3 0 1 0 10.6 0a5.3 5.3 0 1 0 -10.6 0M864.9 1159.7a5.3 5.3 0 1 0 10.6 0a5.3 5.3 0 1 0 -10.6 0M866.4 1158.6a5.3 5.3 0 1 0 10.6 0a5.3 5.3 0 1 0 -10.6 0M867.9 1154.6a5.3 5.3 0 1 0 10.6 0a5.3 5.3 0 1 0 -10.6 0M869.5 1152.4a5.3 5.3 0 1 0 10.6 0a5.3 5.3 0 1 0 -10.6 0M871 1148a5.3 5.3 0 1 0 10.6 0a5.3 5.3 0 1 0 -10.6 0M872.5 1145.6a5.3 5.3 0 1 0 10.6 0a5.3 5.3 0 1 0 -10.6 0M874 1142.9a5.3 5.3 0 1 0 10.6 0a5.3 5.3 0 1 0 -10.6 0M875.6 1136.6a5.3 5.3 0 1 0 10.6 0a5.3 5.3 0 1 0 -10.6 0M877.1 1131.1a5.3 5.3 0 1 0 10.6 0a5.3 5.3 0 1 0 -10.6 0M878.6 1128.7a5.3 5.3 0 1 0 10.6 0a5.3 5.3 0 1 0 -10.6 0M880.1 1122.3a5.3 5.3 0 1 0 10.6 0a5.3 5.3 0 1 0 -10.6 0M881.7 1115.9a5.3 5.3 0 1 0 10.6 0a5.3 5.3 0 1 0 -10.6 0M883.2 1112.4a5.3 5.3 0 1 0 10.6 0a5.3 5.3 0 1 0 -10.6 0M884.7 1107.6a5.3 5.3 0 1 0 10.6 0a5.3 5.3 0 1 0 -10.6 0M886.2 1099a5.3 5.3 0 1 0 10.6 0a5.3 5.3 0 1 0 -10.6 0M887.8 1095.7a5.3 5.3 0 1 0 10.6 0a5.3 5.3 0 1 0 -10.6 0M889.3 1090.9a5.3 5.3 0 1 0 10.6 0a5.3 5.3 0 1 0 -10.6 0M890.8 1089.4a5.3 5.3 0 1 0 10.6 0a5.3 5.3 0 1 0 -10.6 0M892.3 1082.3a5.3 5.3 0 1 0 10.6 0a5.3 5.3 0 1 0 -10.6 0M893.8 1083.5a5.3 5.3 0 1 0 10.6 0a5.3 5.3 0 1 0 -10.6 0M895.4 1079.5a5.3 5.3 0 1 0 10.6 0a5.3 5.3 0 1 0 -10.6 0M896.9 1076a5.3 5.3 0 1 0 10.6 0a5.3 5.3 0 1 0 -10.6 0M898.4 1074.1a5.3 5.3 0 1 0 10.6 0a5.3 5.3 0 1 0 -10.6 0M899.9 1076.7a5.3 5.3 0 1 0 10.6 0a5.3 5.3 0 1 0 -10.6 0M901.5 1076.7a5.3 5.3 0 1 0 10.6 0a5.3 5.3 0 1 0 -10.6 0M903 1076.7a5.3 5.3 0 1 0 10.6 0a5.3 5.3 0 1 0 -10.6 0M904.5 1081.4a5.3 5.3 0 1 0 10.6 0a5.3 5.3 0 1 0 -10.6 0M906 1080.5a5.3 5.3 0 1 0 10.6 0a5.3 5.3 0 1 0 -10.6 0M907.6 1083.7a5.3 5.3 0 1 0 10.6 0a5.3 5.3 0 1 0 -10.6 0M909.1 1088.7a5.3 5.3 0 1 0 10.6 0a5.3 5.3 0 1 0 -10.6 0M910.6 1091.6a5.3 5.3 0 1 0 10.6 0a5.3 5.3 0 1 0 -10.6 0M912.1 1095.8a5.3 5.3 0 1 0 10.6 0a5.3 5.3 0 1 0 -10.6 0M913.7 1101.2a5.3 5.3 0 1 0 10.6 0a5.3 5.3 0 1 0 -10.6 0M915.2 1106a5.3 5.3 0 1 0 10.6 0a5.3 5.3 0 1 0 -10.6 0M916.7 1109.8a5.3 5.3 0 1 0 10.6 0a5.3 5.3 0 1 0 -10.6 0M918.2 1117.6a5.3 5.3 0 1 0 10.6 0a5.3 5.3 0 1 0 -10.6 0M919.7 1121.8a5.3 5.3 0 1 0 10.6 0a5.3 5.3 0 1 0 -10.6 0M921.3 1127.7a5.3 5.3 0 1 0 10.6 0a5.3 5.3 0 1 0 -10.6 0M922.8 1130.5a5.3 5.3 0 1 0 10.6 0a5.3 5.3 0 1 0 -10.6 0M924.3 1137a5.3 5.3 0 1 0 10.6 0a5.3 5.3 0 1 0 -10.6 0M925.8 1140.1a5.3 5.3 0 1 0 10.6 0a5.3 5.3 0 1 0 -10.6 0M927.4 1144.5a5.3 5.3 0 1 0 10.6 0a5.3 5.3 0 1 0 -10.6 0M928.9 1148.3a5.3 5.3 0 1 0 10.6 0a5.3 5.3 0 1 0 -10.6 0M930.4 1149.4a5.3 5.3 0 1 0 10.6 0a5.3 5.3 0 1 0 -10.6 0M931.9 1154.8a5.3 5.3 0 1 0 10.6 0a5.3 5.3 0 1 0 -10.6 0M933.5 1155.5a5.3 5.3 0 1 0 10.6 0a5.3 5.3 0 1 0 -10.6 0M935 1158.6a5.3 5.3 0 1 0 10.6 0a5.3 5.3 0 1 0 -10.6 0M936.5 1160a5.3 5.3 0 1 0 10.6 0a5.3 5.3 0 1 0 -10.6 0M938 1163.7a5.3 5.3 0 1 0 10.6 0a5.3 5.3 0 1 0 -10.6 0M939.6 1163.8a5.3 5.3 0 1 0 10.6 0a5.3 5.3 0 1 0 -10.6 0M941.1 1165.3a5.3 5.3 0 1 0 10.6 0a5.3 5.3 0 1 0 -10.6 0M942.6 1168.2a5.3 5.3 0 1 0 10.6 0a5.3 5.3 0 1 0 -10.6 0M944.1 1167.9a5.3 5.3 0 1 0 10.6 0a5.3 5.3 0 1 0 -10.6 0M945.6 1169.2a5.3 5.3 0 1 0 10.6 0a5.3 5.3 0 1 0 -10.6 0M947.2 1169.6a5.3 5.3 0 1 0 10.6 0a5.3 5.3 0 1 0 -10.6 0M948.7 1168.4a5.3 5.3 0 1 0 10.6 0a5.3 5.3 0 1 0 -10.6 0M950.2 1171.4a5.3 5.3 0 1 0 10.6 0a5.3 5.3 0 1 0 -10.6 0M951.7 1173a5.3 5.3 0 1 0 10.6 0a5.3 5.3 0 1 0 -10.6 0M953.3 1173.3a5.3 5.3 0 1 0 10.6 0a5.3 5.3 0 1 0 -10.6 0M954.8 1171.8a5.3 5.3 0 1 0 10.6 0a5.3 5.3 0 1 0 -10.6 0M956.3 1172.2a5.3 5.3 0 1 0 10.6 0a5.3 5.3 0 1 0 -10.6 0M957.8 1171.4a5.3 5.3 0 1 0 10.6 0a5.3 5.3 0 1 0 -10.6 0M959.4 1170.7a5.3 5.3 0 1 0 10.6 0a5.3 5.3 0 1 0 -10.6 0M960.9 1169.2a5.3 5.3 0 1 0 10.6 0a5.3 5.3 0 1 0 -10.6 0M962.4 1171.1a5.3 5.3 0 1 0 10.6 0a5.3 5.3 0 1 0 -10.6 0M963.9 1170.9a5.3 5.3 0 1 0 10.6 0a5.3 5.3 0 1 0 -10.6 0M965.5 1172.5a5.3 5.3 0 1 0 10.6 0a5.3 5.3 0 1 0 -10.6 0M967 1170.7a5.3 5.3 0 1 0 10.6 0a5.3 5.3 0 1 0 -10.6 0M968.5 1169.6a5.3 5.3 0 1 0 10.6 0a5.3 5.3 0 1 0 -10.6 0M970 1169.5a5.3 5.3 0 1 0 10.6 0a5.3 5.3 0 1 0 -10.6 0M971.5 1173.6a5.3 5.3 0 1 0 10.6 0a5.3 5.3 0 1 0 -10.6 0M973.1 1169.7a5.3 5.3 0 1 0 10.6 0a5.3 5.3 0 1 0 -10.6 0M974.6 1168.6a5.3 5.3 0 1 0 10.6 0a5.3 5.3 0 1 0 -10.6 0M976.1 1169.2a5.3 5.3 0 1 0 10.6 0a5.3 5.3 0 1 0 -10.6 0M977.6 1171.8a5.3 5.3 0 1 0 10.6 0a5.3 5.3 0 1 0 -10.6 0M979.2 1169.7a5.3 5.3 0 1 0 10.6 0a5.3 5.3 0 1 0 -10.6 0M980.7 1167.9a5.3 5.3 0 1 0 10.6 0a5.3 5.3 0 1 0 -10.6 0M982.2 1167.3a5.3 5.3 0 1 0 10.6 0a5.3 5.3 0 1 0 -10.6 0M983.7 1167.9a5.3 5.3 0 1 0 10.6 0a5.3 5.3 0 1 0 -10.6 0M985.3 1166.9a5.3 5.3 0 1 0 10.6 0a5.3 5.3 0 1 0 -10.6 0M986.8 1163.1a5.3 5.3 0 1 0 10.6 0a5.3 5.3 0 1 0 -10.6 0M988.3 1164.5a5.3 5.3 0 1 0 10.6 0a5.3 5.3 0 1 0 -10.6 0M989.8 1159.1a5.3 5.3 0 1 0 10.6 0a5.3 5.3 0 1 0 -10.6 0M991.3 1158.8a5.3 5.3 0 1 0 10.6 0a5.3 5.3 0 1 0 -10.6 0M992.9 1156.1a5.3 5.3 0 1 0 10.6 0a5.3 5.3 0 1 0 -10.6 0M994.4 1155.6a5.3 5.3 0 1 0 10.6 0a5.3 5.3 0 1 0 -10.6 0M995.9 1151.6a5.3 5.3 0 1 0 10.6 0a5.3 5.3 0 1 0 -10.6 0M997.4 1146.7a5.3 5.3 0 1 0 10.6 0a5.3 5.3 0 1 0 -10.6 0M999 1146a5.3 5.3 0 1 0 10.6 0a5.3 5.3 0 1 0 -10.6 0M1000.5 1137.5a5.3 5.3 0 1 0 10.6 0a5.3 5.3 0 1 0 -10.6 0M1002 1138a5.3 5.3 0 1 0 10.6 0a5.3 5.3 0 1 0 -10.6 0M1003.5 1133.5a5.3 5.3 0 1 0 10.6 0a5.3 5.3 0 1 0 -10.6 0M1005.1 1127.5a5.3 5.3 0 1 0 10.6 0a5.3 5.3 0 1 0 -10.6 0M1006.6 1122.4a5.3 5.3 0 1 0 10.6 0a5.3 5.3 0 1 0 -10.6 0M1008.1 1117.5a5.3 5.3 0 1 0 10.6 0a5.3 5.3 0 1 0 -10.6 0M1009.6 1114.4a5.3 5.3 0 1 0 10.6 0a5.3 5.3 0 1 0 -10.6 0M1011.2 1109.8a5.3 5.3 0 1 0 10.6 0a5.3 5.3 0 1 0 -10.6 0M1012.7 1105.7a5.3 5.3 0 1 0 10.6 0a5.3 5.3 0 1 0 -10.6 0M1014.2 1102.2a5.3 5.3 0 1 0 10.6 0a5.3 5.3 0 1 0 -10.6 0M1015.7 1101.2a5.3 5.3 0 1 0 10.6 0a5.3 5.3 0 1 0 -10.6 0M1017.2 1093.4a5.3 5.3 0 1 0 10.6 0a5.3 5.3 0 1 0 -10.6 0M1018.8 1091.7a5.3 5.3 0 1 0 10.6 0a5.3 5.3 0 1 0 -10.6 0M1020.3 1089.7a5.3 5.3 0 1 0 10.6 0a5.3 5.3 0 1 0 -10.6 0M1021.8 1089.2a5.3 5.3 0 1 0 10.6 0a5.3 5.3 0 1 0 -10.6 0M1023.3 1087.2a5.3 5.3 0 1 0 10.6 0a5.3 5.3 0 1 0 -10.6 0M1024.9 1087.3a5.3 5.3 0 1 0 10.6 0a5.3 5.3 0 1 0 -10.6 0M1026.4 1087.9a5.3 5.3 0 1 0 10.6 0a5.3 5.3 0 1 0 -10.6 0M1027.9 1087.5a5.3 5.3 0 1 0 10.6 0a5.3 5.3 0 1 0 -10.6 0M1029.4 1092.9a5.3 5.3 0 1 0 10.6 0a5.3 5.3 0 1 0 -10.6 0M1031 1092.6a5.3 5.3 0 1 0 10.6 0a5.3 5.3 0 1 0 -10.6 0M1032.5 1097.2a5.3 5.3 0 1 0 10.6 0a5.3 5.3 0 1 0 -10.6 0M1034 1099.5a5.3 5.3 0 1 0 10.6 0a5.3 5.3 0 1 0 -10.6 0M1035.5 1100.9a5.3 5.3 0 1 0 10.6 0a5.3 5.3 0 1 0 -10.6 0M1037.1 1108.4a5.3 5.3 0 1 0 10.6 0a5.3 5.3 0 1 0 -10.6 0M1038.6 1111.4a5.3 5.3 0 1 0 10.6 0a5.3 5.3 0 1 0 -10.6 0M1040.1 1116.5a5.3 5.3 0 1 0 10.6 0a5.3 5.3 0 1 0 -10.6 0M1041.6 1119.1a5.3 5.3 0 1 0 10.6 0a5.3 5.3 0 1 0 -10.6 0M1043.1 1126.2a5.3 5.3 0 1 0 10.6 0a5.3 5.3 0 1 0 -10.6 0M1044.7 1131.6a5.3 5.3 0 1 0 10.6 0a5.3 5.3 0 1 0 -10.6 0M1046.2 1133.2a5.3 5.3 0 1 0 10.6 0a5.3 5.3 0 1 0 -10.6 0M1047.7 1138.6a5.3 5.3 0 1 0 10.6 0a5.3 5.3 0 1 0 -10.6 0M1049.2 1142.6a5.3 5.3 0 1 0 10.6 0a5.3 5.3 0 1 0 -10.6 0M1050.8 1144.5a5.3 5.3 0 1 0 10.6 0a5.3 5.3 0 1 0 -10.6 0M1052.3 1150.6a5.3 5.3 0 1 0 10.6 0a5.3 5.3 0 1 0 -10.6 0M1053.8 1153.2a5.3 5.3 0 1 0 10.6 0a5.3 5.3 0 1 0 -10.6 0M1055.3 1155.4a5.3 5.3 0 1 0 10.6 0a5.3 5.3 0 1 0 -10.6 0M1056.9 1157.7a5.3 5.3 0 1 0 10.6 0a5.3 5.3 0 1 0 -10.6 0M1058.4 1161.3a5.3 5.3 0 1 0 10.6 0a5.3 5.3 0 1 0 -10.6 0M1059.9 1161.3a5.3 5.3 0 1 0 10.6 0a5.3 5.3 0 1 0 -10.6 0M1061.4 1161.6a5.3 5.3 0 1 0 10.6 0a5.3 5.3 0 1 0 -10.6 0M1063 1166.6a5.3 5.3 0 1 0 10.6 0a5.3 5.3 0 1 0 -10.6 0M1064.5 1164.9a5.3 5.3 0 1 0 10.6 0a5.3 5.3 0 1 0 -10.6 0M1066 1171.2a5.3 5.3 0 1 0 10.6 0a5.3 5.3 0 1 0 -10.6 0M1067.5 1167.6a5.3 5.3 0 1 0 10.6 0a5.3 5.3 0 1 0 -10.6 0M1069 1170.7a5.3 5.3 0 1 0 10.6 0a5.3 5.3 0 1 0 -10.6 0M1070.6 1170.7a5.3 5.3 0 1 0 10.6 0a5.3 5.3 0 1 0 -10.6 0M1072.1 1171.9a5.3 5.3 0 1 0 10.6 0a5.3 5.3 0 1 0 -10.6 0M1073.6 1172.7a5.3 5.3 0 1 0 10.6 0a5.3 5.3 0 1 0 -10.6 0M1075.1 1173.9a5.3 5.3 0 1 0 10.6 0a5.3 5.3 0 1 0 -10.6 0M1076.7 1173a5.3 5.3 0 1 0 10.6 0a5.3 5.3 0 1 0 -10.6 0M1078.2 1171.1a5.3 5.3 0 1 0 10.6 0a5.3 5.3 0 1 0 -10.6 0M1079.7 1171.5a5.3 5.3 0 1 0 10.6 0a5.3 5.3 0 1 0 -10.6 0M1081.2 1173.5a5.3 5.3 0 1 0 10.6 0a5.3 5.3 0 1 0 -10.6 0M1082.8 1173.9a5.3 5.3 0 1 0 10.6 0a5.3 5.3 0 1 0 -10.6 0M1084.3 1174.2a5.3 5.3 0 1 0 10.6 0a5.3 5.3 0 1 0 -10.6 0M1085.8 1174.9a5.3 5.3 0 1 0 10.6 0a5.3 5.3 0 1 0 -10.6 0M1087.3 1171a5.3 5.3 0 1 0 10.6 0a5.3 5.3 0 1 0 -10.6 0" fill="none" stroke="#D95319" stroke-width="1.0"/>
<path d="M844.3 1040H1093.6 M844.3 1209H1093.6" stroke="#262626" stroke-width="1.5" fill="none"/>
<path d="M844.3 1040V1209" stroke="#0072BD" stroke-width="1.2"/>
<path d="M1093.6 1040V1209" stroke="#D95319" stroke-width="1.2"/>
<path d="M906.6 1209V1205M906.6 1040V1044M1031.3 1209V1205M1031.3 1040V1044" stroke="#262626" stroke-width="1.2"/>
<path d="M844.3 1209H848.3M844.3 1124.5H848.3M844.3 1040H848.3" stroke="#0072BD" stroke-width="1.2"/>
<path d="M1093.6 1209H1089.6M1093.6 1152.7H1089.6M1093.6 1096.3H1089.6M1093.6 1040H1089.6" stroke="#D95319" stroke-width="1.2"/>
<text x="832.3" y="1221.8" font-size="35" fill="#0072BD" text-anchor="end">0</text>
<text x="832.3" y="1137.3" font-size="35" fill="#0072BD" text-anchor="end">1</text>
<text x="832.3" y="1052.8" font-size="35" fill="#0072BD" text-anchor="end">2</text>
<text x="1105.3" y="1221.8" font-size="35" fill="#D95319">0</text>
<text x="1105.3" y="1165.5" font-size="35" fill="#D95319">5</text>
<text x="1105.3" y="1109.1" font-size="35" fill="#D95319">10</text>
<text x="1105.3" y="1052.8" font-size="35" fill="#D95319">15</text>
<text x="906.6" y="1252" font-size="35" fill="#262626" text-anchor="middle">90</text>
<text x="1031.3" y="1252" font-size="35" fill="#262626" text-anchor="middle">270</text>
<text x="841.2" y="1021.7" font-size="35" fill="#0072BD">×10<tspan dx="-1" dy="-11.6" font-size="23">5</tspan></text>
<text x="968.9" y="1032.3" font-size="41.5" fill="#000" text-anchor="middle">iv</text>
<text x="968.9" y="1295" font-size="36.5" fill="#262626" text-anchor="middle"><tspan font-style="italic">θ</tspan> [deg.]</text>
<text transform="translate(754.2 1129.5) rotate(-90)" font-size="36" fill="#0072BD" text-anchor="middle">I [cm<tspan dx="1.5" dy="-10.9" font-size="22.5">-1</tspan><tspan dx="2" dy="10.9">]</tspan></text>
<text transform="translate(1193.9 1125) rotate(-90)" font-size="36" fill="#D95319" text-anchor="middle">I [cm<tspan dx="1.5" dy="-10.9" font-size="22.5">-1</tspan><tspan dx="2" dy="10.9">]</tspan></text>
<rect x="109.5" y="1412.6" width="147.3" height="463" fill="#CDCDCD"/>
<rect x="404.1" y="1412.6" width="147.3" height="463" fill="#CDCDCD"/>
<path d="M183.2 1412.6V1875.6M330.5 1412.6V1875.6M477.8 1412.6V1875.6M625.1 1412.6V1875.6M109.5 1783H698.8M109.5 1690.4H698.8M109.5 1597.8H698.8M109.5 1505.2H698.8" stroke="#262626" stroke-opacity="0.18" stroke-width="1.2" fill="none"/>
<rect x="109.5" y="1412.6" width="147.3" height="463" fill="none" stroke="#4D4D4D" stroke-width="1.5"/>
<rect x="404.1" y="1412.6" width="147.3" height="463" fill="none" stroke="#4D4D4D" stroke-width="1.5"/>
<path d="M138 1517.4L138 1528.6M132.4 1523L143.6 1523M134 1519L142 1527M142 1519L134 1527M151 1527.4L151 1538.6M145.4 1533L156.6 1533M147 1529L155 1537M155 1529L147 1537M163.6 1522L163.6 1533.2M158 1527.6L169.2 1527.6M159.6 1523.6L167.6 1531.6M167.6 1523.6L159.6 1531.6M132.8 1575.6a5.2 5.2 0 1 0 10.4 0a5.2 5.2 0 1 0 -10.4 0M146.2 1567a5.2 5.2 0 1 0 10.4 0a5.2 5.2 0 1 0 -10.4 0M159.2 1597.6a5.2 5.2 0 1 0 10.4 0a5.2 5.2 0 1 0 -10.4 0M138 1617.8L143.6 1628.1L132.4 1628.1ZM151.4 1583.8L157 1594.1L145.8 1594.1ZM164.4 1592.6L170 1602.9L158.8 1602.9Z" fill="none" stroke="#0072BD" stroke-width="1.5"/>
<path d="M151.4 1537.4V1604.6" stroke="#0072BD" stroke-width="3.4"/>
<path d="M145.9 1537.4H156.9 M145.9 1604.6H156.9" stroke="#0072BD" stroke-width="2.9"/>
<path d="M138.8 1571H164" stroke="#0072BD" stroke-width="4.9"/>
<path d="M201.6 1506L201.6 1517.2M196 1511.6L207.2 1511.6M197.6 1507.6L205.6 1515.6M205.6 1507.6L197.6 1515.6M214.2 1505.4L214.2 1516.6M208.6 1511L219.8 1511M210.2 1507L218.2 1515M218.2 1507L210.2 1515M227.4 1505.4L227.4 1516.6M221.8 1511L233 1511M223.4 1507L231.4 1515M231.4 1507L223.4 1515M196.4 1596a5.2 5.2 0 1 0 10.4 0a5.2 5.2 0 1 0 -10.4 0M209 1551a5.2 5.2 0 1 0 10.4 0a5.2 5.2 0 1 0 -10.4 0M222.2 1554a5.2 5.2 0 1 0 10.4 0a5.2 5.2 0 1 0 -10.4 0M201.6 1583.8L207.2 1594.1L196 1594.1ZM214.2 1604.2L219.8 1614.5L208.6 1614.5ZM227.4 1575.8L233 1586.1L221.8 1586.1Z" fill="none" stroke="#D95319" stroke-width="1.5"/>
<path d="M214.2 1520V1595.6" stroke="#D95319" stroke-width="3.4"/>
<path d="M208.7 1520H219.7 M208.7 1595.6H219.7" stroke="#D95319" stroke-width="2.9"/>
<path d="M201.6 1557.6H226.8" stroke="#D95319" stroke-width="4.9"/>
<path d="M285.6 1525.4L285.6 1536.6M280 1531L291.2 1531M281.6 1527L289.6 1535M289.6 1527L281.6 1535M298.6 1522.8L298.6 1534M293 1528.4L304.2 1528.4M294.6 1524.4L302.6 1532.4M302.6 1524.4L294.6 1532.4M311 1526.8L311 1538M305.4 1532.4L316.6 1532.4M307 1528.4L315 1536.4M315 1528.4L307 1536.4M280.4 1627.4a5.2 5.2 0 1 0 10.4 0a5.2 5.2 0 1 0 -10.4 0M293.2 1594.4a5.2 5.2 0 1 0 10.4 0a5.2 5.2 0 1 0 -10.4 0M306.4 1610a5.2 5.2 0 1 0 10.4 0a5.2 5.2 0 1 0 -10.4 0M285.6 1606.2L291.2 1616.5L280 1616.5ZM298.6 1606.2L304.2 1616.5L293 1616.5ZM311.6 1612.2L317.2 1622.5L306 1622.5Z" fill="none" stroke="#0072BD" stroke-width="1.5"/>
<path d="M298.8 1546.3V1625.4" stroke="#0072BD" stroke-width="3.4"/>
<path d="M293.3 1546.3H304.3 M293.3 1625.4H304.3" stroke="#0072BD" stroke-width="2.9"/>
<path d="M286.2 1585.6H311.4" stroke="#0072BD" stroke-width="4.9"/>
<path d="M349.4 1527.4L349.4 1538.6M343.8 1533L355 1533M345.4 1529L353.4 1537M353.4 1529L345.4 1537M361.6 1526L361.6 1537.2M356 1531.6L367.2 1531.6M357.6 1527.6L365.6 1535.6M365.6 1527.6L357.6 1535.6M375 1526.4L375 1537.6M369.4 1532L380.6 1532M371 1528L379 1536M379 1528L371 1536M344.2 1616a5.2 5.2 0 1 0 10.4 0a5.2 5.2 0 1 0 -10.4 0M356.4 1578.4a5.2 5.2 0 1 0 10.4 0a5.2 5.2 0 1 0 -10.4 0M369.8 1584a5.2 5.2 0 1 0 10.4 0a5.2 5.2 0 1 0 -10.4 0M349.4 1602.6L355 1612.9L343.8 1612.9ZM361.6 1614.2L367.2 1624.5L356 1624.5ZM375 1602.2L380.6 1612.5L369.4 1612.5Z" fill="none" stroke="#D95319" stroke-width="1.5"/>
<path d="M361.6 1544V1616" stroke="#D95319" stroke-width="3.4"/>
<path d="M356.1 1544H367.1 M356.1 1616H367.1" stroke="#D95319" stroke-width="2.9"/>
<path d="M349 1579.4H374.2" stroke="#D95319" stroke-width="4.9"/>
<path d="M433.6 1506.4L433.6 1517.6M428 1512L439.2 1512M429.6 1508L437.6 1516M437.6 1508L429.6 1516M446.6 1500L446.6 1511.2M441 1505.6L452.2 1505.6M442.6 1501.6L450.6 1509.6M450.6 1501.6L442.6 1509.6M459 1504.8L459 1516M453.4 1510.4L464.6 1510.4M455 1506.4L463 1514.4M463 1506.4L455 1514.4M428.4 1618.6a5.2 5.2 0 1 0 10.4 0a5.2 5.2 0 1 0 -10.4 0M441.4 1582.4a5.2 5.2 0 1 0 10.4 0a5.2 5.2 0 1 0 -10.4 0M454.2 1599a5.2 5.2 0 1 0 10.4 0a5.2 5.2 0 1 0 -10.4 0M433.6 1593.8L439.2 1604.1L428 1604.1ZM446.6 1588.6L452.2 1598.9L441 1598.9ZM459.4 1589.8L465 1600.1L453.8 1600.1Z" fill="none" stroke="#0072BD" stroke-width="1.5"/>
<path d="M446.6 1525.6V1612" stroke="#0072BD" stroke-width="3.4"/>
<path d="M441.1 1525.6H452.1 M441.1 1612H452.1" stroke="#0072BD" stroke-width="2.9"/>
<path d="M434 1568.6H459.2" stroke="#0072BD" stroke-width="4.9"/>
<path d="M497.4 1504.8L497.4 1516M491.8 1510.4L503 1510.4M493.4 1506.4L501.4 1514.4M501.4 1506.4L493.4 1514.4M509.4 1504.8L509.4 1516M503.8 1510.4L515 1510.4M505.4 1506.4L513.4 1514.4M513.4 1506.4L505.4 1514.4M522.4 1504.8L522.4 1516M516.8 1510.4L528 1510.4M518.4 1506.4L526.4 1514.4M526.4 1506.4L518.4 1514.4M492.2 1622.4a5.2 5.2 0 1 0 10.4 0a5.2 5.2 0 1 0 -10.4 0M504.2 1580a5.2 5.2 0 1 0 10.4 0a5.2 5.2 0 1 0 -10.4 0M517.2 1589.6a5.2 5.2 0 1 0 10.4 0a5.2 5.2 0 1 0 -10.4 0M497.4 1562.8L503 1573.1L491.8 1573.1ZM509.4 1582.2L515 1592.5L503.8 1592.5ZM522.4 1567.2L528 1577.5L516.8 1577.5Z" fill="none" stroke="#D95319" stroke-width="1.5"/>
<path d="M509.4 1522.4V1600" stroke="#D95319" stroke-width="3.4"/>
<path d="M503.9 1522.4H514.9 M503.9 1600H514.9" stroke="#D95319" stroke-width="2.9"/>
<path d="M496.8 1561.4H522" stroke="#D95319" stroke-width="4.9"/>
<path d="M581 1501.4L581 1512.6M575.4 1507L586.6 1507M577 1503L585 1511M585 1503L577 1511M594 1498L594 1509.2M588.4 1503.6L599.6 1503.6M590 1499.6L598 1507.6M598 1499.6L590 1507.6M606.4 1502.4L606.4 1513.6M600.8 1508L612 1508M602.4 1504L610.4 1512M610.4 1504L602.4 1512M575.8 1618a5.2 5.2 0 1 0 10.4 0a5.2 5.2 0 1 0 -10.4 0M588.8 1584.4a5.2 5.2 0 1 0 10.4 0a5.2 5.2 0 1 0 -10.4 0M601.8 1599a5.2 5.2 0 1 0 10.4 0a5.2 5.2 0 1 0 -10.4 0M581 1596.6L586.6 1606.9L575.4 1606.9ZM594 1582.2L599.6 1592.5L588.4 1592.5ZM607 1586.2L612.6 1596.5L601.4 1596.5Z" fill="none" stroke="#0072BD" stroke-width="1.5"/>
<path d="M594 1523V1611" stroke="#0072BD" stroke-width="3.4"/>
<path d="M588.5 1523H599.5 M588.5 1611H599.5" stroke="#0072BD" stroke-width="2.9"/>
<path d="M581.4 1567.4H606.6" stroke="#0072BD" stroke-width="4.9"/>
<path d="M645 1504.8L645 1516M639.4 1510.4L650.6 1510.4M641 1506.4L649 1514.4M649 1506.4L641 1514.4M657.4 1504.8L657.4 1516M651.8 1510.4L663 1510.4M653.4 1506.4L661.4 1514.4M661.4 1506.4L653.4 1514.4M670.4 1504.8L670.4 1516M664.8 1510.4L676 1510.4M666.4 1506.4L674.4 1514.4M674.4 1506.4L666.4 1514.4M639.2 1614a5.2 5.2 0 1 0 10.4 0a5.2 5.2 0 1 0 -10.4 0M652.2 1579.4a5.2 5.2 0 1 0 10.4 0a5.2 5.2 0 1 0 -10.4 0M664.8 1578a5.2 5.2 0 1 0 10.4 0a5.2 5.2 0 1 0 -10.4 0M644.4 1588.2L650 1598.5L638.8 1598.5ZM657.4 1596.2L663 1606.5L651.8 1606.5ZM670 1578.2L675.6 1588.5L664.4 1588.5Z" fill="none" stroke="#D95319" stroke-width="1.5"/>
<path d="M657.4 1524.4V1605" stroke="#D95319" stroke-width="3.4"/>
<path d="M651.9 1524.4H662.9 M651.9 1605H662.9" stroke="#D95319" stroke-width="2.9"/>
<path d="M644.8 1565H670" stroke="#D95319" stroke-width="4.9"/>
<rect x="109.5" y="1412.6" width="589.3" height="463" fill="none" stroke="#262626" stroke-width="1.5"/>
<path d="M183.2 1875.6V1869.6M183.2 1412.6V1418.6M330.5 1875.6V1869.6M330.5 1412.6V1418.6M477.8 1875.6V1869.6M477.8 1412.6V1418.6M625.1 1875.6V1869.6M625.1 1412.6V1418.6M109.5 1783H115.5M698.8 1783H692.8M109.5 1690.4H115.5M698.8 1690.4H692.8M109.5 1597.8H115.5M698.8 1597.8H692.8M109.5 1505.2H115.5M698.8 1505.2H692.8" stroke="#262626" stroke-width="1.5"/>
<text x="99.9" y="1887.5" font-size="34.3" fill="#262626" text-anchor="end">0</text>
<text x="99.9" y="1794.9" font-size="34.3" fill="#262626" text-anchor="end">0.2</text>
<text x="99.9" y="1702.3" font-size="34.3" fill="#262626" text-anchor="end">0.4</text>
<text x="99.9" y="1609.7" font-size="34.3" fill="#262626" text-anchor="end">0.6</text>
<text x="99.9" y="1517.1" font-size="34.3" fill="#262626" text-anchor="end">0.8</text>
<text x="99.9" y="1424.5" font-size="34.3" fill="#262626" text-anchor="end">1</text>
<text x="183.2" y="1917.6" font-size="34.3" fill="#262626" text-anchor="middle">i</text>
<text x="330.5" y="1917.6" font-size="34.3" fill="#262626" text-anchor="middle">ii</text>
<text x="477.8" y="1917.6" font-size="34.3" fill="#262626" text-anchor="middle">iii</text>
<text x="625.1" y="1917.6" font-size="34.3" fill="#262626" text-anchor="middle">iv</text>
<text x="404.2" y="1399.1" font-size="36.3" fill="#000" text-anchor="middle">Longitudinal</text>
<text transform="translate(44.3 1640.3) rotate(-90)" font-size="39" font-style="italic" fill="#000" text-anchor="middle">S</text>
<rect x="887.2" y="1412.7" width="147.5" height="462.9" fill="#CDCDCD"/>
<rect x="1182.2" y="1412.7" width="147.5" height="462.9" fill="#CDCDCD"/>
<path d="M961 1412.7V1875.6M1108.5 1412.7V1875.6M1256 1412.7V1875.6M1403.5 1412.7V1875.6M887.2 1783H1477.3M887.2 1690.4H1477.3M887.2 1597.9H1477.3M887.2 1505.3H1477.3" stroke="#262626" stroke-opacity="0.18" stroke-width="1.2" fill="none"/>
<rect x="887.2" y="1412.7" width="147.5" height="462.9" fill="none" stroke="#4D4D4D" stroke-width="1.5"/>
<rect x="1182.2" y="1412.7" width="147.5" height="462.9" fill="none" stroke="#4D4D4D" stroke-width="1.5"/>
<path d="M916.4 1527.4L916.4 1538.6M910.8 1533L922 1533M912.4 1529L920.4 1537M920.4 1529L912.4 1537M941.4 1500L941.4 1511.2M935.8 1505.6L947 1505.6M937.4 1501.6L945.4 1509.6M945.4 1501.6L937.4 1509.6M929.4 1830.4L929.4 1841.6M923.8 1836L935 1836M925.4 1832L933.4 1840M933.4 1832L925.4 1840M911.2 1668a5.2 5.2 0 1 0 10.4 0a5.2 5.2 0 1 0 -10.4 0M924.2 1625.6a5.2 5.2 0 1 0 10.4 0a5.2 5.2 0 1 0 -10.4 0M936.8 1608a5.2 5.2 0 1 0 10.4 0a5.2 5.2 0 1 0 -10.4 0M916.4 1558.2L922 1568.5L910.8 1568.5ZM929.4 1663.2L935 1673.5L923.8 1673.5ZM942 1571.2L947.6 1581.5L936.4 1581.5Z" fill="none" stroke="#0072BD" stroke-width="1.5"/>
<path d="M929.4 1528.6V1713.6" stroke="#0072BD" stroke-width="3.4"/>
<path d="M923.9 1528.6H934.9 M923.9 1713.6H934.9" stroke="#0072BD" stroke-width="2.9"/>
<path d="M916.8 1621H942" stroke="#0072BD" stroke-width="4.9"/>
<path d="M979.6 1567L979.6 1578.2M974 1572.6L985.2 1572.6M975.6 1568.6L983.6 1576.6M983.6 1568.6L975.6 1576.6M992.4 1553.8L992.4 1565M986.8 1559.4L998 1559.4M988.4 1555.4L996.4 1563.4M996.4 1555.4L988.4 1563.4M1005.4 1480.4L1005.4 1491.6M999.8 1486L1011 1486M1001.4 1482L1009.4 1490M1009.4 1482L1001.4 1490M974.4 1662a5.2 5.2 0 1 0 10.4 0a5.2 5.2 0 1 0 -10.4 0M987.2 1641.6a5.2 5.2 0 1 0 10.4 0a5.2 5.2 0 1 0 -10.4 0M1000.2 1753a5.2 5.2 0 1 0 10.4 0a5.2 5.2 0 1 0 -10.4 0M979.6 1577.2L985.2 1587.5L974 1587.5ZM992.4 1588.2L998 1598.5L986.8 1598.5ZM1005.4 1655.2L1011 1665.5L999.8 1665.5Z" fill="none" stroke="#D95319" stroke-width="1.5"/>
<path d="M992.4 1540.6V1684.6" stroke="#D95319" stroke-width="3.4"/>
<path d="M986.9 1540.6H997.9 M986.9 1684.6H997.9" stroke="#D95319" stroke-width="2.9"/>
<path d="M979.8 1612.6H1005" stroke="#D95319" stroke-width="4.9"/>
<path d="M1063.6 1690.4L1063.6 1701.6M1058 1696L1069.2 1696M1059.6 1692L1067.6 1700M1067.6 1692L1059.6 1700M1077 1827.4L1077 1838.6M1071.4 1833L1082.6 1833M1073 1829L1081 1837M1081 1829L1073 1837M1089.4 1801L1089.4 1812.2M1083.8 1806.6L1095 1806.6M1085.4 1802.6L1093.4 1810.6M1093.4 1802.6L1085.4 1810.6M1058.4 1701.4a5.2 5.2 0 1 0 10.4 0a5.2 5.2 0 1 0 -10.4 0M1071.8 1622.4a5.2 5.2 0 1 0 10.4 0a5.2 5.2 0 1 0 -10.4 0M1084.2 1654.6a5.2 5.2 0 1 0 10.4 0a5.2 5.2 0 1 0 -10.4 0M1063.6 1625.6L1069.2 1635.9L1058 1635.9ZM1077 1658.8L1082.6 1669.1L1071.4 1669.1ZM1089.4 1668.2L1095 1678.5L1083.8 1678.5Z" fill="none" stroke="#0072BD" stroke-width="1.5"/>
<path d="M1077 1629.6V1768" stroke="#0072BD" stroke-width="3.4"/>
<path d="M1071.5 1629.6H1082.5 M1071.5 1768H1082.5" stroke="#0072BD" stroke-width="2.9"/>
<path d="M1064.4 1698.6H1089.6" stroke="#0072BD" stroke-width="4.9"/>
<path d="M1127.6 1704.8L1127.6 1716M1122 1710.4L1133.2 1710.4M1123.6 1706.4L1131.6 1714.4M1131.6 1706.4L1123.6 1714.4M1140 1726L1140 1737.2M1134.4 1731.6L1145.6 1731.6M1136 1727.6L1144 1735.6M1144 1727.6L1136 1735.6M1153 1760L1153 1771.2M1147.4 1765.6L1158.6 1765.6M1149 1761.6L1157 1769.6M1157 1761.6L1149 1769.6M1122.4 1685a5.2 5.2 0 1 0 10.4 0a5.2 5.2 0 1 0 -10.4 0M1134.8 1627a5.2 5.2 0 1 0 10.4 0a5.2 5.2 0 1 0 -10.4 0M1147.8 1675.6a5.2 5.2 0 1 0 10.4 0a5.2 5.2 0 1 0 -10.4 0M1127.6 1619.8L1133.2 1630.1L1122 1630.1ZM1140 1666.6L1145.6 1676.9L1134.4 1676.9ZM1153 1675.2L1158.6 1685.5L1147.4 1685.5Z" fill="none" stroke="#D95319" stroke-width="1.5"/>
<path d="M1140 1644.4V1730" stroke="#D95319" stroke-width="3.4"/>
<path d="M1134.5 1644.4H1145.5 M1134.5 1730H1145.5" stroke="#D95319" stroke-width="2.9"/>
<path d="M1127.4 1686.4H1152.6" stroke="#D95319" stroke-width="4.9"/>
<path d="M1211.4 1643.4L1211.4 1654.6M1205.8 1649L1217 1649M1207.4 1645L1215.4 1653M1215.4 1645L1207.4 1653M1225 1714.4L1225 1725.6M1219.4 1720L1230.6 1720M1221 1716L1229 1724M1229 1716L1221 1724M1237.6 1637.4L1237.6 1648.6M1232 1643L1243.2 1643M1233.6 1639L1241.6 1647M1241.6 1639L1233.6 1647M1206.8 1694a5.2 5.2 0 1 0 10.4 0a5.2 5.2 0 1 0 -10.4 0M1219.8 1630.4a5.2 5.2 0 1 0 10.4 0a5.2 5.2 0 1 0 -10.4 0M1232.8 1637a5.2 5.2 0 1 0 10.4 0a5.2 5.2 0 1 0 -10.4 0M1212 1617.2L1217.6 1627.5L1206.4 1627.5ZM1225 1654.2L1230.6 1664.5L1219.4 1664.5ZM1238 1637.8L1243.6 1648.1L1232.4 1648.1Z" fill="none" stroke="#0072BD" stroke-width="1.5"/>
<path d="M1225 1626V1685" stroke="#0072BD" stroke-width="3.4"/>
<path d="M1219.5 1626H1230.5 M1219.5 1685H1230.5" stroke="#0072BD" stroke-width="2.9"/>
<path d="M1212.4 1656H1237.6" stroke="#0072BD" stroke-width="4.9"/>
<path d="M1275.4 1663.4L1275.4 1674.6M1269.8 1669L1281 1669M1271.4 1665L1279.4 1673M1279.4 1665L1271.4 1673M1288 1555.4L1288 1566.6M1282.4 1561L1293.6 1561M1284 1557L1292 1565M1292 1557L1284 1565M1301 1691.4L1301 1702.6M1295.4 1697L1306.6 1697M1297 1693L1305 1701M1305 1693L1297 1701M1270.2 1673a5.2 5.2 0 1 0 10.4 0a5.2 5.2 0 1 0 -10.4 0M1282.8 1652.4a5.2 5.2 0 1 0 10.4 0a5.2 5.2 0 1 0 -10.4 0M1295.8 1708a5.2 5.2 0 1 0 10.4 0a5.2 5.2 0 1 0 -10.4 0M1275.4 1606.2L1281 1616.5L1269.8 1616.5ZM1288 1554.2L1293.6 1564.5L1282.4 1564.5ZM1301 1664.2L1306.6 1674.5L1295.4 1674.5Z" fill="none" stroke="#D95319" stroke-width="1.5"/>
<path d="M1288 1593.6V1697" stroke="#D95319" stroke-width="3.4"/>
<path d="M1282.5 1593.6H1293.5 M1282.5 1697H1293.5" stroke="#D95319" stroke-width="2.9"/>
<path d="M1275.4 1645.6H1300.6" stroke="#D95319" stroke-width="4.9"/>
<path d="M1359.4 1701.4L1359.4 1712.6M1353.8 1707L1365 1707M1355.4 1703L1363.4 1711M1363.4 1703L1355.4 1711M1372.4 1741.4L1372.4 1752.6M1366.8 1747L1378 1747M1368.4 1743L1376.4 1751M1376.4 1743L1368.4 1751M1385 1736.4L1385 1747.6M1379.4 1742L1390.6 1742M1381 1738L1389 1746M1389 1738L1381 1746M1354.2 1676.6a5.2 5.2 0 1 0 10.4 0a5.2 5.2 0 1 0 -10.4 0M1367.2 1611.4a5.2 5.2 0 1 0 10.4 0a5.2 5.2 0 1 0 -10.4 0M1379.8 1617a5.2 5.2 0 1 0 10.4 0a5.2 5.2 0 1 0 -10.4 0M1359.4 1628.6L1365 1638.9L1353.8 1638.9ZM1372.4 1652.2L1378 1662.5L1366.8 1662.5ZM1385 1729.2L1390.6 1739.5L1379.4 1739.5Z" fill="none" stroke="#0072BD" stroke-width="1.5"/>
<path d="M1372.4 1631V1732.4" stroke="#0072BD" stroke-width="3.4"/>
<path d="M1366.9 1631H1377.9 M1366.9 1732.4H1377.9" stroke="#0072BD" stroke-width="2.9"/>
<path d="M1359.8 1681.6H1385" stroke="#0072BD" stroke-width="4.9"/>
<path d="M1423 1754.4L1423 1765.6M1417.4 1760L1428.6 1760M1419 1756L1427 1764M1427 1756L1419 1764M1435.4 1750.4L1435.4 1761.6M1429.8 1756L1441 1756M1431.4 1752L1439.4 1760M1439.4 1752L1431.4 1760M1448.4 1677.4L1448.4 1688.6M1442.8 1683L1454 1683M1444.4 1679L1452.4 1687M1452.4 1679L1444.4 1687M1417.8 1665a5.2 5.2 0 1 0 10.4 0a5.2 5.2 0 1 0 -10.4 0M1430.2 1635a5.2 5.2 0 1 0 10.4 0a5.2 5.2 0 1 0 -10.4 0M1443.2 1671.6a5.2 5.2 0 1 0 10.4 0a5.2 5.2 0 1 0 -10.4 0M1423 1624.6L1428.6 1634.9L1417.4 1634.9ZM1435.4 1616.2L1441 1626.5L1429.8 1626.5ZM1448.4 1652.8L1454 1663.1L1442.8 1663.1Z" fill="none" stroke="#D95319" stroke-width="1.5"/>
<path d="M1435.4 1628V1723.4" stroke="#D95319" stroke-width="3.4"/>
<path d="M1429.9 1628H1440.9 M1429.9 1723.4H1440.9" stroke="#D95319" stroke-width="2.9"/>
<path d="M1422.8 1676H1448" stroke="#D95319" stroke-width="4.9"/>
<rect x="887.2" y="1412.7" width="590.1" height="462.9" fill="none" stroke="#262626" stroke-width="1.5"/>
<path d="M961 1875.6V1869.6M961 1412.7V1418.7M1108.5 1875.6V1869.6M1108.5 1412.7V1418.7M1256 1875.6V1869.6M1256 1412.7V1418.7M1403.5 1875.6V1869.6M1403.5 1412.7V1418.7M887.2 1783H893.2M1477.3 1783H1471.3M887.2 1690.4H893.2M1477.3 1690.4H1471.3M887.2 1597.9H893.2M1477.3 1597.9H1471.3M887.2 1505.3H893.2M1477.3 1505.3H1471.3" stroke="#262626" stroke-width="1.5"/>
<text x="877.5" y="1887.5" font-size="34.3" fill="#262626" text-anchor="end">0</text>
<text x="877.5" y="1794.9" font-size="34.3" fill="#262626" text-anchor="end">0.2</text>
<text x="877.5" y="1702.3" font-size="34.3" fill="#262626" text-anchor="end">0.4</text>
<text x="877.5" y="1609.8" font-size="34.3" fill="#262626" text-anchor="end">0.6</text>
<text x="877.5" y="1517.2" font-size="34.3" fill="#262626" text-anchor="end">0.8</text>
<text x="877.5" y="1424.6" font-size="34.3" fill="#262626" text-anchor="end">1</text>
<text x="961" y="1917.6" font-size="34.3" fill="#262626" text-anchor="middle">i</text>
<text x="1108.5" y="1917.6" font-size="34.3" fill="#262626" text-anchor="middle">ii</text>
<text x="1256" y="1917.6" font-size="34.3" fill="#262626" text-anchor="middle">iii</text>
<text x="1403.5" y="1917.6" font-size="34.3" fill="#262626" text-anchor="middle">iv</text>
<text x="1182.3" y="1399.1" font-size="36.3" fill="#000" text-anchor="middle">Radial</text>
<text transform="translate(822 1640.3) rotate(-90)" font-size="39" font-style="italic" fill="#000" text-anchor="middle">S</text>
</svg></body></html>
